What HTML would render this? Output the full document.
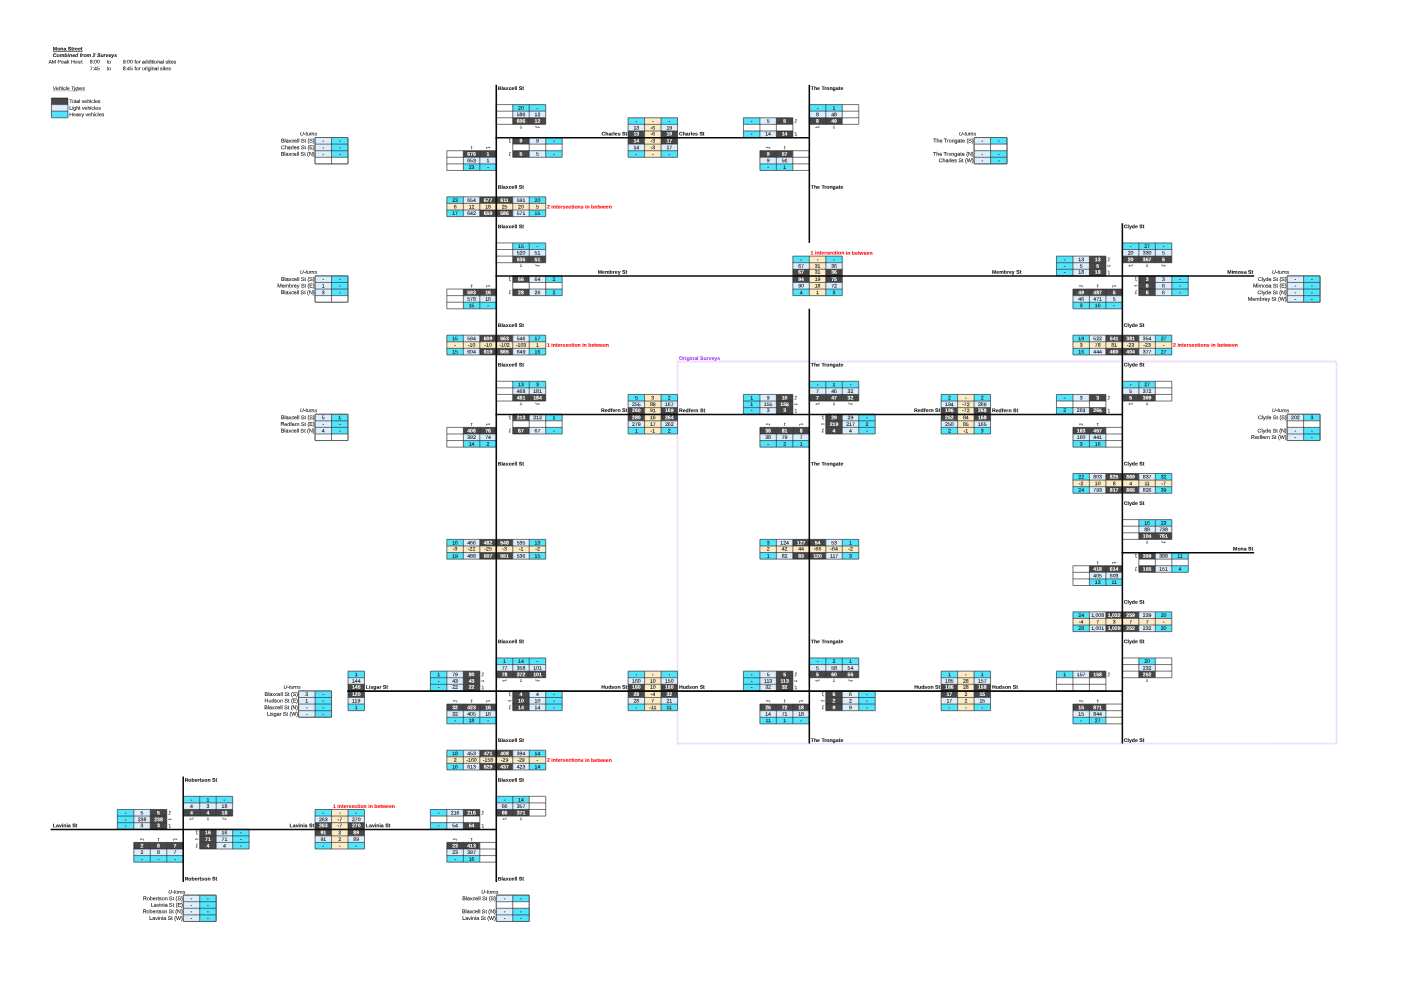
<!DOCTYPE html>
<html lang="en"><head><meta charset="utf-8"><title>Mona Street - Combined from 2 Surveys</title>
<style>
html,body{margin:0;padding:0;background:#fff}
body{width:1423px;height:989px;overflow:hidden}
svg{display:block;will-change:transform;text-rendering:geometricPrecision;font-family:"Liberation Sans",Arial,sans-serif;font-size:5.2px}
text{fill:#1a1a1a;stroke:#1a1a1a;stroke-width:0.11px}
text.wd{fill:#fff;font-weight:bold;stroke:#fff;stroke-width:0.08px}
text.b{font-weight:bold;fill:#111;stroke:#111;stroke-width:0.08px}
text.bi{font-weight:bold;font-style:italic;fill:#111;stroke:#111;stroke-width:0.08px}
text.i{font-style:italic}
text.ul{font-size:5.33px}
text.u{text-decoration:underline}
text.r{font-weight:bold;fill:#ff0000;stroke:#ff0000;stroke-width:0.08px}
text.p{font-weight:bold;fill:#9a38f5;stroke:#9a38f5;stroke-width:0.05px}
</style></head>
<body>
<svg width="1423" height="989" viewBox="0 0 1423 989">
<rect width="1423" height="989" fill="#fff"/>
<rect x="677.52" y="361.51" width="659.04" height="382.09" fill="none" stroke="#ebd0ff" stroke-width="1.8" stroke-dasharray="1.1 0.5"/>
<g font-size="5.2">
</g>
<g shape-rendering="auto">
<rect x="51.43" y="98" width="16.48" height="6.59" fill="#474747"/>
<rect x="51.43" y="104.59" width="16.48" height="6.59" fill="#dcedfc"/>
<rect x="51.43" y="111.18" width="16.48" height="6.59" fill="#50e5fc"/>
<rect x="496.28" y="104.59" width="16.48" height="6.59" fill="#ffffff"/>
<rect x="512.76" y="104.59" width="16.48" height="6.59" fill="#50e5fc"/>
<rect x="529.23" y="104.59" width="16.48" height="6.59" fill="#50e5fc"/>
<rect x="496.28" y="111.18" width="16.48" height="6.59" fill="#ffffff"/>
<rect x="512.76" y="111.18" width="16.48" height="6.59" fill="#dcedfc"/>
<rect x="529.23" y="111.18" width="16.48" height="6.59" fill="#dcedfc"/>
<rect x="496.28" y="117.77" width="16.48" height="6.59" fill="#ffffff"/>
<rect x="512.76" y="117.77" width="16.48" height="6.59" fill="#474747"/>
<rect x="529.23" y="117.77" width="16.48" height="6.59" fill="#474747"/>
<rect x="512.76" y="137.53" width="16.48" height="6.59" fill="#474747"/>
<rect x="529.23" y="137.53" width="16.48" height="6.59" fill="#dcedfc"/>
<rect x="545.71" y="137.53" width="16.48" height="6.59" fill="#50e5fc"/>
<rect x="512.76" y="144.12" width="16.48" height="6.59" fill="#ffffff"/>
<rect x="529.23" y="144.12" width="16.48" height="6.59" fill="#ffffff"/>
<rect x="545.71" y="144.12" width="16.48" height="6.59" fill="#ffffff"/>
<rect x="512.76" y="150.71" width="16.48" height="6.59" fill="#474747"/>
<rect x="529.23" y="150.71" width="16.48" height="6.59" fill="#dcedfc"/>
<rect x="545.71" y="150.71" width="16.48" height="6.59" fill="#50e5fc"/>
<rect x="446.85" y="150.71" width="16.48" height="6.59" fill="#ffffff"/>
<rect x="463.33" y="150.71" width="16.48" height="6.59" fill="#474747"/>
<rect x="479.8" y="150.71" width="16.48" height="6.59" fill="#474747"/>
<rect x="446.85" y="157.29" width="16.48" height="6.59" fill="#ffffff"/>
<rect x="463.33" y="157.29" width="16.48" height="6.59" fill="#dcedfc"/>
<rect x="479.8" y="157.29" width="16.48" height="6.59" fill="#dcedfc"/>
<rect x="446.85" y="163.88" width="16.48" height="6.59" fill="#ffffff"/>
<rect x="463.33" y="163.88" width="16.48" height="6.59" fill="#50e5fc"/>
<rect x="479.8" y="163.88" width="16.48" height="6.59" fill="#50e5fc"/>
<rect x="628.09" y="117.77" width="16.48" height="6.59" fill="#50e5fc"/>
<rect x="644.56" y="117.77" width="16.48" height="6.59" fill="#fbebc6"/>
<rect x="661.04" y="117.77" width="16.48" height="6.59" fill="#50e5fc"/>
<rect x="628.09" y="124.35" width="16.48" height="6.59" fill="#dcedfc"/>
<rect x="644.56" y="124.35" width="16.48" height="6.59" fill="#fbebc6"/>
<rect x="661.04" y="124.35" width="16.48" height="6.59" fill="#dcedfc"/>
<rect x="628.09" y="130.94" width="16.48" height="6.59" fill="#474747"/>
<rect x="644.56" y="130.94" width="16.48" height="6.59" fill="#fbebc6"/>
<rect x="661.04" y="130.94" width="16.48" height="6.59" fill="#474747"/>
<rect x="628.09" y="137.53" width="16.48" height="6.59" fill="#474747"/>
<rect x="644.56" y="137.53" width="16.48" height="6.59" fill="#fbebc6"/>
<rect x="661.04" y="137.53" width="16.48" height="6.59" fill="#474747"/>
<rect x="628.09" y="144.12" width="16.48" height="6.59" fill="#dcedfc"/>
<rect x="644.56" y="144.12" width="16.48" height="6.59" fill="#fbebc6"/>
<rect x="661.04" y="144.12" width="16.48" height="6.59" fill="#dcedfc"/>
<rect x="628.09" y="150.71" width="16.48" height="6.59" fill="#50e5fc"/>
<rect x="644.56" y="150.71" width="16.48" height="6.59" fill="#fbebc6"/>
<rect x="661.04" y="150.71" width="16.48" height="6.59" fill="#50e5fc"/>
<rect x="743.42" y="117.77" width="16.48" height="6.59" fill="#50e5fc"/>
<rect x="759.9" y="117.77" width="16.48" height="6.59" fill="#dcedfc"/>
<rect x="776.37" y="117.77" width="16.48" height="6.59" fill="#474747"/>
<rect x="743.42" y="124.35" width="16.48" height="6.59" fill="#ffffff"/>
<rect x="759.9" y="124.35" width="16.48" height="6.59" fill="#ffffff"/>
<rect x="776.37" y="124.35" width="16.48" height="6.59" fill="#ffffff"/>
<rect x="743.42" y="130.94" width="16.48" height="6.59" fill="#50e5fc"/>
<rect x="759.9" y="130.94" width="16.48" height="6.59" fill="#dcedfc"/>
<rect x="776.37" y="130.94" width="16.48" height="6.59" fill="#474747"/>
<rect x="809.32" y="104.59" width="16.48" height="6.59" fill="#50e5fc"/>
<rect x="825.8" y="104.59" width="16.48" height="6.59" fill="#50e5fc"/>
<rect x="842.28" y="104.59" width="16.48" height="6.59" fill="#ffffff"/>
<rect x="809.32" y="111.18" width="16.48" height="6.59" fill="#dcedfc"/>
<rect x="825.8" y="111.18" width="16.48" height="6.59" fill="#dcedfc"/>
<rect x="842.28" y="111.18" width="16.48" height="6.59" fill="#ffffff"/>
<rect x="809.32" y="117.77" width="16.48" height="6.59" fill="#474747"/>
<rect x="825.8" y="117.77" width="16.48" height="6.59" fill="#474747"/>
<rect x="842.28" y="117.77" width="16.48" height="6.59" fill="#ffffff"/>
<rect x="759.9" y="150.71" width="16.48" height="6.59" fill="#474747"/>
<rect x="776.37" y="150.71" width="16.48" height="6.59" fill="#474747"/>
<rect x="792.85" y="150.71" width="16.48" height="6.59" fill="#ffffff"/>
<rect x="759.9" y="157.29" width="16.48" height="6.59" fill="#dcedfc"/>
<rect x="776.37" y="157.29" width="16.48" height="6.59" fill="#dcedfc"/>
<rect x="792.85" y="157.29" width="16.48" height="6.59" fill="#ffffff"/>
<rect x="759.9" y="163.88" width="16.48" height="6.59" fill="#50e5fc"/>
<rect x="776.37" y="163.88" width="16.48" height="6.59" fill="#50e5fc"/>
<rect x="792.85" y="163.88" width="16.48" height="6.59" fill="#ffffff"/>
<rect x="315.04" y="137.53" width="16.48" height="6.59" fill="#dcedfc"/>
<rect x="331.52" y="137.53" width="16.48" height="6.59" fill="#50e5fc"/>
<rect x="315.04" y="144.12" width="16.48" height="6.59" fill="#dcedfc"/>
<rect x="331.52" y="144.12" width="16.48" height="6.59" fill="#50e5fc"/>
<rect x="315.04" y="150.71" width="16.48" height="6.59" fill="#dcedfc"/>
<rect x="331.52" y="150.71" width="16.48" height="6.59" fill="#50e5fc"/>
<rect x="315.04" y="157.29" width="16.48" height="6.59" fill="#ffffff"/>
<rect x="331.52" y="157.29" width="16.48" height="6.59" fill="#ffffff"/>
<rect x="974.08" y="137.53" width="16.48" height="6.59" fill="#dcedfc"/>
<rect x="990.56" y="137.53" width="16.48" height="6.59" fill="#50e5fc"/>
<rect x="974.08" y="144.12" width="16.48" height="6.59" fill="#ffffff"/>
<rect x="990.56" y="144.12" width="16.48" height="6.59" fill="#ffffff"/>
<rect x="974.08" y="150.71" width="16.48" height="6.59" fill="#dcedfc"/>
<rect x="990.56" y="150.71" width="16.48" height="6.59" fill="#50e5fc"/>
<rect x="974.08" y="157.29" width="16.48" height="6.59" fill="#dcedfc"/>
<rect x="990.56" y="157.29" width="16.48" height="6.59" fill="#50e5fc"/>
<rect x="446.85" y="196.82" width="16.48" height="6.59" fill="#50e5fc"/>
<rect x="463.33" y="196.82" width="16.48" height="6.59" fill="#dcedfc"/>
<rect x="479.8" y="196.82" width="16.48" height="6.59" fill="#474747"/>
<rect x="496.28" y="196.82" width="16.48" height="6.59" fill="#474747"/>
<rect x="512.76" y="196.82" width="16.48" height="6.59" fill="#dcedfc"/>
<rect x="529.23" y="196.82" width="16.48" height="6.59" fill="#50e5fc"/>
<rect x="446.85" y="203.41" width="16.48" height="6.59" fill="#fbebc6"/>
<rect x="463.33" y="203.41" width="16.48" height="6.59" fill="#fbebc6"/>
<rect x="479.8" y="203.41" width="16.48" height="6.59" fill="#fbebc6"/>
<rect x="496.28" y="203.41" width="16.48" height="6.59" fill="#fbebc6"/>
<rect x="512.76" y="203.41" width="16.48" height="6.59" fill="#fbebc6"/>
<rect x="529.23" y="203.41" width="16.48" height="6.59" fill="#fbebc6"/>
<rect x="446.85" y="209.99" width="16.48" height="6.59" fill="#50e5fc"/>
<rect x="463.33" y="209.99" width="16.48" height="6.59" fill="#dcedfc"/>
<rect x="479.8" y="209.99" width="16.48" height="6.59" fill="#474747"/>
<rect x="496.28" y="209.99" width="16.48" height="6.59" fill="#474747"/>
<rect x="512.76" y="209.99" width="16.48" height="6.59" fill="#dcedfc"/>
<rect x="529.23" y="209.99" width="16.48" height="6.59" fill="#50e5fc"/>
<rect x="496.28" y="242.93" width="16.48" height="6.59" fill="#ffffff"/>
<rect x="512.76" y="242.93" width="16.48" height="6.59" fill="#50e5fc"/>
<rect x="529.23" y="242.93" width="16.48" height="6.59" fill="#50e5fc"/>
<rect x="496.28" y="249.52" width="16.48" height="6.59" fill="#ffffff"/>
<rect x="512.76" y="249.52" width="16.48" height="6.59" fill="#dcedfc"/>
<rect x="529.23" y="249.52" width="16.48" height="6.59" fill="#dcedfc"/>
<rect x="496.28" y="256.11" width="16.48" height="6.59" fill="#ffffff"/>
<rect x="512.76" y="256.11" width="16.48" height="6.59" fill="#474747"/>
<rect x="529.23" y="256.11" width="16.48" height="6.59" fill="#474747"/>
<rect x="512.76" y="275.87" width="16.48" height="6.59" fill="#474747"/>
<rect x="529.23" y="275.87" width="16.48" height="6.59" fill="#dcedfc"/>
<rect x="545.71" y="275.87" width="16.48" height="6.59" fill="#50e5fc"/>
<rect x="512.76" y="282.46" width="16.48" height="6.59" fill="#ffffff"/>
<rect x="529.23" y="282.46" width="16.48" height="6.59" fill="#ffffff"/>
<rect x="545.71" y="282.46" width="16.48" height="6.59" fill="#ffffff"/>
<rect x="512.76" y="289.05" width="16.48" height="6.59" fill="#474747"/>
<rect x="529.23" y="289.05" width="16.48" height="6.59" fill="#dcedfc"/>
<rect x="545.71" y="289.05" width="16.48" height="6.59" fill="#50e5fc"/>
<rect x="446.85" y="289.05" width="16.48" height="6.59" fill="#ffffff"/>
<rect x="463.33" y="289.05" width="16.48" height="6.59" fill="#474747"/>
<rect x="479.8" y="289.05" width="16.48" height="6.59" fill="#474747"/>
<rect x="446.85" y="295.63" width="16.48" height="6.59" fill="#ffffff"/>
<rect x="463.33" y="295.63" width="16.48" height="6.59" fill="#dcedfc"/>
<rect x="479.8" y="295.63" width="16.48" height="6.59" fill="#dcedfc"/>
<rect x="446.85" y="302.22" width="16.48" height="6.59" fill="#ffffff"/>
<rect x="463.33" y="302.22" width="16.48" height="6.59" fill="#50e5fc"/>
<rect x="479.8" y="302.22" width="16.48" height="6.59" fill="#50e5fc"/>
<rect x="792.85" y="256.11" width="16.48" height="6.59" fill="#50e5fc"/>
<rect x="809.32" y="256.11" width="16.48" height="6.59" fill="#fbebc6"/>
<rect x="825.8" y="256.11" width="16.48" height="6.59" fill="#50e5fc"/>
<rect x="792.85" y="262.7" width="16.48" height="6.59" fill="#dcedfc"/>
<rect x="809.32" y="262.7" width="16.48" height="6.59" fill="#fbebc6"/>
<rect x="825.8" y="262.7" width="16.48" height="6.59" fill="#dcedfc"/>
<rect x="792.85" y="269.28" width="16.48" height="6.59" fill="#474747"/>
<rect x="809.32" y="269.28" width="16.48" height="6.59" fill="#fbebc6"/>
<rect x="825.8" y="269.28" width="16.48" height="6.59" fill="#474747"/>
<rect x="792.85" y="275.87" width="16.48" height="6.59" fill="#474747"/>
<rect x="809.32" y="275.87" width="16.48" height="6.59" fill="#fbebc6"/>
<rect x="825.8" y="275.87" width="16.48" height="6.59" fill="#474747"/>
<rect x="792.85" y="282.46" width="16.48" height="6.59" fill="#dcedfc"/>
<rect x="809.32" y="282.46" width="16.48" height="6.59" fill="#fbebc6"/>
<rect x="825.8" y="282.46" width="16.48" height="6.59" fill="#dcedfc"/>
<rect x="792.85" y="289.05" width="16.48" height="6.59" fill="#50e5fc"/>
<rect x="809.32" y="289.05" width="16.48" height="6.59" fill="#fbebc6"/>
<rect x="825.8" y="289.05" width="16.48" height="6.59" fill="#50e5fc"/>
<rect x="1122.37" y="242.93" width="16.48" height="6.59" fill="#50e5fc"/>
<rect x="1138.84" y="242.93" width="16.48" height="6.59" fill="#50e5fc"/>
<rect x="1155.32" y="242.93" width="16.48" height="6.59" fill="#50e5fc"/>
<rect x="1122.37" y="249.52" width="16.48" height="6.59" fill="#dcedfc"/>
<rect x="1138.84" y="249.52" width="16.48" height="6.59" fill="#dcedfc"/>
<rect x="1155.32" y="249.52" width="16.48" height="6.59" fill="#dcedfc"/>
<rect x="1122.37" y="256.11" width="16.48" height="6.59" fill="#474747"/>
<rect x="1138.84" y="256.11" width="16.48" height="6.59" fill="#474747"/>
<rect x="1155.32" y="256.11" width="16.48" height="6.59" fill="#474747"/>
<rect x="1056.46" y="256.11" width="16.48" height="6.59" fill="#50e5fc"/>
<rect x="1072.94" y="256.11" width="16.48" height="6.59" fill="#dcedfc"/>
<rect x="1089.42" y="256.11" width="16.48" height="6.59" fill="#474747"/>
<rect x="1056.46" y="262.7" width="16.48" height="6.59" fill="#50e5fc"/>
<rect x="1072.94" y="262.7" width="16.48" height="6.59" fill="#dcedfc"/>
<rect x="1089.42" y="262.7" width="16.48" height="6.59" fill="#474747"/>
<rect x="1056.46" y="269.28" width="16.48" height="6.59" fill="#50e5fc"/>
<rect x="1072.94" y="269.28" width="16.48" height="6.59" fill="#dcedfc"/>
<rect x="1089.42" y="269.28" width="16.48" height="6.59" fill="#474747"/>
<rect x="1138.84" y="275.87" width="16.48" height="6.59" fill="#474747"/>
<rect x="1155.32" y="275.87" width="16.48" height="6.59" fill="#dcedfc"/>
<rect x="1171.8" y="275.87" width="16.48" height="6.59" fill="#50e5fc"/>
<rect x="1138.84" y="282.46" width="16.48" height="6.59" fill="#474747"/>
<rect x="1155.32" y="282.46" width="16.48" height="6.59" fill="#dcedfc"/>
<rect x="1171.8" y="282.46" width="16.48" height="6.59" fill="#50e5fc"/>
<rect x="1138.84" y="289.05" width="16.48" height="6.59" fill="#474747"/>
<rect x="1155.32" y="289.05" width="16.48" height="6.59" fill="#dcedfc"/>
<rect x="1171.8" y="289.05" width="16.48" height="6.59" fill="#50e5fc"/>
<rect x="1072.94" y="289.05" width="16.48" height="6.59" fill="#474747"/>
<rect x="1089.42" y="289.05" width="16.48" height="6.59" fill="#474747"/>
<rect x="1105.89" y="289.05" width="16.48" height="6.59" fill="#474747"/>
<rect x="1072.94" y="295.63" width="16.48" height="6.59" fill="#dcedfc"/>
<rect x="1089.42" y="295.63" width="16.48" height="6.59" fill="#dcedfc"/>
<rect x="1105.89" y="295.63" width="16.48" height="6.59" fill="#dcedfc"/>
<rect x="1072.94" y="302.22" width="16.48" height="6.59" fill="#50e5fc"/>
<rect x="1089.42" y="302.22" width="16.48" height="6.59" fill="#50e5fc"/>
<rect x="1105.89" y="302.22" width="16.48" height="6.59" fill="#50e5fc"/>
<rect x="315.04" y="275.87" width="16.48" height="6.59" fill="#dcedfc"/>
<rect x="331.52" y="275.87" width="16.48" height="6.59" fill="#50e5fc"/>
<rect x="315.04" y="282.46" width="16.48" height="6.59" fill="#dcedfc"/>
<rect x="331.52" y="282.46" width="16.48" height="6.59" fill="#50e5fc"/>
<rect x="315.04" y="289.05" width="16.48" height="6.59" fill="#dcedfc"/>
<rect x="331.52" y="289.05" width="16.48" height="6.59" fill="#50e5fc"/>
<rect x="315.04" y="295.63" width="16.48" height="6.59" fill="#ffffff"/>
<rect x="331.52" y="295.63" width="16.48" height="6.59" fill="#ffffff"/>
<rect x="1287.13" y="275.87" width="16.48" height="6.59" fill="#dcedfc"/>
<rect x="1303.6" y="275.87" width="16.48" height="6.59" fill="#50e5fc"/>
<rect x="1287.13" y="282.46" width="16.48" height="6.59" fill="#dcedfc"/>
<rect x="1303.6" y="282.46" width="16.48" height="6.59" fill="#50e5fc"/>
<rect x="1287.13" y="289.05" width="16.48" height="6.59" fill="#dcedfc"/>
<rect x="1303.6" y="289.05" width="16.48" height="6.59" fill="#50e5fc"/>
<rect x="1287.13" y="295.63" width="16.48" height="6.59" fill="#dcedfc"/>
<rect x="1303.6" y="295.63" width="16.48" height="6.59" fill="#50e5fc"/>
<rect x="446.85" y="335.16" width="16.48" height="6.59" fill="#50e5fc"/>
<rect x="463.33" y="335.16" width="16.48" height="6.59" fill="#dcedfc"/>
<rect x="479.8" y="335.16" width="16.48" height="6.59" fill="#474747"/>
<rect x="496.28" y="335.16" width="16.48" height="6.59" fill="#474747"/>
<rect x="512.76" y="335.16" width="16.48" height="6.59" fill="#dcedfc"/>
<rect x="529.23" y="335.16" width="16.48" height="6.59" fill="#50e5fc"/>
<rect x="446.85" y="341.75" width="16.48" height="6.59" fill="#fbebc6"/>
<rect x="463.33" y="341.75" width="16.48" height="6.59" fill="#fbebc6"/>
<rect x="479.8" y="341.75" width="16.48" height="6.59" fill="#fbebc6"/>
<rect x="496.28" y="341.75" width="16.48" height="6.59" fill="#fbebc6"/>
<rect x="512.76" y="341.75" width="16.48" height="6.59" fill="#fbebc6"/>
<rect x="529.23" y="341.75" width="16.48" height="6.59" fill="#fbebc6"/>
<rect x="446.85" y="348.34" width="16.48" height="6.59" fill="#50e5fc"/>
<rect x="463.33" y="348.34" width="16.48" height="6.59" fill="#dcedfc"/>
<rect x="479.8" y="348.34" width="16.48" height="6.59" fill="#474747"/>
<rect x="496.28" y="348.34" width="16.48" height="6.59" fill="#474747"/>
<rect x="512.76" y="348.34" width="16.48" height="6.59" fill="#dcedfc"/>
<rect x="529.23" y="348.34" width="16.48" height="6.59" fill="#50e5fc"/>
<rect x="1072.94" y="335.16" width="16.48" height="6.59" fill="#50e5fc"/>
<rect x="1089.42" y="335.16" width="16.48" height="6.59" fill="#dcedfc"/>
<rect x="1105.89" y="335.16" width="16.48" height="6.59" fill="#474747"/>
<rect x="1122.37" y="335.16" width="16.48" height="6.59" fill="#474747"/>
<rect x="1138.84" y="335.16" width="16.48" height="6.59" fill="#dcedfc"/>
<rect x="1155.32" y="335.16" width="16.48" height="6.59" fill="#50e5fc"/>
<rect x="1072.94" y="341.75" width="16.48" height="6.59" fill="#fbebc6"/>
<rect x="1089.42" y="341.75" width="16.48" height="6.59" fill="#fbebc6"/>
<rect x="1105.89" y="341.75" width="16.48" height="6.59" fill="#fbebc6"/>
<rect x="1122.37" y="341.75" width="16.48" height="6.59" fill="#fbebc6"/>
<rect x="1138.84" y="341.75" width="16.48" height="6.59" fill="#fbebc6"/>
<rect x="1155.32" y="341.75" width="16.48" height="6.59" fill="#fbebc6"/>
<rect x="1072.94" y="348.34" width="16.48" height="6.59" fill="#50e5fc"/>
<rect x="1089.42" y="348.34" width="16.48" height="6.59" fill="#dcedfc"/>
<rect x="1105.89" y="348.34" width="16.48" height="6.59" fill="#474747"/>
<rect x="1122.37" y="348.34" width="16.48" height="6.59" fill="#474747"/>
<rect x="1138.84" y="348.34" width="16.48" height="6.59" fill="#dcedfc"/>
<rect x="1155.32" y="348.34" width="16.48" height="6.59" fill="#50e5fc"/>
<rect x="496.28" y="381.27" width="16.48" height="6.59" fill="#ffffff"/>
<rect x="512.76" y="381.27" width="16.48" height="6.59" fill="#50e5fc"/>
<rect x="529.23" y="381.27" width="16.48" height="6.59" fill="#50e5fc"/>
<rect x="496.28" y="387.86" width="16.48" height="6.59" fill="#ffffff"/>
<rect x="512.76" y="387.86" width="16.48" height="6.59" fill="#dcedfc"/>
<rect x="529.23" y="387.86" width="16.48" height="6.59" fill="#dcedfc"/>
<rect x="496.28" y="394.45" width="16.48" height="6.59" fill="#ffffff"/>
<rect x="512.76" y="394.45" width="16.48" height="6.59" fill="#474747"/>
<rect x="529.23" y="394.45" width="16.48" height="6.59" fill="#474747"/>
<rect x="512.76" y="414.21" width="16.48" height="6.59" fill="#474747"/>
<rect x="529.23" y="414.21" width="16.48" height="6.59" fill="#dcedfc"/>
<rect x="545.71" y="414.21" width="16.48" height="6.59" fill="#50e5fc"/>
<rect x="512.76" y="420.8" width="16.48" height="6.59" fill="#ffffff"/>
<rect x="529.23" y="420.8" width="16.48" height="6.59" fill="#ffffff"/>
<rect x="545.71" y="420.8" width="16.48" height="6.59" fill="#ffffff"/>
<rect x="512.76" y="427.39" width="16.48" height="6.59" fill="#474747"/>
<rect x="529.23" y="427.39" width="16.48" height="6.59" fill="#dcedfc"/>
<rect x="545.71" y="427.39" width="16.48" height="6.59" fill="#50e5fc"/>
<rect x="446.85" y="427.39" width="16.48" height="6.59" fill="#ffffff"/>
<rect x="463.33" y="427.39" width="16.48" height="6.59" fill="#474747"/>
<rect x="479.8" y="427.39" width="16.48" height="6.59" fill="#474747"/>
<rect x="446.85" y="433.98" width="16.48" height="6.59" fill="#ffffff"/>
<rect x="463.33" y="433.98" width="16.48" height="6.59" fill="#dcedfc"/>
<rect x="479.8" y="433.98" width="16.48" height="6.59" fill="#dcedfc"/>
<rect x="446.85" y="440.56" width="16.48" height="6.59" fill="#ffffff"/>
<rect x="463.33" y="440.56" width="16.48" height="6.59" fill="#50e5fc"/>
<rect x="479.8" y="440.56" width="16.48" height="6.59" fill="#50e5fc"/>
<rect x="628.09" y="394.45" width="16.48" height="6.59" fill="#50e5fc"/>
<rect x="644.56" y="394.45" width="16.48" height="6.59" fill="#fbebc6"/>
<rect x="661.04" y="394.45" width="16.48" height="6.59" fill="#50e5fc"/>
<rect x="628.09" y="401.04" width="16.48" height="6.59" fill="#dcedfc"/>
<rect x="644.56" y="401.04" width="16.48" height="6.59" fill="#fbebc6"/>
<rect x="661.04" y="401.04" width="16.48" height="6.59" fill="#dcedfc"/>
<rect x="628.09" y="407.63" width="16.48" height="6.59" fill="#474747"/>
<rect x="644.56" y="407.63" width="16.48" height="6.59" fill="#fbebc6"/>
<rect x="661.04" y="407.63" width="16.48" height="6.59" fill="#474747"/>
<rect x="628.09" y="414.21" width="16.48" height="6.59" fill="#474747"/>
<rect x="644.56" y="414.21" width="16.48" height="6.59" fill="#fbebc6"/>
<rect x="661.04" y="414.21" width="16.48" height="6.59" fill="#474747"/>
<rect x="628.09" y="420.8" width="16.48" height="6.59" fill="#dcedfc"/>
<rect x="644.56" y="420.8" width="16.48" height="6.59" fill="#fbebc6"/>
<rect x="661.04" y="420.8" width="16.48" height="6.59" fill="#dcedfc"/>
<rect x="628.09" y="427.39" width="16.48" height="6.59" fill="#50e5fc"/>
<rect x="644.56" y="427.39" width="16.48" height="6.59" fill="#fbebc6"/>
<rect x="661.04" y="427.39" width="16.48" height="6.59" fill="#50e5fc"/>
<rect x="743.42" y="394.45" width="16.48" height="6.59" fill="#50e5fc"/>
<rect x="759.9" y="394.45" width="16.48" height="6.59" fill="#dcedfc"/>
<rect x="776.37" y="394.45" width="16.48" height="6.59" fill="#474747"/>
<rect x="743.42" y="401.04" width="16.48" height="6.59" fill="#50e5fc"/>
<rect x="759.9" y="401.04" width="16.48" height="6.59" fill="#dcedfc"/>
<rect x="776.37" y="401.04" width="16.48" height="6.59" fill="#474747"/>
<rect x="743.42" y="407.63" width="16.48" height="6.59" fill="#50e5fc"/>
<rect x="759.9" y="407.63" width="16.48" height="6.59" fill="#dcedfc"/>
<rect x="776.37" y="407.63" width="16.48" height="6.59" fill="#474747"/>
<rect x="809.32" y="381.27" width="16.48" height="6.59" fill="#50e5fc"/>
<rect x="825.8" y="381.27" width="16.48" height="6.59" fill="#50e5fc"/>
<rect x="842.28" y="381.27" width="16.48" height="6.59" fill="#50e5fc"/>
<rect x="809.32" y="387.86" width="16.48" height="6.59" fill="#dcedfc"/>
<rect x="825.8" y="387.86" width="16.48" height="6.59" fill="#dcedfc"/>
<rect x="842.28" y="387.86" width="16.48" height="6.59" fill="#dcedfc"/>
<rect x="809.32" y="394.45" width="16.48" height="6.59" fill="#474747"/>
<rect x="825.8" y="394.45" width="16.48" height="6.59" fill="#474747"/>
<rect x="842.28" y="394.45" width="16.48" height="6.59" fill="#474747"/>
<rect x="825.8" y="414.21" width="16.48" height="6.59" fill="#474747"/>
<rect x="842.28" y="414.21" width="16.48" height="6.59" fill="#dcedfc"/>
<rect x="858.75" y="414.21" width="16.48" height="6.59" fill="#50e5fc"/>
<rect x="825.8" y="420.8" width="16.48" height="6.59" fill="#474747"/>
<rect x="842.28" y="420.8" width="16.48" height="6.59" fill="#dcedfc"/>
<rect x="858.75" y="420.8" width="16.48" height="6.59" fill="#50e5fc"/>
<rect x="825.8" y="427.39" width="16.48" height="6.59" fill="#474747"/>
<rect x="842.28" y="427.39" width="16.48" height="6.59" fill="#dcedfc"/>
<rect x="858.75" y="427.39" width="16.48" height="6.59" fill="#50e5fc"/>
<rect x="759.9" y="427.39" width="16.48" height="6.59" fill="#474747"/>
<rect x="776.37" y="427.39" width="16.48" height="6.59" fill="#474747"/>
<rect x="792.85" y="427.39" width="16.48" height="6.59" fill="#474747"/>
<rect x="759.9" y="433.98" width="16.48" height="6.59" fill="#dcedfc"/>
<rect x="776.37" y="433.98" width="16.48" height="6.59" fill="#dcedfc"/>
<rect x="792.85" y="433.98" width="16.48" height="6.59" fill="#dcedfc"/>
<rect x="759.9" y="440.56" width="16.48" height="6.59" fill="#50e5fc"/>
<rect x="776.37" y="440.56" width="16.48" height="6.59" fill="#50e5fc"/>
<rect x="792.85" y="440.56" width="16.48" height="6.59" fill="#50e5fc"/>
<rect x="941.13" y="394.45" width="16.48" height="6.59" fill="#50e5fc"/>
<rect x="957.61" y="394.45" width="16.48" height="6.59" fill="#fbebc6"/>
<rect x="974.08" y="394.45" width="16.48" height="6.59" fill="#50e5fc"/>
<rect x="941.13" y="401.04" width="16.48" height="6.59" fill="#dcedfc"/>
<rect x="957.61" y="401.04" width="16.48" height="6.59" fill="#fbebc6"/>
<rect x="974.08" y="401.04" width="16.48" height="6.59" fill="#dcedfc"/>
<rect x="941.13" y="407.63" width="16.48" height="6.59" fill="#474747"/>
<rect x="957.61" y="407.63" width="16.48" height="6.59" fill="#fbebc6"/>
<rect x="974.08" y="407.63" width="16.48" height="6.59" fill="#474747"/>
<rect x="941.13" y="414.21" width="16.48" height="6.59" fill="#474747"/>
<rect x="957.61" y="414.21" width="16.48" height="6.59" fill="#fbebc6"/>
<rect x="974.08" y="414.21" width="16.48" height="6.59" fill="#474747"/>
<rect x="941.13" y="420.8" width="16.48" height="6.59" fill="#dcedfc"/>
<rect x="957.61" y="420.8" width="16.48" height="6.59" fill="#fbebc6"/>
<rect x="974.08" y="420.8" width="16.48" height="6.59" fill="#dcedfc"/>
<rect x="941.13" y="427.39" width="16.48" height="6.59" fill="#50e5fc"/>
<rect x="957.61" y="427.39" width="16.48" height="6.59" fill="#fbebc6"/>
<rect x="974.08" y="427.39" width="16.48" height="6.59" fill="#50e5fc"/>
<rect x="1056.46" y="394.45" width="16.48" height="6.59" fill="#50e5fc"/>
<rect x="1072.94" y="394.45" width="16.48" height="6.59" fill="#dcedfc"/>
<rect x="1089.42" y="394.45" width="16.48" height="6.59" fill="#474747"/>
<rect x="1056.46" y="401.04" width="16.48" height="6.59" fill="#ffffff"/>
<rect x="1072.94" y="401.04" width="16.48" height="6.59" fill="#ffffff"/>
<rect x="1089.42" y="401.04" width="16.48" height="6.59" fill="#ffffff"/>
<rect x="1056.46" y="407.63" width="16.48" height="6.59" fill="#50e5fc"/>
<rect x="1072.94" y="407.63" width="16.48" height="6.59" fill="#dcedfc"/>
<rect x="1089.42" y="407.63" width="16.48" height="6.59" fill="#474747"/>
<rect x="1122.37" y="381.27" width="16.48" height="6.59" fill="#50e5fc"/>
<rect x="1138.84" y="381.27" width="16.48" height="6.59" fill="#50e5fc"/>
<rect x="1155.32" y="381.27" width="16.48" height="6.59" fill="#ffffff"/>
<rect x="1122.37" y="387.86" width="16.48" height="6.59" fill="#dcedfc"/>
<rect x="1138.84" y="387.86" width="16.48" height="6.59" fill="#dcedfc"/>
<rect x="1155.32" y="387.86" width="16.48" height="6.59" fill="#ffffff"/>
<rect x="1122.37" y="394.45" width="16.48" height="6.59" fill="#474747"/>
<rect x="1138.84" y="394.45" width="16.48" height="6.59" fill="#474747"/>
<rect x="1155.32" y="394.45" width="16.48" height="6.59" fill="#ffffff"/>
<rect x="1072.94" y="427.39" width="16.48" height="6.59" fill="#474747"/>
<rect x="1089.42" y="427.39" width="16.48" height="6.59" fill="#474747"/>
<rect x="1105.89" y="427.39" width="16.48" height="6.59" fill="#ffffff"/>
<rect x="1072.94" y="433.98" width="16.48" height="6.59" fill="#dcedfc"/>
<rect x="1089.42" y="433.98" width="16.48" height="6.59" fill="#dcedfc"/>
<rect x="1105.89" y="433.98" width="16.48" height="6.59" fill="#ffffff"/>
<rect x="1072.94" y="440.56" width="16.48" height="6.59" fill="#50e5fc"/>
<rect x="1089.42" y="440.56" width="16.48" height="6.59" fill="#50e5fc"/>
<rect x="1105.89" y="440.56" width="16.48" height="6.59" fill="#ffffff"/>
<rect x="315.04" y="414.21" width="16.48" height="6.59" fill="#dcedfc"/>
<rect x="331.52" y="414.21" width="16.48" height="6.59" fill="#50e5fc"/>
<rect x="315.04" y="420.8" width="16.48" height="6.59" fill="#dcedfc"/>
<rect x="331.52" y="420.8" width="16.48" height="6.59" fill="#50e5fc"/>
<rect x="315.04" y="427.39" width="16.48" height="6.59" fill="#dcedfc"/>
<rect x="331.52" y="427.39" width="16.48" height="6.59" fill="#50e5fc"/>
<rect x="315.04" y="433.98" width="16.48" height="6.59" fill="#ffffff"/>
<rect x="331.52" y="433.98" width="16.48" height="6.59" fill="#ffffff"/>
<rect x="1287.13" y="414.21" width="16.48" height="6.59" fill="#dcedfc"/>
<rect x="1303.6" y="414.21" width="16.48" height="6.59" fill="#50e5fc"/>
<rect x="1287.13" y="420.8" width="16.48" height="6.59" fill="#ffffff"/>
<rect x="1303.6" y="420.8" width="16.48" height="6.59" fill="#ffffff"/>
<rect x="1287.13" y="427.39" width="16.48" height="6.59" fill="#dcedfc"/>
<rect x="1303.6" y="427.39" width="16.48" height="6.59" fill="#50e5fc"/>
<rect x="1287.13" y="433.98" width="16.48" height="6.59" fill="#dcedfc"/>
<rect x="1303.6" y="433.98" width="16.48" height="6.59" fill="#50e5fc"/>
<rect x="1072.94" y="473.5" width="16.48" height="6.59" fill="#50e5fc"/>
<rect x="1089.42" y="473.5" width="16.48" height="6.59" fill="#dcedfc"/>
<rect x="1105.89" y="473.5" width="16.48" height="6.59" fill="#474747"/>
<rect x="1122.37" y="473.5" width="16.48" height="6.59" fill="#474747"/>
<rect x="1138.84" y="473.5" width="16.48" height="6.59" fill="#dcedfc"/>
<rect x="1155.32" y="473.5" width="16.48" height="6.59" fill="#50e5fc"/>
<rect x="1072.94" y="480.09" width="16.48" height="6.59" fill="#fbebc6"/>
<rect x="1089.42" y="480.09" width="16.48" height="6.59" fill="#fbebc6"/>
<rect x="1105.89" y="480.09" width="16.48" height="6.59" fill="#fbebc6"/>
<rect x="1122.37" y="480.09" width="16.48" height="6.59" fill="#fbebc6"/>
<rect x="1138.84" y="480.09" width="16.48" height="6.59" fill="#fbebc6"/>
<rect x="1155.32" y="480.09" width="16.48" height="6.59" fill="#fbebc6"/>
<rect x="1072.94" y="486.68" width="16.48" height="6.59" fill="#50e5fc"/>
<rect x="1089.42" y="486.68" width="16.48" height="6.59" fill="#dcedfc"/>
<rect x="1105.89" y="486.68" width="16.48" height="6.59" fill="#474747"/>
<rect x="1122.37" y="486.68" width="16.48" height="6.59" fill="#474747"/>
<rect x="1138.84" y="486.68" width="16.48" height="6.59" fill="#dcedfc"/>
<rect x="1155.32" y="486.68" width="16.48" height="6.59" fill="#50e5fc"/>
<rect x="446.85" y="539.38" width="16.48" height="6.59" fill="#50e5fc"/>
<rect x="463.33" y="539.38" width="16.48" height="6.59" fill="#dcedfc"/>
<rect x="479.8" y="539.38" width="16.48" height="6.59" fill="#474747"/>
<rect x="496.28" y="539.38" width="16.48" height="6.59" fill="#474747"/>
<rect x="512.76" y="539.38" width="16.48" height="6.59" fill="#dcedfc"/>
<rect x="529.23" y="539.38" width="16.48" height="6.59" fill="#50e5fc"/>
<rect x="446.85" y="545.97" width="16.48" height="6.59" fill="#fbebc6"/>
<rect x="463.33" y="545.97" width="16.48" height="6.59" fill="#fbebc6"/>
<rect x="479.8" y="545.97" width="16.48" height="6.59" fill="#fbebc6"/>
<rect x="496.28" y="545.97" width="16.48" height="6.59" fill="#fbebc6"/>
<rect x="512.76" y="545.97" width="16.48" height="6.59" fill="#fbebc6"/>
<rect x="529.23" y="545.97" width="16.48" height="6.59" fill="#fbebc6"/>
<rect x="446.85" y="552.56" width="16.48" height="6.59" fill="#50e5fc"/>
<rect x="463.33" y="552.56" width="16.48" height="6.59" fill="#dcedfc"/>
<rect x="479.8" y="552.56" width="16.48" height="6.59" fill="#474747"/>
<rect x="496.28" y="552.56" width="16.48" height="6.59" fill="#474747"/>
<rect x="512.76" y="552.56" width="16.48" height="6.59" fill="#dcedfc"/>
<rect x="529.23" y="552.56" width="16.48" height="6.59" fill="#50e5fc"/>
<rect x="759.9" y="539.38" width="16.48" height="6.59" fill="#50e5fc"/>
<rect x="776.37" y="539.38" width="16.48" height="6.59" fill="#dcedfc"/>
<rect x="792.85" y="539.38" width="16.48" height="6.59" fill="#474747"/>
<rect x="809.32" y="539.38" width="16.48" height="6.59" fill="#474747"/>
<rect x="825.8" y="539.38" width="16.48" height="6.59" fill="#dcedfc"/>
<rect x="842.28" y="539.38" width="16.48" height="6.59" fill="#50e5fc"/>
<rect x="759.9" y="545.97" width="16.48" height="6.59" fill="#fbebc6"/>
<rect x="776.37" y="545.97" width="16.48" height="6.59" fill="#fbebc6"/>
<rect x="792.85" y="545.97" width="16.48" height="6.59" fill="#fbebc6"/>
<rect x="809.32" y="545.97" width="16.48" height="6.59" fill="#fbebc6"/>
<rect x="825.8" y="545.97" width="16.48" height="6.59" fill="#fbebc6"/>
<rect x="842.28" y="545.97" width="16.48" height="6.59" fill="#fbebc6"/>
<rect x="759.9" y="552.56" width="16.48" height="6.59" fill="#50e5fc"/>
<rect x="776.37" y="552.56" width="16.48" height="6.59" fill="#dcedfc"/>
<rect x="792.85" y="552.56" width="16.48" height="6.59" fill="#474747"/>
<rect x="809.32" y="552.56" width="16.48" height="6.59" fill="#474747"/>
<rect x="825.8" y="552.56" width="16.48" height="6.59" fill="#dcedfc"/>
<rect x="842.28" y="552.56" width="16.48" height="6.59" fill="#50e5fc"/>
<rect x="1122.37" y="519.62" width="16.48" height="6.59" fill="#ffffff"/>
<rect x="1138.84" y="519.62" width="16.48" height="6.59" fill="#50e5fc"/>
<rect x="1155.32" y="519.62" width="16.48" height="6.59" fill="#50e5fc"/>
<rect x="1122.37" y="526.2" width="16.48" height="6.59" fill="#ffffff"/>
<rect x="1138.84" y="526.2" width="16.48" height="6.59" fill="#dcedfc"/>
<rect x="1155.32" y="526.2" width="16.48" height="6.59" fill="#dcedfc"/>
<rect x="1122.37" y="532.79" width="16.48" height="6.59" fill="#ffffff"/>
<rect x="1138.84" y="532.79" width="16.48" height="6.59" fill="#474747"/>
<rect x="1155.32" y="532.79" width="16.48" height="6.59" fill="#474747"/>
<rect x="1138.84" y="552.56" width="16.48" height="6.59" fill="#474747"/>
<rect x="1155.32" y="552.56" width="16.48" height="6.59" fill="#dcedfc"/>
<rect x="1171.8" y="552.56" width="16.48" height="6.59" fill="#50e5fc"/>
<rect x="1138.84" y="559.14" width="16.48" height="6.59" fill="#ffffff"/>
<rect x="1155.32" y="559.14" width="16.48" height="6.59" fill="#ffffff"/>
<rect x="1171.8" y="559.14" width="16.48" height="6.59" fill="#ffffff"/>
<rect x="1138.84" y="565.73" width="16.48" height="6.59" fill="#474747"/>
<rect x="1155.32" y="565.73" width="16.48" height="6.59" fill="#dcedfc"/>
<rect x="1171.8" y="565.73" width="16.48" height="6.59" fill="#50e5fc"/>
<rect x="1072.94" y="565.73" width="16.48" height="6.59" fill="#ffffff"/>
<rect x="1089.42" y="565.73" width="16.48" height="6.59" fill="#474747"/>
<rect x="1105.89" y="565.73" width="16.48" height="6.59" fill="#474747"/>
<rect x="1072.94" y="572.32" width="16.48" height="6.59" fill="#ffffff"/>
<rect x="1089.42" y="572.32" width="16.48" height="6.59" fill="#dcedfc"/>
<rect x="1105.89" y="572.32" width="16.48" height="6.59" fill="#dcedfc"/>
<rect x="1072.94" y="578.91" width="16.48" height="6.59" fill="#ffffff"/>
<rect x="1089.42" y="578.91" width="16.48" height="6.59" fill="#50e5fc"/>
<rect x="1105.89" y="578.91" width="16.48" height="6.59" fill="#50e5fc"/>
<rect x="1072.94" y="611.84" width="16.48" height="6.59" fill="#50e5fc"/>
<rect x="1089.42" y="611.84" width="16.48" height="6.59" fill="#dcedfc"/>
<rect x="1105.89" y="611.84" width="16.48" height="6.59" fill="#474747"/>
<rect x="1122.37" y="611.84" width="16.48" height="6.59" fill="#474747"/>
<rect x="1138.84" y="611.84" width="16.48" height="6.59" fill="#dcedfc"/>
<rect x="1155.32" y="611.84" width="16.48" height="6.59" fill="#50e5fc"/>
<rect x="1072.94" y="618.43" width="16.48" height="6.59" fill="#fbebc6"/>
<rect x="1089.42" y="618.43" width="16.48" height="6.59" fill="#fbebc6"/>
<rect x="1105.89" y="618.43" width="16.48" height="6.59" fill="#fbebc6"/>
<rect x="1122.37" y="618.43" width="16.48" height="6.59" fill="#fbebc6"/>
<rect x="1138.84" y="618.43" width="16.48" height="6.59" fill="#fbebc6"/>
<rect x="1155.32" y="618.43" width="16.48" height="6.59" fill="#fbebc6"/>
<rect x="1072.94" y="625.02" width="16.48" height="6.59" fill="#50e5fc"/>
<rect x="1089.42" y="625.02" width="16.48" height="6.59" fill="#dcedfc"/>
<rect x="1105.89" y="625.02" width="16.48" height="6.59" fill="#474747"/>
<rect x="1122.37" y="625.02" width="16.48" height="6.59" fill="#474747"/>
<rect x="1138.84" y="625.02" width="16.48" height="6.59" fill="#dcedfc"/>
<rect x="1155.32" y="625.02" width="16.48" height="6.59" fill="#50e5fc"/>
<rect x="298.57" y="690.9" width="16.48" height="6.59" fill="#dcedfc"/>
<rect x="315.04" y="690.9" width="16.48" height="6.59" fill="#50e5fc"/>
<rect x="298.57" y="697.48" width="16.48" height="6.59" fill="#dcedfc"/>
<rect x="315.04" y="697.48" width="16.48" height="6.59" fill="#50e5fc"/>
<rect x="298.57" y="704.07" width="16.48" height="6.59" fill="#dcedfc"/>
<rect x="315.04" y="704.07" width="16.48" height="6.59" fill="#50e5fc"/>
<rect x="298.57" y="710.66" width="16.48" height="6.59" fill="#dcedfc"/>
<rect x="315.04" y="710.66" width="16.48" height="6.59" fill="#50e5fc"/>
<rect x="348" y="671.13" width="16.48" height="6.59" fill="#50e5fc"/>
<rect x="348" y="677.72" width="16.48" height="6.59" fill="#dcedfc"/>
<rect x="348" y="684.31" width="16.48" height="6.59" fill="#474747"/>
<rect x="348" y="690.9" width="16.48" height="6.59" fill="#474747"/>
<rect x="348" y="697.48" width="16.48" height="6.59" fill="#dcedfc"/>
<rect x="348" y="704.07" width="16.48" height="6.59" fill="#50e5fc"/>
<rect x="430.38" y="671.13" width="16.48" height="6.59" fill="#50e5fc"/>
<rect x="446.85" y="671.13" width="16.48" height="6.59" fill="#dcedfc"/>
<rect x="463.33" y="671.13" width="16.48" height="6.59" fill="#474747"/>
<rect x="430.38" y="677.72" width="16.48" height="6.59" fill="#50e5fc"/>
<rect x="446.85" y="677.72" width="16.48" height="6.59" fill="#dcedfc"/>
<rect x="463.33" y="677.72" width="16.48" height="6.59" fill="#474747"/>
<rect x="430.38" y="684.31" width="16.48" height="6.59" fill="#50e5fc"/>
<rect x="446.85" y="684.31" width="16.48" height="6.59" fill="#dcedfc"/>
<rect x="463.33" y="684.31" width="16.48" height="6.59" fill="#474747"/>
<rect x="496.28" y="657.96" width="16.48" height="6.59" fill="#50e5fc"/>
<rect x="512.76" y="657.96" width="16.48" height="6.59" fill="#50e5fc"/>
<rect x="529.23" y="657.96" width="16.48" height="6.59" fill="#50e5fc"/>
<rect x="496.28" y="664.55" width="16.48" height="6.59" fill="#dcedfc"/>
<rect x="512.76" y="664.55" width="16.48" height="6.59" fill="#dcedfc"/>
<rect x="529.23" y="664.55" width="16.48" height="6.59" fill="#dcedfc"/>
<rect x="496.28" y="671.13" width="16.48" height="6.59" fill="#474747"/>
<rect x="512.76" y="671.13" width="16.48" height="6.59" fill="#474747"/>
<rect x="529.23" y="671.13" width="16.48" height="6.59" fill="#474747"/>
<rect x="512.76" y="690.9" width="16.48" height="6.59" fill="#474747"/>
<rect x="529.23" y="690.9" width="16.48" height="6.59" fill="#dcedfc"/>
<rect x="545.71" y="690.9" width="16.48" height="6.59" fill="#50e5fc"/>
<rect x="512.76" y="697.48" width="16.48" height="6.59" fill="#474747"/>
<rect x="529.23" y="697.48" width="16.48" height="6.59" fill="#dcedfc"/>
<rect x="545.71" y="697.48" width="16.48" height="6.59" fill="#50e5fc"/>
<rect x="512.76" y="704.07" width="16.48" height="6.59" fill="#474747"/>
<rect x="529.23" y="704.07" width="16.48" height="6.59" fill="#dcedfc"/>
<rect x="545.71" y="704.07" width="16.48" height="6.59" fill="#50e5fc"/>
<rect x="446.85" y="704.07" width="16.48" height="6.59" fill="#474747"/>
<rect x="463.33" y="704.07" width="16.48" height="6.59" fill="#474747"/>
<rect x="479.8" y="704.07" width="16.48" height="6.59" fill="#474747"/>
<rect x="446.85" y="710.66" width="16.48" height="6.59" fill="#dcedfc"/>
<rect x="463.33" y="710.66" width="16.48" height="6.59" fill="#dcedfc"/>
<rect x="479.8" y="710.66" width="16.48" height="6.59" fill="#dcedfc"/>
<rect x="446.85" y="717.25" width="16.48" height="6.59" fill="#50e5fc"/>
<rect x="463.33" y="717.25" width="16.48" height="6.59" fill="#50e5fc"/>
<rect x="479.8" y="717.25" width="16.48" height="6.59" fill="#50e5fc"/>
<rect x="628.09" y="671.13" width="16.48" height="6.59" fill="#50e5fc"/>
<rect x="644.56" y="671.13" width="16.48" height="6.59" fill="#fbebc6"/>
<rect x="661.04" y="671.13" width="16.48" height="6.59" fill="#50e5fc"/>
<rect x="628.09" y="677.72" width="16.48" height="6.59" fill="#dcedfc"/>
<rect x="644.56" y="677.72" width="16.48" height="6.59" fill="#fbebc6"/>
<rect x="661.04" y="677.72" width="16.48" height="6.59" fill="#dcedfc"/>
<rect x="628.09" y="684.31" width="16.48" height="6.59" fill="#474747"/>
<rect x="644.56" y="684.31" width="16.48" height="6.59" fill="#fbebc6"/>
<rect x="661.04" y="684.31" width="16.48" height="6.59" fill="#474747"/>
<rect x="628.09" y="690.9" width="16.48" height="6.59" fill="#474747"/>
<rect x="644.56" y="690.9" width="16.48" height="6.59" fill="#fbebc6"/>
<rect x="661.04" y="690.9" width="16.48" height="6.59" fill="#474747"/>
<rect x="628.09" y="697.48" width="16.48" height="6.59" fill="#dcedfc"/>
<rect x="644.56" y="697.48" width="16.48" height="6.59" fill="#fbebc6"/>
<rect x="661.04" y="697.48" width="16.48" height="6.59" fill="#dcedfc"/>
<rect x="628.09" y="704.07" width="16.48" height="6.59" fill="#50e5fc"/>
<rect x="644.56" y="704.07" width="16.48" height="6.59" fill="#fbebc6"/>
<rect x="661.04" y="704.07" width="16.48" height="6.59" fill="#50e5fc"/>
<rect x="743.42" y="671.13" width="16.48" height="6.59" fill="#50e5fc"/>
<rect x="759.9" y="671.13" width="16.48" height="6.59" fill="#dcedfc"/>
<rect x="776.37" y="671.13" width="16.48" height="6.59" fill="#474747"/>
<rect x="743.42" y="677.72" width="16.48" height="6.59" fill="#50e5fc"/>
<rect x="759.9" y="677.72" width="16.48" height="6.59" fill="#dcedfc"/>
<rect x="776.37" y="677.72" width="16.48" height="6.59" fill="#474747"/>
<rect x="743.42" y="684.31" width="16.48" height="6.59" fill="#50e5fc"/>
<rect x="759.9" y="684.31" width="16.48" height="6.59" fill="#dcedfc"/>
<rect x="776.37" y="684.31" width="16.48" height="6.59" fill="#474747"/>
<rect x="809.32" y="657.96" width="16.48" height="6.59" fill="#50e5fc"/>
<rect x="825.8" y="657.96" width="16.48" height="6.59" fill="#50e5fc"/>
<rect x="842.28" y="657.96" width="16.48" height="6.59" fill="#50e5fc"/>
<rect x="809.32" y="664.55" width="16.48" height="6.59" fill="#dcedfc"/>
<rect x="825.8" y="664.55" width="16.48" height="6.59" fill="#dcedfc"/>
<rect x="842.28" y="664.55" width="16.48" height="6.59" fill="#dcedfc"/>
<rect x="809.32" y="671.13" width="16.48" height="6.59" fill="#474747"/>
<rect x="825.8" y="671.13" width="16.48" height="6.59" fill="#474747"/>
<rect x="842.28" y="671.13" width="16.48" height="6.59" fill="#474747"/>
<rect x="825.8" y="690.9" width="16.48" height="6.59" fill="#474747"/>
<rect x="842.28" y="690.9" width="16.48" height="6.59" fill="#dcedfc"/>
<rect x="858.75" y="690.9" width="16.48" height="6.59" fill="#50e5fc"/>
<rect x="825.8" y="697.48" width="16.48" height="6.59" fill="#474747"/>
<rect x="842.28" y="697.48" width="16.48" height="6.59" fill="#dcedfc"/>
<rect x="858.75" y="697.48" width="16.48" height="6.59" fill="#50e5fc"/>
<rect x="825.8" y="704.07" width="16.48" height="6.59" fill="#474747"/>
<rect x="842.28" y="704.07" width="16.48" height="6.59" fill="#dcedfc"/>
<rect x="858.75" y="704.07" width="16.48" height="6.59" fill="#50e5fc"/>
<rect x="759.9" y="704.07" width="16.48" height="6.59" fill="#474747"/>
<rect x="776.37" y="704.07" width="16.48" height="6.59" fill="#474747"/>
<rect x="792.85" y="704.07" width="16.48" height="6.59" fill="#474747"/>
<rect x="759.9" y="710.66" width="16.48" height="6.59" fill="#dcedfc"/>
<rect x="776.37" y="710.66" width="16.48" height="6.59" fill="#dcedfc"/>
<rect x="792.85" y="710.66" width="16.48" height="6.59" fill="#dcedfc"/>
<rect x="759.9" y="717.25" width="16.48" height="6.59" fill="#50e5fc"/>
<rect x="776.37" y="717.25" width="16.48" height="6.59" fill="#50e5fc"/>
<rect x="792.85" y="717.25" width="16.48" height="6.59" fill="#50e5fc"/>
<rect x="941.13" y="671.13" width="16.48" height="6.59" fill="#50e5fc"/>
<rect x="957.61" y="671.13" width="16.48" height="6.59" fill="#fbebc6"/>
<rect x="974.08" y="671.13" width="16.48" height="6.59" fill="#50e5fc"/>
<rect x="941.13" y="677.72" width="16.48" height="6.59" fill="#dcedfc"/>
<rect x="957.61" y="677.72" width="16.48" height="6.59" fill="#fbebc6"/>
<rect x="974.08" y="677.72" width="16.48" height="6.59" fill="#dcedfc"/>
<rect x="941.13" y="684.31" width="16.48" height="6.59" fill="#474747"/>
<rect x="957.61" y="684.31" width="16.48" height="6.59" fill="#fbebc6"/>
<rect x="974.08" y="684.31" width="16.48" height="6.59" fill="#474747"/>
<rect x="941.13" y="690.9" width="16.48" height="6.59" fill="#474747"/>
<rect x="957.61" y="690.9" width="16.48" height="6.59" fill="#fbebc6"/>
<rect x="974.08" y="690.9" width="16.48" height="6.59" fill="#474747"/>
<rect x="941.13" y="697.48" width="16.48" height="6.59" fill="#dcedfc"/>
<rect x="957.61" y="697.48" width="16.48" height="6.59" fill="#fbebc6"/>
<rect x="974.08" y="697.48" width="16.48" height="6.59" fill="#dcedfc"/>
<rect x="941.13" y="704.07" width="16.48" height="6.59" fill="#50e5fc"/>
<rect x="957.61" y="704.07" width="16.48" height="6.59" fill="#fbebc6"/>
<rect x="974.08" y="704.07" width="16.48" height="6.59" fill="#50e5fc"/>
<rect x="1056.46" y="671.13" width="16.48" height="6.59" fill="#50e5fc"/>
<rect x="1072.94" y="671.13" width="16.48" height="6.59" fill="#dcedfc"/>
<rect x="1089.42" y="671.13" width="16.48" height="6.59" fill="#474747"/>
<rect x="1056.46" y="677.72" width="16.48" height="6.59" fill="#ffffff"/>
<rect x="1072.94" y="677.72" width="16.48" height="6.59" fill="#ffffff"/>
<rect x="1089.42" y="677.72" width="16.48" height="6.59" fill="#ffffff"/>
<rect x="1056.46" y="684.31" width="16.48" height="6.59" fill="#ffffff"/>
<rect x="1072.94" y="684.31" width="16.48" height="6.59" fill="#ffffff"/>
<rect x="1089.42" y="684.31" width="16.48" height="6.59" fill="#ffffff"/>
<rect x="1122.37" y="657.96" width="16.48" height="6.59" fill="#ffffff"/>
<rect x="1138.84" y="657.96" width="16.48" height="6.59" fill="#50e5fc"/>
<rect x="1155.32" y="657.96" width="16.48" height="6.59" fill="#ffffff"/>
<rect x="1122.37" y="664.55" width="16.48" height="6.59" fill="#ffffff"/>
<rect x="1138.84" y="664.55" width="16.48" height="6.59" fill="#dcedfc"/>
<rect x="1155.32" y="664.55" width="16.48" height="6.59" fill="#ffffff"/>
<rect x="1122.37" y="671.13" width="16.48" height="6.59" fill="#ffffff"/>
<rect x="1138.84" y="671.13" width="16.48" height="6.59" fill="#474747"/>
<rect x="1155.32" y="671.13" width="16.48" height="6.59" fill="#ffffff"/>
<rect x="1072.94" y="704.07" width="16.48" height="6.59" fill="#474747"/>
<rect x="1089.42" y="704.07" width="16.48" height="6.59" fill="#474747"/>
<rect x="1105.89" y="704.07" width="16.48" height="6.59" fill="#ffffff"/>
<rect x="1072.94" y="710.66" width="16.48" height="6.59" fill="#dcedfc"/>
<rect x="1089.42" y="710.66" width="16.48" height="6.59" fill="#dcedfc"/>
<rect x="1105.89" y="710.66" width="16.48" height="6.59" fill="#ffffff"/>
<rect x="1072.94" y="717.25" width="16.48" height="6.59" fill="#50e5fc"/>
<rect x="1089.42" y="717.25" width="16.48" height="6.59" fill="#50e5fc"/>
<rect x="1105.89" y="717.25" width="16.48" height="6.59" fill="#ffffff"/>
<rect x="446.85" y="750.19" width="16.48" height="6.59" fill="#50e5fc"/>
<rect x="463.33" y="750.19" width="16.48" height="6.59" fill="#dcedfc"/>
<rect x="479.8" y="750.19" width="16.48" height="6.59" fill="#474747"/>
<rect x="496.28" y="750.19" width="16.48" height="6.59" fill="#474747"/>
<rect x="512.76" y="750.19" width="16.48" height="6.59" fill="#dcedfc"/>
<rect x="529.23" y="750.19" width="16.48" height="6.59" fill="#50e5fc"/>
<rect x="446.85" y="756.77" width="16.48" height="6.59" fill="#fbebc6"/>
<rect x="463.33" y="756.77" width="16.48" height="6.59" fill="#fbebc6"/>
<rect x="479.8" y="756.77" width="16.48" height="6.59" fill="#fbebc6"/>
<rect x="496.28" y="756.77" width="16.48" height="6.59" fill="#fbebc6"/>
<rect x="512.76" y="756.77" width="16.48" height="6.59" fill="#fbebc6"/>
<rect x="529.23" y="756.77" width="16.48" height="6.59" fill="#fbebc6"/>
<rect x="446.85" y="763.36" width="16.48" height="6.59" fill="#50e5fc"/>
<rect x="463.33" y="763.36" width="16.48" height="6.59" fill="#dcedfc"/>
<rect x="479.8" y="763.36" width="16.48" height="6.59" fill="#474747"/>
<rect x="496.28" y="763.36" width="16.48" height="6.59" fill="#474747"/>
<rect x="512.76" y="763.36" width="16.48" height="6.59" fill="#dcedfc"/>
<rect x="529.23" y="763.36" width="16.48" height="6.59" fill="#50e5fc"/>
<rect x="117.33" y="809.48" width="16.48" height="6.59" fill="#50e5fc"/>
<rect x="133.81" y="809.48" width="16.48" height="6.59" fill="#dcedfc"/>
<rect x="150.28" y="809.48" width="16.48" height="6.59" fill="#474747"/>
<rect x="117.33" y="816.06" width="16.48" height="6.59" fill="#50e5fc"/>
<rect x="133.81" y="816.06" width="16.48" height="6.59" fill="#dcedfc"/>
<rect x="150.28" y="816.06" width="16.48" height="6.59" fill="#474747"/>
<rect x="117.33" y="822.65" width="16.48" height="6.59" fill="#50e5fc"/>
<rect x="133.81" y="822.65" width="16.48" height="6.59" fill="#dcedfc"/>
<rect x="150.28" y="822.65" width="16.48" height="6.59" fill="#474747"/>
<rect x="183.24" y="796.3" width="16.48" height="6.59" fill="#50e5fc"/>
<rect x="199.71" y="796.3" width="16.48" height="6.59" fill="#50e5fc"/>
<rect x="216.19" y="796.3" width="16.48" height="6.59" fill="#50e5fc"/>
<rect x="183.24" y="802.89" width="16.48" height="6.59" fill="#dcedfc"/>
<rect x="199.71" y="802.89" width="16.48" height="6.59" fill="#dcedfc"/>
<rect x="216.19" y="802.89" width="16.48" height="6.59" fill="#dcedfc"/>
<rect x="183.24" y="809.48" width="16.48" height="6.59" fill="#474747"/>
<rect x="199.71" y="809.48" width="16.48" height="6.59" fill="#474747"/>
<rect x="216.19" y="809.48" width="16.48" height="6.59" fill="#474747"/>
<rect x="199.71" y="829.24" width="16.48" height="6.59" fill="#474747"/>
<rect x="216.19" y="829.24" width="16.48" height="6.59" fill="#dcedfc"/>
<rect x="232.66" y="829.24" width="16.48" height="6.59" fill="#50e5fc"/>
<rect x="199.71" y="835.83" width="16.48" height="6.59" fill="#474747"/>
<rect x="216.19" y="835.83" width="16.48" height="6.59" fill="#dcedfc"/>
<rect x="232.66" y="835.83" width="16.48" height="6.59" fill="#50e5fc"/>
<rect x="199.71" y="842.41" width="16.48" height="6.59" fill="#474747"/>
<rect x="216.19" y="842.41" width="16.48" height="6.59" fill="#dcedfc"/>
<rect x="232.66" y="842.41" width="16.48" height="6.59" fill="#50e5fc"/>
<rect x="133.81" y="842.41" width="16.48" height="6.59" fill="#474747"/>
<rect x="150.28" y="842.41" width="16.48" height="6.59" fill="#474747"/>
<rect x="166.76" y="842.41" width="16.48" height="6.59" fill="#474747"/>
<rect x="133.81" y="849" width="16.48" height="6.59" fill="#dcedfc"/>
<rect x="150.28" y="849" width="16.48" height="6.59" fill="#dcedfc"/>
<rect x="166.76" y="849" width="16.48" height="6.59" fill="#dcedfc"/>
<rect x="133.81" y="855.59" width="16.48" height="6.59" fill="#50e5fc"/>
<rect x="150.28" y="855.59" width="16.48" height="6.59" fill="#50e5fc"/>
<rect x="166.76" y="855.59" width="16.48" height="6.59" fill="#50e5fc"/>
<rect x="183.24" y="895.12" width="16.48" height="6.59" fill="#dcedfc"/>
<rect x="199.71" y="895.12" width="16.48" height="6.59" fill="#50e5fc"/>
<rect x="183.24" y="901.7" width="16.48" height="6.59" fill="#dcedfc"/>
<rect x="199.71" y="901.7" width="16.48" height="6.59" fill="#50e5fc"/>
<rect x="183.24" y="908.29" width="16.48" height="6.59" fill="#dcedfc"/>
<rect x="199.71" y="908.29" width="16.48" height="6.59" fill="#50e5fc"/>
<rect x="183.24" y="914.88" width="16.48" height="6.59" fill="#dcedfc"/>
<rect x="199.71" y="914.88" width="16.48" height="6.59" fill="#50e5fc"/>
<rect x="315.04" y="809.48" width="16.48" height="6.59" fill="#50e5fc"/>
<rect x="331.52" y="809.48" width="16.48" height="6.59" fill="#fbebc6"/>
<rect x="348" y="809.48" width="16.48" height="6.59" fill="#50e5fc"/>
<rect x="315.04" y="816.06" width="16.48" height="6.59" fill="#dcedfc"/>
<rect x="331.52" y="816.06" width="16.48" height="6.59" fill="#fbebc6"/>
<rect x="348" y="816.06" width="16.48" height="6.59" fill="#dcedfc"/>
<rect x="315.04" y="822.65" width="16.48" height="6.59" fill="#474747"/>
<rect x="331.52" y="822.65" width="16.48" height="6.59" fill="#fbebc6"/>
<rect x="348" y="822.65" width="16.48" height="6.59" fill="#474747"/>
<rect x="315.04" y="829.24" width="16.48" height="6.59" fill="#474747"/>
<rect x="331.52" y="829.24" width="16.48" height="6.59" fill="#fbebc6"/>
<rect x="348" y="829.24" width="16.48" height="6.59" fill="#474747"/>
<rect x="315.04" y="835.83" width="16.48" height="6.59" fill="#dcedfc"/>
<rect x="331.52" y="835.83" width="16.48" height="6.59" fill="#fbebc6"/>
<rect x="348" y="835.83" width="16.48" height="6.59" fill="#dcedfc"/>
<rect x="315.04" y="842.41" width="16.48" height="6.59" fill="#50e5fc"/>
<rect x="331.52" y="842.41" width="16.48" height="6.59" fill="#fbebc6"/>
<rect x="348" y="842.41" width="16.48" height="6.59" fill="#50e5fc"/>
<rect x="430.38" y="809.48" width="16.48" height="6.59" fill="#50e5fc"/>
<rect x="446.85" y="809.48" width="16.48" height="6.59" fill="#dcedfc"/>
<rect x="463.33" y="809.48" width="16.48" height="6.59" fill="#474747"/>
<rect x="430.38" y="816.06" width="16.48" height="6.59" fill="#ffffff"/>
<rect x="446.85" y="816.06" width="16.48" height="6.59" fill="#ffffff"/>
<rect x="463.33" y="816.06" width="16.48" height="6.59" fill="#ffffff"/>
<rect x="430.38" y="822.65" width="16.48" height="6.59" fill="#50e5fc"/>
<rect x="446.85" y="822.65" width="16.48" height="6.59" fill="#dcedfc"/>
<rect x="463.33" y="822.65" width="16.48" height="6.59" fill="#474747"/>
<rect x="496.28" y="796.3" width="16.48" height="6.59" fill="#50e5fc"/>
<rect x="512.76" y="796.3" width="16.48" height="6.59" fill="#50e5fc"/>
<rect x="529.23" y="796.3" width="16.48" height="6.59" fill="#ffffff"/>
<rect x="496.28" y="802.89" width="16.48" height="6.59" fill="#dcedfc"/>
<rect x="512.76" y="802.89" width="16.48" height="6.59" fill="#dcedfc"/>
<rect x="529.23" y="802.89" width="16.48" height="6.59" fill="#ffffff"/>
<rect x="496.28" y="809.48" width="16.48" height="6.59" fill="#474747"/>
<rect x="512.76" y="809.48" width="16.48" height="6.59" fill="#474747"/>
<rect x="529.23" y="809.48" width="16.48" height="6.59" fill="#ffffff"/>
<rect x="446.85" y="842.41" width="16.48" height="6.59" fill="#474747"/>
<rect x="463.33" y="842.41" width="16.48" height="6.59" fill="#474747"/>
<rect x="479.8" y="842.41" width="16.48" height="6.59" fill="#ffffff"/>
<rect x="446.85" y="849" width="16.48" height="6.59" fill="#dcedfc"/>
<rect x="463.33" y="849" width="16.48" height="6.59" fill="#dcedfc"/>
<rect x="479.8" y="849" width="16.48" height="6.59" fill="#ffffff"/>
<rect x="446.85" y="855.59" width="16.48" height="6.59" fill="#50e5fc"/>
<rect x="463.33" y="855.59" width="16.48" height="6.59" fill="#50e5fc"/>
<rect x="479.8" y="855.59" width="16.48" height="6.59" fill="#ffffff"/>
<rect x="496.28" y="895.12" width="16.48" height="6.59" fill="#dcedfc"/>
<rect x="512.76" y="895.12" width="16.48" height="6.59" fill="#50e5fc"/>
<rect x="496.28" y="901.7" width="16.48" height="6.59" fill="#ffffff"/>
<rect x="512.76" y="901.7" width="16.48" height="6.59" fill="#ffffff"/>
<rect x="496.28" y="908.29" width="16.48" height="6.59" fill="#dcedfc"/>
<rect x="512.76" y="908.29" width="16.48" height="6.59" fill="#50e5fc"/>
<rect x="496.28" y="914.88" width="16.48" height="6.59" fill="#dcedfc"/>
<rect x="512.76" y="914.88" width="16.48" height="6.59" fill="#50e5fc"/>
</g>
<g fill="none" stroke="#1e1e1e" stroke-width="0.62">
<path d="M51.43 98V117.77M67.9 98V117.77M51.43 98H67.9M51.43 104.59H67.9M51.43 111.18H67.9M51.43 117.77H67.9"/>
<path d="M496.28 104.59V124.35M512.76 104.59V124.35M529.23 104.59V124.35M545.71 104.59V124.35M496.28 104.59H545.71M496.28 111.18H545.71M496.28 117.77H545.71M496.28 124.35H545.71"/>
<path d="M512.76 137.53V157.29M529.23 137.53V157.29M545.71 137.53V157.29M562.18 137.53V157.29M512.76 137.53H562.18M512.76 144.12H562.18M512.76 150.71H562.18M512.76 157.29H562.18"/>
<path d="M446.85 150.71V170.47M463.33 150.71V170.47M479.8 150.71V170.47M496.28 150.71V170.47M446.85 150.71H496.28M446.85 157.29H496.28M446.85 163.88H496.28M446.85 170.47H496.28"/>
<path d="M628.09 117.77V157.29M644.56 117.77V157.29M661.04 117.77V157.29M677.52 117.77V157.29M628.09 117.77H677.52M628.09 124.35H677.52M628.09 130.94H677.52M628.09 137.53H677.52M628.09 144.12H677.52M628.09 150.71H677.52M628.09 157.29H677.52"/>
<path d="M743.42 117.77V137.53M759.9 117.77V137.53M776.37 117.77V137.53M792.85 117.77V137.53M743.42 117.77H792.85M743.42 124.35H792.85M743.42 130.94H792.85M743.42 137.53H792.85"/>
<path d="M809.32 104.59V124.35M825.8 104.59V124.35M842.28 104.59V124.35M858.75 104.59V124.35M809.32 104.59H858.75M809.32 111.18H858.75M809.32 117.77H858.75M809.32 124.35H858.75"/>
<path d="M759.9 150.71V170.47M776.37 150.71V170.47M792.85 150.71V170.47M809.32 150.71V170.47M759.9 150.71H809.32M759.9 157.29H809.32M759.9 163.88H809.32M759.9 170.47H809.32"/>
<path d="M315.04 137.53V163.88M331.52 137.53V163.88M348 137.53V163.88M315.04 137.53H348M315.04 144.12H348M315.04 150.71H348M315.04 157.29H348M315.04 163.88H348"/>
<path d="M974.08 137.53V163.88M990.56 137.53V163.88M1007.04 137.53V163.88M974.08 137.53H1007.04M974.08 144.12H1007.04M974.08 150.71H1007.04M974.08 157.29H1007.04M974.08 163.88H1007.04"/>
<path d="M446.85 196.82V216.58M463.33 196.82V216.58M479.8 196.82V216.58M496.28 196.82V216.58M512.76 196.82V216.58M529.23 196.82V216.58M545.71 196.82V216.58M446.85 196.82H545.71M446.85 203.41H545.71M446.85 209.99H545.71M446.85 216.58H545.71"/>
<path d="M496.28 242.93V262.7M512.76 242.93V262.7M529.23 242.93V262.7M545.71 242.93V262.7M496.28 242.93H545.71M496.28 249.52H545.71M496.28 256.11H545.71M496.28 262.7H545.71"/>
<path d="M512.76 275.87V295.63M529.23 275.87V295.63M545.71 275.87V295.63M562.18 275.87V295.63M512.76 275.87H562.18M512.76 282.46H562.18M512.76 289.05H562.18M512.76 295.63H562.18"/>
<path d="M446.85 289.05V308.81M463.33 289.05V308.81M479.8 289.05V308.81M496.28 289.05V308.81M446.85 289.05H496.28M446.85 295.63H496.28M446.85 302.22H496.28M446.85 308.81H496.28"/>
<path d="M792.85 256.11V295.63M809.32 256.11V295.63M825.8 256.11V295.63M842.28 256.11V295.63M792.85 256.11H842.28M792.85 262.7H842.28M792.85 269.28H842.28M792.85 275.87H842.28M792.85 282.46H842.28M792.85 289.05H842.28M792.85 295.63H842.28"/>
<path d="M1122.37 242.93V262.7M1138.84 242.93V262.7M1155.32 242.93V262.7M1171.8 242.93V262.7M1122.37 242.93H1171.8M1122.37 249.52H1171.8M1122.37 256.11H1171.8M1122.37 262.7H1171.8"/>
<path d="M1056.46 256.11V275.87M1072.94 256.11V275.87M1089.42 256.11V275.87M1105.89 256.11V275.87M1056.46 256.11H1105.89M1056.46 262.7H1105.89M1056.46 269.28H1105.89M1056.46 275.87H1105.89"/>
<path d="M1138.84 275.87V295.63M1155.32 275.87V295.63M1171.8 275.87V295.63M1188.27 275.87V295.63M1138.84 275.87H1188.27M1138.84 282.46H1188.27M1138.84 289.05H1188.27M1138.84 295.63H1188.27"/>
<path d="M1072.94 289.05V308.81M1089.42 289.05V308.81M1105.89 289.05V308.81M1122.37 289.05V308.81M1072.94 289.05H1122.37M1072.94 295.63H1122.37M1072.94 302.22H1122.37M1072.94 308.81H1122.37"/>
<path d="M315.04 275.87V302.22M331.52 275.87V302.22M348 275.87V302.22M315.04 275.87H348M315.04 282.46H348M315.04 289.05H348M315.04 295.63H348M315.04 302.22H348"/>
<path d="M1287.13 275.87V302.22M1303.6 275.87V302.22M1320.08 275.87V302.22M1287.13 275.87H1320.08M1287.13 282.46H1320.08M1287.13 289.05H1320.08M1287.13 295.63H1320.08M1287.13 302.22H1320.08"/>
<path d="M446.85 335.16V354.92M463.33 335.16V354.92M479.8 335.16V354.92M496.28 335.16V354.92M512.76 335.16V354.92M529.23 335.16V354.92M545.71 335.16V354.92M446.85 335.16H545.71M446.85 341.75H545.71M446.85 348.34H545.71M446.85 354.92H545.71"/>
<path d="M1072.94 335.16V354.92M1089.42 335.16V354.92M1105.89 335.16V354.92M1122.37 335.16V354.92M1138.84 335.16V354.92M1155.32 335.16V354.92M1171.8 335.16V354.92M1072.94 335.16H1171.8M1072.94 341.75H1171.8M1072.94 348.34H1171.8M1072.94 354.92H1171.8"/>
<path d="M496.28 381.27V401.04M512.76 381.27V401.04M529.23 381.27V401.04M545.71 381.27V401.04M496.28 381.27H545.71M496.28 387.86H545.71M496.28 394.45H545.71M496.28 401.04H545.71"/>
<path d="M512.76 414.21V433.98M529.23 414.21V433.98M545.71 414.21V433.98M562.18 414.21V433.98M512.76 414.21H562.18M512.76 420.8H562.18M512.76 427.39H562.18M512.76 433.98H562.18"/>
<path d="M446.85 427.39V447.15M463.33 427.39V447.15M479.8 427.39V447.15M496.28 427.39V447.15M446.85 427.39H496.28M446.85 433.98H496.28M446.85 440.56H496.28M446.85 447.15H496.28"/>
<path d="M628.09 394.45V433.98M644.56 394.45V433.98M661.04 394.45V433.98M677.52 394.45V433.98M628.09 394.45H677.52M628.09 401.04H677.52M628.09 407.63H677.52M628.09 414.21H677.52M628.09 420.8H677.52M628.09 427.39H677.52M628.09 433.98H677.52"/>
<path d="M743.42 394.45V414.21M759.9 394.45V414.21M776.37 394.45V414.21M792.85 394.45V414.21M743.42 394.45H792.85M743.42 401.04H792.85M743.42 407.63H792.85M743.42 414.21H792.85"/>
<path d="M809.32 381.27V401.04M825.8 381.27V401.04M842.28 381.27V401.04M858.75 381.27V401.04M809.32 381.27H858.75M809.32 387.86H858.75M809.32 394.45H858.75M809.32 401.04H858.75"/>
<path d="M825.8 414.21V433.98M842.28 414.21V433.98M858.75 414.21V433.98M875.23 414.21V433.98M825.8 414.21H875.23M825.8 420.8H875.23M825.8 427.39H875.23M825.8 433.98H875.23"/>
<path d="M759.9 427.39V447.15M776.37 427.39V447.15M792.85 427.39V447.15M809.32 427.39V447.15M759.9 427.39H809.32M759.9 433.98H809.32M759.9 440.56H809.32M759.9 447.15H809.32"/>
<path d="M941.13 394.45V433.98M957.61 394.45V433.98M974.08 394.45V433.98M990.56 394.45V433.98M941.13 394.45H990.56M941.13 401.04H990.56M941.13 407.63H990.56M941.13 414.21H990.56M941.13 420.8H990.56M941.13 427.39H990.56M941.13 433.98H990.56"/>
<path d="M1056.46 394.45V414.21M1072.94 394.45V414.21M1089.42 394.45V414.21M1105.89 394.45V414.21M1056.46 394.45H1105.89M1056.46 401.04H1105.89M1056.46 407.63H1105.89M1056.46 414.21H1105.89"/>
<path d="M1122.37 381.27V401.04M1138.84 381.27V401.04M1155.32 381.27V401.04M1171.8 381.27V401.04M1122.37 381.27H1171.8M1122.37 387.86H1171.8M1122.37 394.45H1171.8M1122.37 401.04H1171.8"/>
<path d="M1072.94 427.39V447.15M1089.42 427.39V447.15M1105.89 427.39V447.15M1122.37 427.39V447.15M1072.94 427.39H1122.37M1072.94 433.98H1122.37M1072.94 440.56H1122.37M1072.94 447.15H1122.37"/>
<path d="M315.04 414.21V440.56M331.52 414.21V440.56M348 414.21V440.56M315.04 414.21H348M315.04 420.8H348M315.04 427.39H348M315.04 433.98H348M315.04 440.56H348"/>
<path d="M1287.13 414.21V440.56M1303.6 414.21V440.56M1320.08 414.21V440.56M1287.13 414.21H1320.08M1287.13 420.8H1320.08M1287.13 427.39H1320.08M1287.13 433.98H1320.08M1287.13 440.56H1320.08"/>
<path d="M1072.94 473.5V493.27M1089.42 473.5V493.27M1105.89 473.5V493.27M1122.37 473.5V493.27M1138.84 473.5V493.27M1155.32 473.5V493.27M1171.8 473.5V493.27M1072.94 473.5H1171.8M1072.94 480.09H1171.8M1072.94 486.68H1171.8M1072.94 493.27H1171.8"/>
<path d="M446.85 539.38V559.14M463.33 539.38V559.14M479.8 539.38V559.14M496.28 539.38V559.14M512.76 539.38V559.14M529.23 539.38V559.14M545.71 539.38V559.14M446.85 539.38H545.71M446.85 545.97H545.71M446.85 552.56H545.71M446.85 559.14H545.71"/>
<path d="M759.9 539.38V559.14M776.37 539.38V559.14M792.85 539.38V559.14M809.32 539.38V559.14M825.8 539.38V559.14M842.28 539.38V559.14M858.75 539.38V559.14M759.9 539.38H858.75M759.9 545.97H858.75M759.9 552.56H858.75M759.9 559.14H858.75"/>
<path d="M1122.37 519.62V539.38M1138.84 519.62V539.38M1155.32 519.62V539.38M1171.8 519.62V539.38M1122.37 519.62H1171.8M1122.37 526.2H1171.8M1122.37 532.79H1171.8M1122.37 539.38H1171.8"/>
<path d="M1138.84 552.56V572.32M1155.32 552.56V572.32M1171.8 552.56V572.32M1188.27 552.56V572.32M1138.84 552.56H1188.27M1138.84 559.14H1188.27M1138.84 565.73H1188.27M1138.84 572.32H1188.27"/>
<path d="M1072.94 565.73V585.49M1089.42 565.73V585.49M1105.89 565.73V585.49M1122.37 565.73V585.49M1072.94 565.73H1122.37M1072.94 572.32H1122.37M1072.94 578.91H1122.37M1072.94 585.49H1122.37"/>
<path d="M1072.94 611.84V631.61M1089.42 611.84V631.61M1105.89 611.84V631.61M1122.37 611.84V631.61M1138.84 611.84V631.61M1155.32 611.84V631.61M1171.8 611.84V631.61M1072.94 611.84H1171.8M1072.94 618.43H1171.8M1072.94 625.02H1171.8M1072.94 631.61H1171.8"/>
<path d="M298.57 690.9V717.25M315.04 690.9V717.25M331.52 690.9V717.25M298.57 690.9H331.52M298.57 697.48H331.52M298.57 704.07H331.52M298.57 710.66H331.52M298.57 717.25H331.52"/>
<path d="M348 671.13V710.66M364.47 671.13V710.66M348 671.13H364.47M348 677.72H364.47M348 684.31H364.47M348 690.9H364.47M348 697.48H364.47M348 704.07H364.47M348 710.66H364.47"/>
<path d="M430.38 671.13V690.9M446.85 671.13V690.9M463.33 671.13V690.9M479.8 671.13V690.9M430.38 671.13H479.8M430.38 677.72H479.8M430.38 684.31H479.8M430.38 690.9H479.8"/>
<path d="M496.28 657.96V677.72M512.76 657.96V677.72M529.23 657.96V677.72M545.71 657.96V677.72M496.28 657.96H545.71M496.28 664.55H545.71M496.28 671.13H545.71M496.28 677.72H545.71"/>
<path d="M512.76 690.9V710.66M529.23 690.9V710.66M545.71 690.9V710.66M562.18 690.9V710.66M512.76 690.9H562.18M512.76 697.48H562.18M512.76 704.07H562.18M512.76 710.66H562.18"/>
<path d="M446.85 704.07V723.84M463.33 704.07V723.84M479.8 704.07V723.84M496.28 704.07V723.84M446.85 704.07H496.28M446.85 710.66H496.28M446.85 717.25H496.28M446.85 723.84H496.28"/>
<path d="M628.09 671.13V710.66M644.56 671.13V710.66M661.04 671.13V710.66M677.52 671.13V710.66M628.09 671.13H677.52M628.09 677.72H677.52M628.09 684.31H677.52M628.09 690.9H677.52M628.09 697.48H677.52M628.09 704.07H677.52M628.09 710.66H677.52"/>
<path d="M743.42 671.13V690.9M759.9 671.13V690.9M776.37 671.13V690.9M792.85 671.13V690.9M743.42 671.13H792.85M743.42 677.72H792.85M743.42 684.31H792.85M743.42 690.9H792.85"/>
<path d="M809.32 657.96V677.72M825.8 657.96V677.72M842.28 657.96V677.72M858.75 657.96V677.72M809.32 657.96H858.75M809.32 664.55H858.75M809.32 671.13H858.75M809.32 677.72H858.75"/>
<path d="M825.8 690.9V710.66M842.28 690.9V710.66M858.75 690.9V710.66M875.23 690.9V710.66M825.8 690.9H875.23M825.8 697.48H875.23M825.8 704.07H875.23M825.8 710.66H875.23"/>
<path d="M759.9 704.07V723.84M776.37 704.07V723.84M792.85 704.07V723.84M809.32 704.07V723.84M759.9 704.07H809.32M759.9 710.66H809.32M759.9 717.25H809.32M759.9 723.84H809.32"/>
<path d="M941.13 671.13V710.66M957.61 671.13V710.66M974.08 671.13V710.66M990.56 671.13V710.66M941.13 671.13H990.56M941.13 677.72H990.56M941.13 684.31H990.56M941.13 690.9H990.56M941.13 697.48H990.56M941.13 704.07H990.56M941.13 710.66H990.56"/>
<path d="M1056.46 671.13V690.9M1072.94 671.13V690.9M1089.42 671.13V690.9M1105.89 671.13V690.9M1056.46 671.13H1105.89M1056.46 677.72H1105.89M1056.46 684.31H1105.89M1056.46 690.9H1105.89"/>
<path d="M1122.37 657.96V677.72M1138.84 657.96V677.72M1155.32 657.96V677.72M1171.8 657.96V677.72M1122.37 657.96H1171.8M1122.37 664.55H1171.8M1122.37 671.13H1171.8M1122.37 677.72H1171.8"/>
<path d="M1072.94 704.07V723.84M1089.42 704.07V723.84M1105.89 704.07V723.84M1122.37 704.07V723.84M1072.94 704.07H1122.37M1072.94 710.66H1122.37M1072.94 717.25H1122.37M1072.94 723.84H1122.37"/>
<path d="M446.85 750.19V769.95M463.33 750.19V769.95M479.8 750.19V769.95M496.28 750.19V769.95M512.76 750.19V769.95M529.23 750.19V769.95M545.71 750.19V769.95M446.85 750.19H545.71M446.85 756.77H545.71M446.85 763.36H545.71M446.85 769.95H545.71"/>
<path d="M117.33 809.48V829.24M133.81 809.48V829.24M150.28 809.48V829.24M166.76 809.48V829.24M117.33 809.48H166.76M117.33 816.06H166.76M117.33 822.65H166.76M117.33 829.24H166.76"/>
<path d="M183.24 796.3V816.06M199.71 796.3V816.06M216.19 796.3V816.06M232.66 796.3V816.06M183.24 796.3H232.66M183.24 802.89H232.66M183.24 809.48H232.66M183.24 816.06H232.66"/>
<path d="M199.71 829.24V849M216.19 829.24V849M232.66 829.24V849M249.14 829.24V849M199.71 829.24H249.14M199.71 835.83H249.14M199.71 842.41H249.14M199.71 849H249.14"/>
<path d="M133.81 842.41V862.18M150.28 842.41V862.18M166.76 842.41V862.18M183.24 842.41V862.18M133.81 842.41H183.24M133.81 849H183.24M133.81 855.59H183.24M133.81 862.18H183.24"/>
<path d="M183.24 895.12V921.47M199.71 895.12V921.47M216.19 895.12V921.47M183.24 895.12H216.19M183.24 901.7H216.19M183.24 908.29H216.19M183.24 914.88H216.19M183.24 921.47H216.19"/>
<path d="M315.04 809.48V849M331.52 809.48V849M348 809.48V849M364.47 809.48V849M315.04 809.48H364.47M315.04 816.06H364.47M315.04 822.65H364.47M315.04 829.24H364.47M315.04 835.83H364.47M315.04 842.41H364.47M315.04 849H364.47"/>
<path d="M430.38 809.48V829.24M446.85 809.48V829.24M463.33 809.48V829.24M479.8 809.48V829.24M430.38 809.48H479.8M430.38 816.06H479.8M430.38 822.65H479.8M430.38 829.24H479.8"/>
<path d="M496.28 796.3V816.06M512.76 796.3V816.06M529.23 796.3V816.06M545.71 796.3V816.06M496.28 796.3H545.71M496.28 802.89H545.71M496.28 809.48H545.71M496.28 816.06H545.71"/>
<path d="M446.85 842.41V862.18M463.33 842.41V862.18M479.8 842.41V862.18M496.28 842.41V862.18M446.85 842.41H496.28M446.85 849H496.28M446.85 855.59H496.28M446.85 862.18H496.28"/>
<path d="M496.28 895.12V921.47M512.76 895.12V921.47M529.23 895.12V921.47M496.28 895.12H529.23M496.28 901.7H529.23M496.28 908.29H529.23M496.28 914.88H529.23M496.28 921.47H529.23"/>
</g>
<g fill="none" stroke="#555" stroke-width="0.6">
<rect x="315.04" y="137.53" width="32.95" height="26.35" rx="0.8"/>
<rect x="974.08" y="137.53" width="32.95" height="26.35" rx="0.8"/>
<rect x="315.04" y="275.87" width="32.95" height="26.35" rx="0.8"/>
<rect x="1287.13" y="275.87" width="32.95" height="26.35" rx="0.8"/>
<rect x="315.04" y="414.21" width="32.95" height="26.35" rx="0.8"/>
<rect x="1287.13" y="414.21" width="32.95" height="26.35" rx="0.8"/>
<rect x="298.57" y="690.9" width="32.95" height="26.35" rx="0.8"/>
<rect x="183.24" y="895.12" width="32.95" height="26.35" rx="0.8"/>
<rect x="496.28" y="895.12" width="32.95" height="26.35" rx="0.8"/>
</g>
<g stroke="#0a0a0a" stroke-width="1.55">
<line x1="496.28" y1="84.83" x2="496.28" y2="881.94"/>
<line x1="809.32" y1="84.83" x2="809.32" y2="242.93"/>
<line x1="809.32" y1="308.81" x2="809.32" y2="743.6"/>
<line x1="1122.37" y1="223.17" x2="1122.37" y2="743.6"/>
<line x1="183.24" y1="776.54" x2="183.24" y2="881.94"/>
<line x1="495.5" y1="137.73" x2="809.32" y2="137.73"/>
<line x1="495.5" y1="276.07" x2="1254.18" y2="276.07"/>
<line x1="495.5" y1="414.41" x2="1122.37" y2="414.41"/>
<line x1="1121.59" y1="552.76" x2="1254.18" y2="552.76"/>
<line x1="347.22" y1="691.1" x2="1122.37" y2="691.1"/>
<line x1="50.65" y1="829.44" x2="496.28" y2="829.44"/>
</g>
<g stroke="#777" stroke-width="0.45">
<line x1="52.63" y1="90.83" x2="85.43" y2="90.83"/>
</g>
<g fill="none" stroke="#333" stroke-width="0.6">
<path d="M520.99 125.45V128.45M520.19 127.65L520.99 128.45L521.79 127.65"/>
<path d="M535.87 125.85V127.35H539.27M538.47 126.55L539.27 127.35L538.47 128.15"/>
<path d="M511.06 142.42H509.66V139.02M508.86 139.82L509.66 139.02L510.46 139.82"/>
<path d="M511.06 152.4H509.66V155.8M508.86 155L509.66 155.8L510.46 155"/>
<path d="M471.57 149.41V146.41M470.77 147.21L471.57 146.41L472.37 147.21"/>
<path d="M486.44 149.01V147.51H489.84M489.04 146.71L489.84 147.51L489.04 148.31"/>
<path d="M794.55 122.66H795.95V119.26M795.15 120.06L795.95 119.26L796.75 120.06"/>
<path d="M794.55 132.64H795.95V136.04M795.15 135.24L795.95 136.04L796.75 135.24"/>
<path d="M819.16 125.85V127.35H815.76M816.56 126.55L815.76 127.35L816.56 128.15"/>
<path d="M834.04 125.45V128.45M833.24 127.65L834.04 128.45L834.84 127.65"/>
<path d="M769.73 149.01V147.51H766.33M767.13 146.71L766.33 147.51L767.13 148.31"/>
<path d="M784.61 149.41V146.41M783.81 147.21L784.61 146.41L785.41 147.21"/>
<path d="M520.99 263.8V266.8M520.19 266L520.99 266.8L521.79 266"/>
<path d="M535.87 264.2V265.7H539.27M538.47 264.9L539.27 265.7L538.47 266.5"/>
<path d="M511.06 280.77H509.66V277.37M508.86 278.17L509.66 277.37L510.46 278.17"/>
<path d="M511.06 290.74H509.66V294.14M508.86 293.34L509.66 294.14L510.46 293.34"/>
<path d="M471.57 287.75V284.75M470.77 285.55L471.57 284.75L472.37 285.55"/>
<path d="M486.44 287.35V285.85H489.84M489.04 285.05L489.84 285.85L489.04 286.65"/>
<path d="M1132.21 264.2V265.7H1128.81M1129.61 264.9L1128.81 265.7L1129.61 266.5"/>
<path d="M1147.08 263.8V266.8M1146.28 266L1147.08 266.8L1147.88 266"/>
<path d="M1161.96 264.2V265.7H1165.36M1164.56 264.9L1165.36 265.7L1164.56 266.5"/>
<path d="M1107.59 261H1108.99V257.6M1108.19 258.4L1108.99 257.6L1109.79 258.4"/>
<path d="M1106.99 265.99H1110.19M1109.39 265.19L1110.19 265.99L1109.39 266.79"/>
<path d="M1107.59 270.98H1108.99V274.38M1108.19 273.58L1108.99 274.38L1109.79 273.58"/>
<path d="M1137.14 280.77H1135.74V277.37M1134.94 278.17L1135.74 277.37L1136.54 278.17"/>
<path d="M1137.74 285.75H1134.54M1135.34 284.95L1134.54 285.75L1135.34 286.55"/>
<path d="M1137.14 290.74H1135.74V294.14M1134.94 293.34L1135.74 294.14L1136.54 293.34"/>
<path d="M1082.78 287.35V285.85H1079.38M1080.18 285.05L1079.38 285.85L1080.18 286.65"/>
<path d="M1097.65 287.75V284.75M1096.85 285.55L1097.65 284.75L1098.45 285.55"/>
<path d="M1112.53 287.35V285.85H1115.93M1115.13 285.05L1115.93 285.85L1115.13 286.65"/>
<path d="M520.99 402.14V405.14M520.19 404.34L520.99 405.14L521.79 404.34"/>
<path d="M535.87 402.54V404.04H539.27M538.47 403.24L539.27 404.04L538.47 404.84"/>
<path d="M511.06 419.11H509.66V415.71M508.86 416.51L509.66 415.71L510.46 416.51"/>
<path d="M511.06 429.08H509.66V432.48M508.86 431.68L509.66 432.48L510.46 431.68"/>
<path d="M471.57 426.09V423.09M470.77 423.89L471.57 423.09L472.37 423.89"/>
<path d="M486.44 425.69V424.19H489.84M489.04 423.39L489.84 424.19L489.04 424.99"/>
<path d="M794.55 399.34H795.95V395.94M795.15 396.74L795.95 395.94L796.75 396.74"/>
<path d="M793.95 404.33H797.15M796.35 403.53L797.15 404.33L796.35 405.13"/>
<path d="M794.55 409.32H795.95V412.72M795.15 411.92L795.95 412.72L796.75 411.92"/>
<path d="M819.16 402.54V404.04H815.76M816.56 403.24L815.76 404.04L816.56 404.84"/>
<path d="M834.04 402.14V405.14M833.24 404.34L834.04 405.14L834.84 404.34"/>
<path d="M848.91 402.54V404.04H852.31M851.51 403.24L852.31 404.04L851.51 404.84"/>
<path d="M824.1 419.11H822.7V415.71M821.9 416.51L822.7 415.71L823.5 416.51"/>
<path d="M824.7 424.09H821.5M822.3 423.29L821.5 424.09L822.3 424.89"/>
<path d="M824.1 429.08H822.7V432.48M821.9 431.68L822.7 432.48L823.5 431.68"/>
<path d="M769.73 425.69V424.19H766.33M767.13 423.39L766.33 424.19L767.13 424.99"/>
<path d="M784.61 426.09V423.09M783.81 423.89L784.61 423.09L785.41 423.89"/>
<path d="M799.49 425.69V424.19H802.89M802.09 423.39L802.89 424.19L802.09 424.99"/>
<path d="M1107.59 399.34H1108.99V395.94M1108.19 396.74L1108.99 395.94L1109.79 396.74"/>
<path d="M1107.59 409.32H1108.99V412.72M1108.19 411.92L1108.99 412.72L1109.79 411.92"/>
<path d="M1132.21 402.54V404.04H1128.81M1129.61 403.24L1128.81 404.04L1129.61 404.84"/>
<path d="M1147.08 402.14V405.14M1146.28 404.34L1147.08 405.14L1147.88 404.34"/>
<path d="M1082.78 425.69V424.19H1079.38M1080.18 423.39L1079.38 424.19L1080.18 424.99"/>
<path d="M1097.65 426.09V423.09M1096.85 423.89L1097.65 423.09L1098.45 423.89"/>
<path d="M1147.08 540.48V543.48M1146.28 542.68L1147.08 543.48L1147.88 542.68"/>
<path d="M1161.96 540.88V542.38H1165.36M1164.56 541.58L1165.36 542.38L1164.56 543.18"/>
<path d="M1137.14 557.45H1135.74V554.05M1134.94 554.85L1135.74 554.05L1136.54 554.85"/>
<path d="M1137.14 567.42H1135.74V570.82M1134.94 570.02L1135.74 570.82L1136.54 570.02"/>
<path d="M1097.65 564.43V561.43M1096.85 562.23L1097.65 561.43L1098.45 562.23"/>
<path d="M1112.53 564.03V562.53H1115.93M1115.13 561.73L1115.93 562.53L1115.13 563.33"/>
<path d="M481.5 676.03H482.9V672.63M482.1 673.43L482.9 672.63L483.7 673.43"/>
<path d="M480.9 681.02H484.1M483.3 680.22L484.1 681.02L483.3 681.82"/>
<path d="M481.5 686H482.9V689.4M482.1 688.6L482.9 689.4L483.7 688.6"/>
<path d="M506.12 679.22V680.72H502.72M503.52 679.92L502.72 680.72L503.52 681.52"/>
<path d="M520.99 678.82V681.82M520.19 681.02L520.99 681.82L521.79 681.02"/>
<path d="M535.87 679.22V680.72H539.27M538.47 679.92L539.27 680.72L538.47 681.52"/>
<path d="M511.06 695.79H509.66V692.39M508.86 693.19L509.66 692.39L510.46 693.19"/>
<path d="M511.66 700.78H508.46M509.26 699.98L508.46 700.78L509.26 701.58"/>
<path d="M511.06 705.77H509.66V709.17M508.86 708.37L509.66 709.17L510.46 708.37"/>
<path d="M456.69 702.37V700.87H453.29M454.09 700.07L453.29 700.87L454.09 701.67"/>
<path d="M471.57 702.77V699.77M470.77 700.57L471.57 699.77L472.37 700.57"/>
<path d="M486.44 702.37V700.87H489.84M489.04 700.07L489.84 700.87L489.04 701.67"/>
<path d="M794.55 676.03H795.95V672.63M795.15 673.43L795.95 672.63L796.75 673.43"/>
<path d="M793.95 681.02H797.15M796.35 680.22L797.15 681.02L796.35 681.82"/>
<path d="M794.55 686H795.95V689.4M795.15 688.6L795.95 689.4L796.75 688.6"/>
<path d="M819.16 679.22V680.72H815.76M816.56 679.92L815.76 680.72L816.56 681.52"/>
<path d="M834.04 678.82V681.82M833.24 681.02L834.04 681.82L834.84 681.02"/>
<path d="M848.91 679.22V680.72H852.31M851.51 679.92L852.31 680.72L851.51 681.52"/>
<path d="M824.1 695.79H822.7V692.39M821.9 693.19L822.7 692.39L823.5 693.19"/>
<path d="M824.7 700.78H821.5M822.3 699.98L821.5 700.78L822.3 701.58"/>
<path d="M824.1 705.77H822.7V709.17M821.9 708.37L822.7 709.17L823.5 708.37"/>
<path d="M769.73 702.37V700.87H766.33M767.13 700.07L766.33 700.87L767.13 701.67"/>
<path d="M784.61 702.77V699.77M783.81 700.57L784.61 699.77L785.41 700.57"/>
<path d="M799.49 702.37V700.87H802.89M802.09 700.07L802.89 700.87L802.09 701.67"/>
<path d="M1107.59 676.03H1108.99V672.63M1108.19 673.43L1108.99 672.63L1109.79 673.43"/>
<path d="M1147.08 678.82V681.82M1146.28 681.02L1147.08 681.82L1147.88 681.02"/>
<path d="M1082.78 702.37V700.87H1079.38M1080.18 700.07L1079.38 700.87L1080.18 701.67"/>
<path d="M1097.65 702.77V699.77M1096.85 700.57L1097.65 699.77L1098.45 700.57"/>
<path d="M168.46 814.37H169.86V810.97M169.06 811.77L169.86 810.97L170.66 811.77"/>
<path d="M167.86 819.36H171.06M170.26 818.56L171.06 819.36L170.26 820.16"/>
<path d="M168.46 824.34H169.86V827.74M169.06 826.94L169.86 827.74L170.66 826.94"/>
<path d="M193.07 817.56V819.06H189.67M190.47 818.26L189.67 819.06L190.47 819.86"/>
<path d="M207.95 817.16V820.16M207.15 819.36L207.95 820.16L208.75 819.36"/>
<path d="M222.83 817.56V819.06H226.23M225.43 818.26L226.23 819.06L225.43 819.86"/>
<path d="M198.01 834.13H196.61V830.73M195.81 831.53L196.61 830.73L197.41 831.53"/>
<path d="M198.61 839.12H195.41M196.21 838.32L195.41 839.12L196.21 839.92"/>
<path d="M198.01 844.11H196.61V847.51M195.81 846.71L196.61 847.51L197.41 846.71"/>
<path d="M143.65 840.71V839.21H140.25M141.05 838.41L140.25 839.21L141.05 840.01"/>
<path d="M158.52 841.11V838.11M157.72 838.91L158.52 838.11L159.32 838.91"/>
<path d="M173.4 840.71V839.21H176.8M176 838.41L176.8 839.21L176 840.01"/>
<path d="M481.5 814.37H482.9V810.97M482.1 811.77L482.9 810.97L483.7 811.77"/>
<path d="M481.5 824.34H482.9V827.74M482.1 826.94L482.9 827.74L483.7 826.94"/>
<path d="M506.12 817.56V819.06H502.72M503.52 818.26L502.72 819.06L503.52 819.86"/>
<path d="M520.99 817.16V820.16M520.19 819.36L520.99 820.16L521.79 819.36"/>
<path d="M456.69 840.71V839.21H453.29M454.09 838.41L453.29 839.21L454.09 840.01"/>
<path d="M471.57 841.11V838.11M470.77 838.91L471.57 838.11L472.37 838.91"/>
</g>
<g font-size="5.2">
<text x="52.83" y="50.4" transform="matrix(1 0.0005 0 1 0 -0.0264)" class="b u">Mona Street</text>
<text x="52.83" y="56.99" transform="matrix(1 0.0005 0 1 0 -0.0264)" class="bi">Combined from 2 Surveys</text>
<text x="83.58" y="63.58" transform="matrix(1 0.0005 0 1 0 -0.0418)" text-anchor="end" class="n">AM Peak Hour:</text>
<text x="99.86" y="63.58" transform="matrix(1 0.0005 0 1 0 -0.0499)" text-anchor="end" class="n">8:00</text>
<text x="109.09" y="63.58" transform="matrix(1 0.0005 0 1 0 -0.0545)" text-anchor="middle" class="n">to</text>
<text x="132.81" y="63.58" transform="matrix(1 0.0005 0 1 0 -0.0664)" text-anchor="end" class="n">9:00</text>
<text x="134.41" y="63.58" transform="matrix(1 0.0005 0 1 0 -0.0672)" class="n">for additional sites</text>
<text x="99.86" y="70.17" transform="matrix(1 0.0005 0 1 0 -0.0499)" text-anchor="end" class="n">7:45</text>
<text x="109.09" y="70.17" transform="matrix(1 0.0005 0 1 0 -0.0545)" text-anchor="middle" class="n">to</text>
<text x="132.81" y="70.17" transform="matrix(1 0.0005 0 1 0 -0.0664)" text-anchor="end" class="n">8:45</text>
<text x="134.41" y="70.17" transform="matrix(1 0.0005 0 1 0 -0.0672)" class="n">for original sites</text>
<text x="52.83" y="89.93" transform="matrix(1 0.0005 0 1 0 -0.0264)" class="i">Vehicle Types</text>
<text x="69.3" y="103.1" transform="matrix(1 0.0005 0 1 0 -0.0347)" class="n">Total vehicles</text>
<text x="69.3" y="109.69" transform="matrix(1 0.0005 0 1 0 -0.0347)" class="n">Light vehicles</text>
<text x="69.3" y="116.28" transform="matrix(1 0.0005 0 1 0 -0.0347)" class="n">Heavy vehicles</text>
<text x="497.68" y="89.93" transform="matrix(1 0.0005 0 1 0 -0.2488)" class="b">Blaxcell St</text>
<text x="497.68" y="188.74" transform="matrix(1 0.0005 0 1 0 -0.2488)" class="b">Blaxcell St</text>
<text x="497.68" y="228.27" transform="matrix(1 0.0005 0 1 0 -0.2488)" class="b">Blaxcell St</text>
<text x="497.68" y="327.09" transform="matrix(1 0.0005 0 1 0 -0.2488)" class="b">Blaxcell St</text>
<text x="497.68" y="366.61" transform="matrix(1 0.0005 0 1 0 -0.2488)" class="b">Blaxcell St</text>
<text x="497.68" y="465.43" transform="matrix(1 0.0005 0 1 0 -0.2488)" class="b">Blaxcell St</text>
<text x="497.68" y="643.3" transform="matrix(1 0.0005 0 1 0 -0.2488)" class="b">Blaxcell St</text>
<text x="497.68" y="742.11" transform="matrix(1 0.0005 0 1 0 -0.2488)" class="b">Blaxcell St</text>
<text x="497.68" y="781.64" transform="matrix(1 0.0005 0 1 0 -0.2488)" class="b">Blaxcell St</text>
<text x="497.68" y="880.45" transform="matrix(1 0.0005 0 1 0 -0.2488)" class="b">Blaxcell St</text>
<text x="810.72" y="89.93" transform="matrix(1 0.0005 0 1 0 -0.4054)" class="b">The Trongate</text>
<text x="810.72" y="188.74" transform="matrix(1 0.0005 0 1 0 -0.4054)" class="b">The Trongate</text>
<text x="810.72" y="366.61" transform="matrix(1 0.0005 0 1 0 -0.4054)" class="b">The Trongate</text>
<text x="810.72" y="465.43" transform="matrix(1 0.0005 0 1 0 -0.4054)" class="b">The Trongate</text>
<text x="810.72" y="643.3" transform="matrix(1 0.0005 0 1 0 -0.4054)" class="b">The Trongate</text>
<text x="810.72" y="742.11" transform="matrix(1 0.0005 0 1 0 -0.4054)" class="b">The Trongate</text>
<text x="1123.77" y="228.27" transform="matrix(1 0.0005 0 1 0 -0.5619)" class="b">Clyde St</text>
<text x="1123.77" y="327.09" transform="matrix(1 0.0005 0 1 0 -0.5619)" class="b">Clyde St</text>
<text x="1123.77" y="366.61" transform="matrix(1 0.0005 0 1 0 -0.5619)" class="b">Clyde St</text>
<text x="1123.77" y="465.43" transform="matrix(1 0.0005 0 1 0 -0.5619)" class="b">Clyde St</text>
<text x="1123.77" y="504.95" transform="matrix(1 0.0005 0 1 0 -0.5619)" class="b">Clyde St</text>
<text x="1123.77" y="603.77" transform="matrix(1 0.0005 0 1 0 -0.5619)" class="b">Clyde St</text>
<text x="1123.77" y="643.3" transform="matrix(1 0.0005 0 1 0 -0.5619)" class="b">Clyde St</text>
<text x="1123.77" y="742.11" transform="matrix(1 0.0005 0 1 0 -0.5619)" class="b">Clyde St</text>
<text x="184.64" y="781.64" transform="matrix(1 0.0005 0 1 0 -0.0923)" class="b">Robertson St</text>
<text x="184.64" y="880.45" transform="matrix(1 0.0005 0 1 0 -0.0923)" class="b">Robertson St</text>
<text x="520.99" y="109.69" transform="matrix(1 0.0005 0 1 0 -0.2605)" text-anchor="middle" class="n">20</text>
<text x="537.47" y="109.69" transform="matrix(1 0.0005 0 1 0 -0.2687)" text-anchor="middle" class="n">-</text>
<text x="520.99" y="116.28" transform="matrix(1 0.0005 0 1 0 -0.2605)" text-anchor="middle" class="n">586</text>
<text x="537.47" y="116.28" transform="matrix(1 0.0005 0 1 0 -0.2687)" text-anchor="middle" class="n">12</text>
<text x="520.99" y="122.87" transform="matrix(1 0.0005 0 1 0 -0.2605)" text-anchor="middle" class="wd">606</text>
<text x="537.47" y="122.87" transform="matrix(1 0.0005 0 1 0 -0.2687)" text-anchor="middle" class="wd">12</text>
<text x="520.99" y="142.63" transform="matrix(1 0.0005 0 1 0 -0.2605)" text-anchor="middle" class="wd">9</text>
<text x="537.47" y="142.63" transform="matrix(1 0.0005 0 1 0 -0.2687)" text-anchor="middle" class="n">9</text>
<text x="553.95" y="142.63" transform="matrix(1 0.0005 0 1 0 -0.2770)" text-anchor="middle" class="n">-</text>
<text x="520.99" y="155.81" transform="matrix(1 0.0005 0 1 0 -0.2605)" text-anchor="middle" class="wd">5</text>
<text x="537.47" y="155.81" transform="matrix(1 0.0005 0 1 0 -0.2687)" text-anchor="middle" class="n">5</text>
<text x="553.95" y="155.81" transform="matrix(1 0.0005 0 1 0 -0.2770)" text-anchor="middle" class="n">-</text>
<text x="471.57" y="155.81" transform="matrix(1 0.0005 0 1 0 -0.2358)" text-anchor="middle" class="wd">676</text>
<text x="488.04" y="155.81" transform="matrix(1 0.0005 0 1 0 -0.2440)" text-anchor="middle" class="wd">1</text>
<text x="471.57" y="162.39" transform="matrix(1 0.0005 0 1 0 -0.2358)" text-anchor="middle" class="n">653</text>
<text x="488.04" y="162.39" transform="matrix(1 0.0005 0 1 0 -0.2440)" text-anchor="middle" class="n">1</text>
<text x="471.57" y="168.98" transform="matrix(1 0.0005 0 1 0 -0.2358)" text-anchor="middle" class="n">23</text>
<text x="488.04" y="168.98" transform="matrix(1 0.0005 0 1 0 -0.2440)" text-anchor="middle" class="n">-</text>
<text x="636.33" y="122.87" transform="matrix(1 0.0005 0 1 0 -0.3182)" text-anchor="middle" class="n">-</text>
<text x="652.8" y="122.87" transform="matrix(1 0.0005 0 1 0 -0.3264)" text-anchor="middle" class="n">-</text>
<text x="669.28" y="122.87" transform="matrix(1 0.0005 0 1 0 -0.3346)" text-anchor="middle" class="n">-</text>
<text x="636.33" y="129.45" transform="matrix(1 0.0005 0 1 0 -0.3182)" text-anchor="middle" class="n">13</text>
<text x="652.8" y="129.45" transform="matrix(1 0.0005 0 1 0 -0.3264)" text-anchor="middle" class="n">-6</text>
<text x="669.28" y="129.45" transform="matrix(1 0.0005 0 1 0 -0.3346)" text-anchor="middle" class="n">19</text>
<text x="636.33" y="135.44" transform="matrix(1 0.0005 0 1 0 -0.3182)" text-anchor="middle" class="wd">13</text>
<text x="652.8" y="135.44" transform="matrix(1 0.0005 0 1 0 -0.3264)" text-anchor="middle" class="n">-6</text>
<text x="669.28" y="135.44" transform="matrix(1 0.0005 0 1 0 -0.3346)" text-anchor="middle" class="wd">19</text>
<text x="636.33" y="142.63" transform="matrix(1 0.0005 0 1 0 -0.3182)" text-anchor="middle" class="wd">14</text>
<text x="652.8" y="142.63" transform="matrix(1 0.0005 0 1 0 -0.3264)" text-anchor="middle" class="n">-3</text>
<text x="669.28" y="142.63" transform="matrix(1 0.0005 0 1 0 -0.3346)" text-anchor="middle" class="wd">17</text>
<text x="636.33" y="149.22" transform="matrix(1 0.0005 0 1 0 -0.3182)" text-anchor="middle" class="n">14</text>
<text x="652.8" y="149.22" transform="matrix(1 0.0005 0 1 0 -0.3264)" text-anchor="middle" class="n">-3</text>
<text x="669.28" y="149.22" transform="matrix(1 0.0005 0 1 0 -0.3346)" text-anchor="middle" class="n">17</text>
<text x="636.33" y="155.81" transform="matrix(1 0.0005 0 1 0 -0.3182)" text-anchor="middle" class="n">-</text>
<text x="652.8" y="155.81" transform="matrix(1 0.0005 0 1 0 -0.3264)" text-anchor="middle" class="n">-</text>
<text x="669.28" y="155.81" transform="matrix(1 0.0005 0 1 0 -0.3346)" text-anchor="middle" class="n">-</text>
<text x="627.19" y="135.44" transform="matrix(1 0.0005 0 1 0 -0.3136)" text-anchor="end" class="b">Charles St</text>
<text x="678.92" y="135.44" transform="matrix(1 0.0005 0 1 0 -0.3395)" class="b">Charles St</text>
<text x="751.66" y="122.87" transform="matrix(1 0.0005 0 1 0 -0.3758)" text-anchor="middle" class="n">-</text>
<text x="768.13" y="122.87" transform="matrix(1 0.0005 0 1 0 -0.3841)" text-anchor="middle" class="n">5</text>
<text x="784.61" y="122.87" transform="matrix(1 0.0005 0 1 0 -0.3923)" text-anchor="middle" class="wd">5</text>
<text x="751.66" y="135.44" transform="matrix(1 0.0005 0 1 0 -0.3758)" text-anchor="middle" class="n">-</text>
<text x="768.13" y="135.44" transform="matrix(1 0.0005 0 1 0 -0.3841)" text-anchor="middle" class="n">14</text>
<text x="784.61" y="135.44" transform="matrix(1 0.0005 0 1 0 -0.3923)" text-anchor="middle" class="wd">14</text>
<text x="817.56" y="109.69" transform="matrix(1 0.0005 0 1 0 -0.4088)" text-anchor="middle" class="n">-</text>
<text x="834.04" y="109.69" transform="matrix(1 0.0005 0 1 0 -0.4170)" text-anchor="middle" class="n">1</text>
<text x="817.56" y="116.28" transform="matrix(1 0.0005 0 1 0 -0.4088)" text-anchor="middle" class="n">8</text>
<text x="834.04" y="116.28" transform="matrix(1 0.0005 0 1 0 -0.4170)" text-anchor="middle" class="n">48</text>
<text x="817.56" y="122.87" transform="matrix(1 0.0005 0 1 0 -0.4088)" text-anchor="middle" class="wd">8</text>
<text x="834.04" y="122.87" transform="matrix(1 0.0005 0 1 0 -0.4170)" text-anchor="middle" class="wd">49</text>
<text x="768.13" y="155.81" transform="matrix(1 0.0005 0 1 0 -0.3841)" text-anchor="middle" class="wd">9</text>
<text x="784.61" y="155.81" transform="matrix(1 0.0005 0 1 0 -0.3923)" text-anchor="middle" class="wd">57</text>
<text x="768.13" y="162.39" transform="matrix(1 0.0005 0 1 0 -0.3841)" text-anchor="middle" class="n">9</text>
<text x="784.61" y="162.39" transform="matrix(1 0.0005 0 1 0 -0.3923)" text-anchor="middle" class="n">56</text>
<text x="768.13" y="168.98" transform="matrix(1 0.0005 0 1 0 -0.3841)" text-anchor="middle" class="n">-</text>
<text x="784.61" y="168.98" transform="matrix(1 0.0005 0 1 0 -0.3923)" text-anchor="middle" class="n">1</text>
<text x="323.28" y="142.63" transform="matrix(1 0.0005 0 1 0 -0.1616)" text-anchor="middle" class="n">-</text>
<text x="339.76" y="142.63" transform="matrix(1 0.0005 0 1 0 -0.1699)" text-anchor="middle" class="n">-</text>
<text x="323.28" y="149.22" transform="matrix(1 0.0005 0 1 0 -0.1616)" text-anchor="middle" class="n">-</text>
<text x="339.76" y="149.22" transform="matrix(1 0.0005 0 1 0 -0.1699)" text-anchor="middle" class="n">-</text>
<text x="323.28" y="155.81" transform="matrix(1 0.0005 0 1 0 -0.1616)" text-anchor="middle" class="n">-</text>
<text x="339.76" y="155.81" transform="matrix(1 0.0005 0 1 0 -0.1699)" text-anchor="middle" class="n">-</text>
<text x="308.54" y="135.44" transform="matrix(1 0.0005 0 1 0 -0.1543)" text-anchor="middle" class="i">U-turns</text>
<text x="314.54" y="142.63" transform="matrix(1 0.0005 0 1 0 -0.1573)" text-anchor="end" class="n ul">Blaxcell St (S)</text>
<text x="314.54" y="149.22" transform="matrix(1 0.0005 0 1 0 -0.1573)" text-anchor="end" class="n ul">Charles St (E)</text>
<text x="314.54" y="155.81" transform="matrix(1 0.0005 0 1 0 -0.1573)" text-anchor="end" class="n ul">Blaxcell St (N)</text>
<text x="982.32" y="142.63" transform="matrix(1 0.0005 0 1 0 -0.4912)" text-anchor="middle" class="n">-</text>
<text x="998.8" y="142.63" transform="matrix(1 0.0005 0 1 0 -0.4994)" text-anchor="middle" class="n">-</text>
<text x="982.32" y="155.81" transform="matrix(1 0.0005 0 1 0 -0.4912)" text-anchor="middle" class="n">-</text>
<text x="998.8" y="155.81" transform="matrix(1 0.0005 0 1 0 -0.4994)" text-anchor="middle" class="n">-</text>
<text x="982.32" y="162.39" transform="matrix(1 0.0005 0 1 0 -0.4912)" text-anchor="middle" class="n">-</text>
<text x="998.8" y="162.39" transform="matrix(1 0.0005 0 1 0 -0.4994)" text-anchor="middle" class="n">-</text>
<text x="967.58" y="135.44" transform="matrix(1 0.0005 0 1 0 -0.4838)" text-anchor="middle" class="i">U-turns</text>
<text x="973.58" y="142.63" transform="matrix(1 0.0005 0 1 0 -0.4868)" text-anchor="end" class="n ul">The Trongate (S)</text>
<text x="973.58" y="155.81" transform="matrix(1 0.0005 0 1 0 -0.4868)" text-anchor="end" class="n ul">The Trongate (N)</text>
<text x="973.58" y="162.39" transform="matrix(1 0.0005 0 1 0 -0.4868)" text-anchor="end" class="n ul">Charles St (W)</text>
<text x="455.09" y="201.92" transform="matrix(1 0.0005 0 1 0 -0.2275)" text-anchor="middle" class="n">23</text>
<text x="471.57" y="201.92" transform="matrix(1 0.0005 0 1 0 -0.2358)" text-anchor="middle" class="n">654</text>
<text x="488.04" y="201.92" transform="matrix(1 0.0005 0 1 0 -0.2440)" text-anchor="middle" class="wd">677</text>
<text x="504.52" y="201.92" transform="matrix(1 0.0005 0 1 0 -0.2523)" text-anchor="middle" class="wd">611</text>
<text x="520.99" y="201.92" transform="matrix(1 0.0005 0 1 0 -0.2605)" text-anchor="middle" class="n">591</text>
<text x="537.47" y="201.92" transform="matrix(1 0.0005 0 1 0 -0.2687)" text-anchor="middle" class="n">20</text>
<text x="455.09" y="208.51" transform="matrix(1 0.0005 0 1 0 -0.2275)" text-anchor="middle" class="n">6</text>
<text x="471.57" y="208.51" transform="matrix(1 0.0005 0 1 0 -0.2358)" text-anchor="middle" class="n">12</text>
<text x="488.04" y="208.51" transform="matrix(1 0.0005 0 1 0 -0.2440)" text-anchor="middle" class="n">18</text>
<text x="504.52" y="208.51" transform="matrix(1 0.0005 0 1 0 -0.2523)" text-anchor="middle" class="n">25</text>
<text x="520.99" y="208.51" transform="matrix(1 0.0005 0 1 0 -0.2605)" text-anchor="middle" class="n">20</text>
<text x="537.47" y="208.51" transform="matrix(1 0.0005 0 1 0 -0.2687)" text-anchor="middle" class="n">5</text>
<text x="455.09" y="215.09" transform="matrix(1 0.0005 0 1 0 -0.2275)" text-anchor="middle" class="n">17</text>
<text x="471.57" y="215.09" transform="matrix(1 0.0005 0 1 0 -0.2358)" text-anchor="middle" class="n">642</text>
<text x="488.04" y="215.09" transform="matrix(1 0.0005 0 1 0 -0.2440)" text-anchor="middle" class="wd">659</text>
<text x="504.52" y="215.09" transform="matrix(1 0.0005 0 1 0 -0.2523)" text-anchor="middle" class="wd">586</text>
<text x="520.99" y="215.09" transform="matrix(1 0.0005 0 1 0 -0.2605)" text-anchor="middle" class="n">571</text>
<text x="537.47" y="215.09" transform="matrix(1 0.0005 0 1 0 -0.2687)" text-anchor="middle" class="n">15</text>
<text x="547.01" y="208.51" transform="matrix(1 0.0005 0 1 0 -0.2735)" class="r">2 intersections in between</text>
<text x="520.99" y="248.03" transform="matrix(1 0.0005 0 1 0 -0.2605)" text-anchor="middle" class="n">15</text>
<text x="537.47" y="248.03" transform="matrix(1 0.0005 0 1 0 -0.2687)" text-anchor="middle" class="n">-</text>
<text x="520.99" y="254.62" transform="matrix(1 0.0005 0 1 0 -0.2605)" text-anchor="middle" class="n">520</text>
<text x="537.47" y="254.62" transform="matrix(1 0.0005 0 1 0 -0.2687)" text-anchor="middle" class="n">51</text>
<text x="520.99" y="261.21" transform="matrix(1 0.0005 0 1 0 -0.2605)" text-anchor="middle" class="wd">535</text>
<text x="537.47" y="261.21" transform="matrix(1 0.0005 0 1 0 -0.2687)" text-anchor="middle" class="wd">51</text>
<text x="520.99" y="280.97" transform="matrix(1 0.0005 0 1 0 -0.2605)" text-anchor="middle" class="wd">66</text>
<text x="537.47" y="280.97" transform="matrix(1 0.0005 0 1 0 -0.2687)" text-anchor="middle" class="n">64</text>
<text x="553.95" y="280.97" transform="matrix(1 0.0005 0 1 0 -0.2770)" text-anchor="middle" class="n">2</text>
<text x="520.99" y="294.15" transform="matrix(1 0.0005 0 1 0 -0.2605)" text-anchor="middle" class="wd">28</text>
<text x="537.47" y="294.15" transform="matrix(1 0.0005 0 1 0 -0.2687)" text-anchor="middle" class="n">26</text>
<text x="553.95" y="294.15" transform="matrix(1 0.0005 0 1 0 -0.2770)" text-anchor="middle" class="n">2</text>
<text x="471.57" y="294.15" transform="matrix(1 0.0005 0 1 0 -0.2358)" text-anchor="middle" class="wd">593</text>
<text x="488.04" y="294.15" transform="matrix(1 0.0005 0 1 0 -0.2440)" text-anchor="middle" class="wd">16</text>
<text x="471.57" y="300.73" transform="matrix(1 0.0005 0 1 0 -0.2358)" text-anchor="middle" class="n">578</text>
<text x="488.04" y="300.73" transform="matrix(1 0.0005 0 1 0 -0.2440)" text-anchor="middle" class="n">16</text>
<text x="471.57" y="307.32" transform="matrix(1 0.0005 0 1 0 -0.2358)" text-anchor="middle" class="n">15</text>
<text x="488.04" y="307.32" transform="matrix(1 0.0005 0 1 0 -0.2440)" text-anchor="middle" class="n">-</text>
<text x="627.19" y="273.78" transform="matrix(1 0.0005 0 1 0 -0.3136)" text-anchor="end" class="b">Membrey St</text>
<text x="801.09" y="261.21" transform="matrix(1 0.0005 0 1 0 -0.4005)" text-anchor="middle" class="n">-</text>
<text x="817.56" y="261.21" transform="matrix(1 0.0005 0 1 0 -0.4088)" text-anchor="middle" class="n">-</text>
<text x="834.04" y="261.21" transform="matrix(1 0.0005 0 1 0 -0.4170)" text-anchor="middle" class="n">-</text>
<text x="801.09" y="267.8" transform="matrix(1 0.0005 0 1 0 -0.4005)" text-anchor="middle" class="n">67</text>
<text x="817.56" y="267.8" transform="matrix(1 0.0005 0 1 0 -0.4088)" text-anchor="middle" class="n">31</text>
<text x="834.04" y="267.8" transform="matrix(1 0.0005 0 1 0 -0.4170)" text-anchor="middle" class="n">36</text>
<text x="801.09" y="273.78" transform="matrix(1 0.0005 0 1 0 -0.4005)" text-anchor="middle" class="wd">67</text>
<text x="817.56" y="273.78" transform="matrix(1 0.0005 0 1 0 -0.4088)" text-anchor="middle" class="n">31</text>
<text x="834.04" y="273.78" transform="matrix(1 0.0005 0 1 0 -0.4170)" text-anchor="middle" class="wd">36</text>
<text x="801.09" y="280.97" transform="matrix(1 0.0005 0 1 0 -0.4005)" text-anchor="middle" class="wd">94</text>
<text x="817.56" y="280.97" transform="matrix(1 0.0005 0 1 0 -0.4088)" text-anchor="middle" class="n">19</text>
<text x="834.04" y="280.97" transform="matrix(1 0.0005 0 1 0 -0.4170)" text-anchor="middle" class="wd">75</text>
<text x="801.09" y="287.56" transform="matrix(1 0.0005 0 1 0 -0.4005)" text-anchor="middle" class="n">90</text>
<text x="817.56" y="287.56" transform="matrix(1 0.0005 0 1 0 -0.4088)" text-anchor="middle" class="n">18</text>
<text x="834.04" y="287.56" transform="matrix(1 0.0005 0 1 0 -0.4170)" text-anchor="middle" class="n">72</text>
<text x="801.09" y="294.15" transform="matrix(1 0.0005 0 1 0 -0.4005)" text-anchor="middle" class="n">4</text>
<text x="817.56" y="294.15" transform="matrix(1 0.0005 0 1 0 -0.4088)" text-anchor="middle" class="n">1</text>
<text x="834.04" y="294.15" transform="matrix(1 0.0005 0 1 0 -0.4170)" text-anchor="middle" class="n">3</text>
<text x="810.62" y="254.62" transform="matrix(1 0.0005 0 1 0 -0.4053)" class="r">1 intersection in between</text>
<text x="991.96" y="273.78" transform="matrix(1 0.0005 0 1 0 -0.4960)" class="b">Membrey St</text>
<text x="1130.61" y="248.03" transform="matrix(1 0.0005 0 1 0 -0.5653)" text-anchor="middle" class="n">-</text>
<text x="1147.08" y="248.03" transform="matrix(1 0.0005 0 1 0 -0.5735)" text-anchor="middle" class="n">27</text>
<text x="1163.56" y="248.03" transform="matrix(1 0.0005 0 1 0 -0.5818)" text-anchor="middle" class="n">-</text>
<text x="1130.61" y="254.62" transform="matrix(1 0.0005 0 1 0 -0.5653)" text-anchor="middle" class="n">20</text>
<text x="1147.08" y="254.62" transform="matrix(1 0.0005 0 1 0 -0.5735)" text-anchor="middle" class="n">330</text>
<text x="1163.56" y="254.62" transform="matrix(1 0.0005 0 1 0 -0.5818)" text-anchor="middle" class="n">5</text>
<text x="1130.61" y="261.21" transform="matrix(1 0.0005 0 1 0 -0.5653)" text-anchor="middle" class="wd">20</text>
<text x="1147.08" y="261.21" transform="matrix(1 0.0005 0 1 0 -0.5735)" text-anchor="middle" class="wd">357</text>
<text x="1163.56" y="261.21" transform="matrix(1 0.0005 0 1 0 -0.5818)" text-anchor="middle" class="wd">5</text>
<text x="1064.7" y="261.21" transform="matrix(1 0.0005 0 1 0 -0.5324)" text-anchor="middle" class="n">-</text>
<text x="1081.18" y="261.21" transform="matrix(1 0.0005 0 1 0 -0.5406)" text-anchor="middle" class="n">13</text>
<text x="1097.65" y="261.21" transform="matrix(1 0.0005 0 1 0 -0.5488)" text-anchor="middle" class="wd">13</text>
<text x="1064.7" y="267.8" transform="matrix(1 0.0005 0 1 0 -0.5324)" text-anchor="middle" class="n">-</text>
<text x="1081.18" y="267.8" transform="matrix(1 0.0005 0 1 0 -0.5406)" text-anchor="middle" class="n">5</text>
<text x="1097.65" y="267.8" transform="matrix(1 0.0005 0 1 0 -0.5488)" text-anchor="middle" class="wd">5</text>
<text x="1064.7" y="273.78" transform="matrix(1 0.0005 0 1 0 -0.5324)" text-anchor="middle" class="n">-</text>
<text x="1081.18" y="273.78" transform="matrix(1 0.0005 0 1 0 -0.5406)" text-anchor="middle" class="n">18</text>
<text x="1097.65" y="273.78" transform="matrix(1 0.0005 0 1 0 -0.5488)" text-anchor="middle" class="wd">18</text>
<text x="1147.08" y="280.97" transform="matrix(1 0.0005 0 1 0 -0.5735)" text-anchor="middle" class="wd">3</text>
<text x="1163.56" y="280.97" transform="matrix(1 0.0005 0 1 0 -0.5818)" text-anchor="middle" class="n">3</text>
<text x="1180.03" y="280.97" transform="matrix(1 0.0005 0 1 0 -0.5900)" text-anchor="middle" class="n">-</text>
<text x="1147.08" y="287.56" transform="matrix(1 0.0005 0 1 0 -0.5735)" text-anchor="middle" class="wd">6</text>
<text x="1163.56" y="287.56" transform="matrix(1 0.0005 0 1 0 -0.5818)" text-anchor="middle" class="n">6</text>
<text x="1180.03" y="287.56" transform="matrix(1 0.0005 0 1 0 -0.5900)" text-anchor="middle" class="n">-</text>
<text x="1147.08" y="294.15" transform="matrix(1 0.0005 0 1 0 -0.5735)" text-anchor="middle" class="wd">6</text>
<text x="1163.56" y="294.15" transform="matrix(1 0.0005 0 1 0 -0.5818)" text-anchor="middle" class="n">6</text>
<text x="1180.03" y="294.15" transform="matrix(1 0.0005 0 1 0 -0.5900)" text-anchor="middle" class="n">-</text>
<text x="1081.18" y="294.15" transform="matrix(1 0.0005 0 1 0 -0.5406)" text-anchor="middle" class="wd">49</text>
<text x="1097.65" y="294.15" transform="matrix(1 0.0005 0 1 0 -0.5488)" text-anchor="middle" class="wd">487</text>
<text x="1114.13" y="294.15" transform="matrix(1 0.0005 0 1 0 -0.5571)" text-anchor="middle" class="wd">5</text>
<text x="1081.18" y="300.73" transform="matrix(1 0.0005 0 1 0 -0.5406)" text-anchor="middle" class="n">46</text>
<text x="1097.65" y="300.73" transform="matrix(1 0.0005 0 1 0 -0.5488)" text-anchor="middle" class="n">471</text>
<text x="1114.13" y="300.73" transform="matrix(1 0.0005 0 1 0 -0.5571)" text-anchor="middle" class="n">5</text>
<text x="1081.18" y="307.32" transform="matrix(1 0.0005 0 1 0 -0.5406)" text-anchor="middle" class="n">3</text>
<text x="1097.65" y="307.32" transform="matrix(1 0.0005 0 1 0 -0.5488)" text-anchor="middle" class="n">16</text>
<text x="1114.13" y="307.32" transform="matrix(1 0.0005 0 1 0 -0.5571)" text-anchor="middle" class="n">-</text>
<text x="1253.28" y="273.78" transform="matrix(1 0.0005 0 1 0 -0.6266)" text-anchor="end" class="b">Mimosa St</text>
<text x="323.28" y="280.97" transform="matrix(1 0.0005 0 1 0 -0.1616)" text-anchor="middle" class="n">-</text>
<text x="339.76" y="280.97" transform="matrix(1 0.0005 0 1 0 -0.1699)" text-anchor="middle" class="n">-</text>
<text x="323.28" y="287.56" transform="matrix(1 0.0005 0 1 0 -0.1616)" text-anchor="middle" class="n">1</text>
<text x="339.76" y="287.56" transform="matrix(1 0.0005 0 1 0 -0.1699)" text-anchor="middle" class="n">-</text>
<text x="323.28" y="294.15" transform="matrix(1 0.0005 0 1 0 -0.1616)" text-anchor="middle" class="n">3</text>
<text x="339.76" y="294.15" transform="matrix(1 0.0005 0 1 0 -0.1699)" text-anchor="middle" class="n">-</text>
<text x="308.54" y="273.78" transform="matrix(1 0.0005 0 1 0 -0.1543)" text-anchor="middle" class="i">U-turns</text>
<text x="314.54" y="280.97" transform="matrix(1 0.0005 0 1 0 -0.1573)" text-anchor="end" class="n ul">Blaxcell St (S)</text>
<text x="314.54" y="287.56" transform="matrix(1 0.0005 0 1 0 -0.1573)" text-anchor="end" class="n ul">Membrey St (E)</text>
<text x="314.54" y="294.15" transform="matrix(1 0.0005 0 1 0 -0.1573)" text-anchor="end" class="n ul">Blaxcell St (N)</text>
<text x="1295.37" y="280.97" transform="matrix(1 0.0005 0 1 0 -0.6477)" text-anchor="middle" class="n">-</text>
<text x="1311.84" y="280.97" transform="matrix(1 0.0005 0 1 0 -0.6559)" text-anchor="middle" class="n">-</text>
<text x="1295.37" y="287.56" transform="matrix(1 0.0005 0 1 0 -0.6477)" text-anchor="middle" class="n">-</text>
<text x="1311.84" y="287.56" transform="matrix(1 0.0005 0 1 0 -0.6559)" text-anchor="middle" class="n">-</text>
<text x="1295.37" y="294.15" transform="matrix(1 0.0005 0 1 0 -0.6477)" text-anchor="middle" class="n">-</text>
<text x="1311.84" y="294.15" transform="matrix(1 0.0005 0 1 0 -0.6559)" text-anchor="middle" class="n">-</text>
<text x="1295.37" y="300.73" transform="matrix(1 0.0005 0 1 0 -0.6477)" text-anchor="middle" class="n">-</text>
<text x="1311.84" y="300.73" transform="matrix(1 0.0005 0 1 0 -0.6559)" text-anchor="middle" class="n">-</text>
<text x="1280.63" y="273.78" transform="matrix(1 0.0005 0 1 0 -0.6403)" text-anchor="middle" class="i">U-turns</text>
<text x="1286.63" y="280.97" transform="matrix(1 0.0005 0 1 0 -0.6433)" text-anchor="end" class="n ul">Clyde St (S)</text>
<text x="1286.63" y="287.56" transform="matrix(1 0.0005 0 1 0 -0.6433)" text-anchor="end" class="n ul">Mimosa St (E)</text>
<text x="1286.63" y="294.15" transform="matrix(1 0.0005 0 1 0 -0.6433)" text-anchor="end" class="n ul">Clyde St (N)</text>
<text x="1286.63" y="300.73" transform="matrix(1 0.0005 0 1 0 -0.6433)" text-anchor="end" class="n ul">Membrey St (W)</text>
<text x="455.09" y="340.26" transform="matrix(1 0.0005 0 1 0 -0.2275)" text-anchor="middle" class="n">15</text>
<text x="471.57" y="340.26" transform="matrix(1 0.0005 0 1 0 -0.2358)" text-anchor="middle" class="n">594</text>
<text x="488.04" y="340.26" transform="matrix(1 0.0005 0 1 0 -0.2440)" text-anchor="middle" class="wd">609</text>
<text x="504.52" y="340.26" transform="matrix(1 0.0005 0 1 0 -0.2523)" text-anchor="middle" class="wd">563</text>
<text x="520.99" y="340.26" transform="matrix(1 0.0005 0 1 0 -0.2605)" text-anchor="middle" class="n">546</text>
<text x="537.47" y="340.26" transform="matrix(1 0.0005 0 1 0 -0.2687)" text-anchor="middle" class="n">17</text>
<text x="455.09" y="346.85" transform="matrix(1 0.0005 0 1 0 -0.2275)" text-anchor="middle" class="n">-</text>
<text x="471.57" y="346.85" transform="matrix(1 0.0005 0 1 0 -0.2358)" text-anchor="middle" class="n">-10</text>
<text x="488.04" y="346.85" transform="matrix(1 0.0005 0 1 0 -0.2440)" text-anchor="middle" class="n">-10</text>
<text x="504.52" y="346.85" transform="matrix(1 0.0005 0 1 0 -0.2523)" text-anchor="middle" class="n">-102</text>
<text x="520.99" y="346.85" transform="matrix(1 0.0005 0 1 0 -0.2605)" text-anchor="middle" class="n">-103</text>
<text x="537.47" y="346.85" transform="matrix(1 0.0005 0 1 0 -0.2687)" text-anchor="middle" class="n">1</text>
<text x="455.09" y="353.44" transform="matrix(1 0.0005 0 1 0 -0.2275)" text-anchor="middle" class="n">15</text>
<text x="471.57" y="353.44" transform="matrix(1 0.0005 0 1 0 -0.2358)" text-anchor="middle" class="n">604</text>
<text x="488.04" y="353.44" transform="matrix(1 0.0005 0 1 0 -0.2440)" text-anchor="middle" class="wd">619</text>
<text x="504.52" y="353.44" transform="matrix(1 0.0005 0 1 0 -0.2523)" text-anchor="middle" class="wd">665</text>
<text x="520.99" y="353.44" transform="matrix(1 0.0005 0 1 0 -0.2605)" text-anchor="middle" class="n">649</text>
<text x="537.47" y="353.44" transform="matrix(1 0.0005 0 1 0 -0.2687)" text-anchor="middle" class="n">16</text>
<text x="547.01" y="346.85" transform="matrix(1 0.0005 0 1 0 -0.2735)" class="r">1 intersection in between</text>
<text x="1081.18" y="340.26" transform="matrix(1 0.0005 0 1 0 -0.5406)" text-anchor="middle" class="n">19</text>
<text x="1097.65" y="340.26" transform="matrix(1 0.0005 0 1 0 -0.5488)" text-anchor="middle" class="n">522</text>
<text x="1114.13" y="340.26" transform="matrix(1 0.0005 0 1 0 -0.5571)" text-anchor="middle" class="wd">541</text>
<text x="1130.61" y="340.26" transform="matrix(1 0.0005 0 1 0 -0.5653)" text-anchor="middle" class="wd">381</text>
<text x="1147.08" y="340.26" transform="matrix(1 0.0005 0 1 0 -0.5735)" text-anchor="middle" class="n">354</text>
<text x="1163.56" y="340.26" transform="matrix(1 0.0005 0 1 0 -0.5818)" text-anchor="middle" class="n">27</text>
<text x="1081.18" y="346.85" transform="matrix(1 0.0005 0 1 0 -0.5406)" text-anchor="middle" class="n">3</text>
<text x="1097.65" y="346.85" transform="matrix(1 0.0005 0 1 0 -0.5488)" text-anchor="middle" class="n">78</text>
<text x="1114.13" y="346.85" transform="matrix(1 0.0005 0 1 0 -0.5571)" text-anchor="middle" class="n">81</text>
<text x="1130.61" y="346.85" transform="matrix(1 0.0005 0 1 0 -0.5653)" text-anchor="middle" class="n">-23</text>
<text x="1147.08" y="346.85" transform="matrix(1 0.0005 0 1 0 -0.5735)" text-anchor="middle" class="n">-23</text>
<text x="1163.56" y="346.85" transform="matrix(1 0.0005 0 1 0 -0.5818)" text-anchor="middle" class="n">-</text>
<text x="1081.18" y="353.44" transform="matrix(1 0.0005 0 1 0 -0.5406)" text-anchor="middle" class="n">16</text>
<text x="1097.65" y="353.44" transform="matrix(1 0.0005 0 1 0 -0.5488)" text-anchor="middle" class="n">444</text>
<text x="1114.13" y="353.44" transform="matrix(1 0.0005 0 1 0 -0.5571)" text-anchor="middle" class="wd">460</text>
<text x="1130.61" y="353.44" transform="matrix(1 0.0005 0 1 0 -0.5653)" text-anchor="middle" class="wd">404</text>
<text x="1147.08" y="353.44" transform="matrix(1 0.0005 0 1 0 -0.5735)" text-anchor="middle" class="n">377</text>
<text x="1163.56" y="353.44" transform="matrix(1 0.0005 0 1 0 -0.5818)" text-anchor="middle" class="n">27</text>
<text x="1173.1" y="346.85" transform="matrix(1 0.0005 0 1 0 -0.5865)" class="r">2 intersections in between</text>
<text x="678.92" y="360.02" transform="matrix(1 0.0005 0 1 0 -0.3395)" class="p">Original Surveys</text>
<text x="520.99" y="386.37" transform="matrix(1 0.0005 0 1 0 -0.2605)" text-anchor="middle" class="n">13</text>
<text x="537.47" y="386.37" transform="matrix(1 0.0005 0 1 0 -0.2687)" text-anchor="middle" class="n">3</text>
<text x="520.99" y="392.96" transform="matrix(1 0.0005 0 1 0 -0.2605)" text-anchor="middle" class="n">468</text>
<text x="537.47" y="392.96" transform="matrix(1 0.0005 0 1 0 -0.2687)" text-anchor="middle" class="n">181</text>
<text x="520.99" y="399.55" transform="matrix(1 0.0005 0 1 0 -0.2605)" text-anchor="middle" class="wd">481</text>
<text x="537.47" y="399.55" transform="matrix(1 0.0005 0 1 0 -0.2687)" text-anchor="middle" class="wd">184</text>
<text x="520.99" y="419.31" transform="matrix(1 0.0005 0 1 0 -0.2605)" text-anchor="middle" class="wd">213</text>
<text x="537.47" y="419.31" transform="matrix(1 0.0005 0 1 0 -0.2687)" text-anchor="middle" class="n">212</text>
<text x="553.95" y="419.31" transform="matrix(1 0.0005 0 1 0 -0.2770)" text-anchor="middle" class="n">1</text>
<text x="520.99" y="432.49" transform="matrix(1 0.0005 0 1 0 -0.2605)" text-anchor="middle" class="wd">67</text>
<text x="537.47" y="432.49" transform="matrix(1 0.0005 0 1 0 -0.2687)" text-anchor="middle" class="n">67</text>
<text x="553.95" y="432.49" transform="matrix(1 0.0005 0 1 0 -0.2770)" text-anchor="middle" class="n">-</text>
<text x="471.57" y="432.49" transform="matrix(1 0.0005 0 1 0 -0.2358)" text-anchor="middle" class="wd">406</text>
<text x="488.04" y="432.49" transform="matrix(1 0.0005 0 1 0 -0.2440)" text-anchor="middle" class="wd">76</text>
<text x="471.57" y="439.08" transform="matrix(1 0.0005 0 1 0 -0.2358)" text-anchor="middle" class="n">392</text>
<text x="488.04" y="439.08" transform="matrix(1 0.0005 0 1 0 -0.2440)" text-anchor="middle" class="n">74</text>
<text x="471.57" y="445.66" transform="matrix(1 0.0005 0 1 0 -0.2358)" text-anchor="middle" class="n">14</text>
<text x="488.04" y="445.66" transform="matrix(1 0.0005 0 1 0 -0.2440)" text-anchor="middle" class="n">2</text>
<text x="636.33" y="399.55" transform="matrix(1 0.0005 0 1 0 -0.3182)" text-anchor="middle" class="n">5</text>
<text x="652.8" y="399.55" transform="matrix(1 0.0005 0 1 0 -0.3264)" text-anchor="middle" class="n">3</text>
<text x="669.28" y="399.55" transform="matrix(1 0.0005 0 1 0 -0.3346)" text-anchor="middle" class="n">2</text>
<text x="636.33" y="406.14" transform="matrix(1 0.0005 0 1 0 -0.3182)" text-anchor="middle" class="n">255</text>
<text x="652.8" y="406.14" transform="matrix(1 0.0005 0 1 0 -0.3264)" text-anchor="middle" class="n">88</text>
<text x="669.28" y="406.14" transform="matrix(1 0.0005 0 1 0 -0.3346)" text-anchor="middle" class="n">167</text>
<text x="636.33" y="412.13" transform="matrix(1 0.0005 0 1 0 -0.3182)" text-anchor="middle" class="wd">260</text>
<text x="652.8" y="412.13" transform="matrix(1 0.0005 0 1 0 -0.3264)" text-anchor="middle" class="n">91</text>
<text x="669.28" y="412.13" transform="matrix(1 0.0005 0 1 0 -0.3346)" text-anchor="middle" class="wd">169</text>
<text x="636.33" y="419.31" transform="matrix(1 0.0005 0 1 0 -0.3182)" text-anchor="middle" class="wd">280</text>
<text x="652.8" y="419.31" transform="matrix(1 0.0005 0 1 0 -0.3264)" text-anchor="middle" class="n">16</text>
<text x="669.28" y="419.31" transform="matrix(1 0.0005 0 1 0 -0.3346)" text-anchor="middle" class="wd">264</text>
<text x="636.33" y="425.9" transform="matrix(1 0.0005 0 1 0 -0.3182)" text-anchor="middle" class="n">279</text>
<text x="652.8" y="425.9" transform="matrix(1 0.0005 0 1 0 -0.3264)" text-anchor="middle" class="n">17</text>
<text x="669.28" y="425.9" transform="matrix(1 0.0005 0 1 0 -0.3346)" text-anchor="middle" class="n">262</text>
<text x="636.33" y="432.49" transform="matrix(1 0.0005 0 1 0 -0.3182)" text-anchor="middle" class="n">1</text>
<text x="652.8" y="432.49" transform="matrix(1 0.0005 0 1 0 -0.3264)" text-anchor="middle" class="n">-1</text>
<text x="669.28" y="432.49" transform="matrix(1 0.0005 0 1 0 -0.3346)" text-anchor="middle" class="n">2</text>
<text x="627.19" y="412.13" transform="matrix(1 0.0005 0 1 0 -0.3136)" text-anchor="end" class="b">Redfern St</text>
<text x="678.92" y="412.13" transform="matrix(1 0.0005 0 1 0 -0.3395)" class="b">Redfern St</text>
<text x="751.66" y="399.55" transform="matrix(1 0.0005 0 1 0 -0.3758)" text-anchor="middle" class="n">1</text>
<text x="768.13" y="399.55" transform="matrix(1 0.0005 0 1 0 -0.3841)" text-anchor="middle" class="n">9</text>
<text x="784.61" y="399.55" transform="matrix(1 0.0005 0 1 0 -0.3923)" text-anchor="middle" class="wd">10</text>
<text x="751.66" y="406.14" transform="matrix(1 0.0005 0 1 0 -0.3758)" text-anchor="middle" class="n">1</text>
<text x="768.13" y="406.14" transform="matrix(1 0.0005 0 1 0 -0.3841)" text-anchor="middle" class="n">155</text>
<text x="784.61" y="406.14" transform="matrix(1 0.0005 0 1 0 -0.3923)" text-anchor="middle" class="wd">156</text>
<text x="751.66" y="412.13" transform="matrix(1 0.0005 0 1 0 -0.3758)" text-anchor="middle" class="n">-</text>
<text x="768.13" y="412.13" transform="matrix(1 0.0005 0 1 0 -0.3841)" text-anchor="middle" class="n">3</text>
<text x="784.61" y="412.13" transform="matrix(1 0.0005 0 1 0 -0.3923)" text-anchor="middle" class="wd">3</text>
<text x="817.56" y="386.37" transform="matrix(1 0.0005 0 1 0 -0.4088)" text-anchor="middle" class="n">-</text>
<text x="834.04" y="386.37" transform="matrix(1 0.0005 0 1 0 -0.4170)" text-anchor="middle" class="n">1</text>
<text x="850.51" y="386.37" transform="matrix(1 0.0005 0 1 0 -0.4253)" text-anchor="middle" class="n">-</text>
<text x="817.56" y="392.96" transform="matrix(1 0.0005 0 1 0 -0.4088)" text-anchor="middle" class="n">7</text>
<text x="834.04" y="392.96" transform="matrix(1 0.0005 0 1 0 -0.4170)" text-anchor="middle" class="n">46</text>
<text x="850.51" y="392.96" transform="matrix(1 0.0005 0 1 0 -0.4253)" text-anchor="middle" class="n">32</text>
<text x="817.56" y="399.55" transform="matrix(1 0.0005 0 1 0 -0.4088)" text-anchor="middle" class="wd">7</text>
<text x="834.04" y="399.55" transform="matrix(1 0.0005 0 1 0 -0.4170)" text-anchor="middle" class="wd">47</text>
<text x="850.51" y="399.55" transform="matrix(1 0.0005 0 1 0 -0.4253)" text-anchor="middle" class="wd">32</text>
<text x="834.04" y="419.31" transform="matrix(1 0.0005 0 1 0 -0.4170)" text-anchor="middle" class="wd">29</text>
<text x="850.51" y="419.31" transform="matrix(1 0.0005 0 1 0 -0.4253)" text-anchor="middle" class="n">29</text>
<text x="866.99" y="419.31" transform="matrix(1 0.0005 0 1 0 -0.4335)" text-anchor="middle" class="n">-</text>
<text x="834.04" y="425.9" transform="matrix(1 0.0005 0 1 0 -0.4170)" text-anchor="middle" class="wd">219</text>
<text x="850.51" y="425.9" transform="matrix(1 0.0005 0 1 0 -0.4253)" text-anchor="middle" class="n">217</text>
<text x="866.99" y="425.9" transform="matrix(1 0.0005 0 1 0 -0.4335)" text-anchor="middle" class="n">2</text>
<text x="834.04" y="432.49" transform="matrix(1 0.0005 0 1 0 -0.4170)" text-anchor="middle" class="wd">4</text>
<text x="850.51" y="432.49" transform="matrix(1 0.0005 0 1 0 -0.4253)" text-anchor="middle" class="n">4</text>
<text x="866.99" y="432.49" transform="matrix(1 0.0005 0 1 0 -0.4335)" text-anchor="middle" class="n">-</text>
<text x="768.13" y="432.49" transform="matrix(1 0.0005 0 1 0 -0.3841)" text-anchor="middle" class="wd">38</text>
<text x="784.61" y="432.49" transform="matrix(1 0.0005 0 1 0 -0.3923)" text-anchor="middle" class="wd">81</text>
<text x="801.09" y="432.49" transform="matrix(1 0.0005 0 1 0 -0.4005)" text-anchor="middle" class="wd">8</text>
<text x="768.13" y="439.08" transform="matrix(1 0.0005 0 1 0 -0.3841)" text-anchor="middle" class="n">38</text>
<text x="784.61" y="439.08" transform="matrix(1 0.0005 0 1 0 -0.3923)" text-anchor="middle" class="n">79</text>
<text x="801.09" y="439.08" transform="matrix(1 0.0005 0 1 0 -0.4005)" text-anchor="middle" class="n">7</text>
<text x="768.13" y="445.66" transform="matrix(1 0.0005 0 1 0 -0.3841)" text-anchor="middle" class="n">-</text>
<text x="784.61" y="445.66" transform="matrix(1 0.0005 0 1 0 -0.3923)" text-anchor="middle" class="n">2</text>
<text x="801.09" y="445.66" transform="matrix(1 0.0005 0 1 0 -0.4005)" text-anchor="middle" class="n">1</text>
<text x="949.37" y="399.55" transform="matrix(1 0.0005 0 1 0 -0.4747)" text-anchor="middle" class="n">2</text>
<text x="965.85" y="399.55" transform="matrix(1 0.0005 0 1 0 -0.4829)" text-anchor="middle" class="n">-</text>
<text x="982.32" y="399.55" transform="matrix(1 0.0005 0 1 0 -0.4912)" text-anchor="middle" class="n">2</text>
<text x="949.37" y="406.14" transform="matrix(1 0.0005 0 1 0 -0.4747)" text-anchor="middle" class="n">194</text>
<text x="965.85" y="406.14" transform="matrix(1 0.0005 0 1 0 -0.4829)" text-anchor="middle" class="n">-72</text>
<text x="982.32" y="406.14" transform="matrix(1 0.0005 0 1 0 -0.4912)" text-anchor="middle" class="n">266</text>
<text x="949.37" y="412.13" transform="matrix(1 0.0005 0 1 0 -0.4747)" text-anchor="middle" class="wd">196</text>
<text x="965.85" y="412.13" transform="matrix(1 0.0005 0 1 0 -0.4829)" text-anchor="middle" class="n">-72</text>
<text x="982.32" y="412.13" transform="matrix(1 0.0005 0 1 0 -0.4912)" text-anchor="middle" class="wd">268</text>
<text x="949.37" y="419.31" transform="matrix(1 0.0005 0 1 0 -0.4747)" text-anchor="middle" class="wd">252</text>
<text x="965.85" y="419.31" transform="matrix(1 0.0005 0 1 0 -0.4829)" text-anchor="middle" class="n">84</text>
<text x="982.32" y="419.31" transform="matrix(1 0.0005 0 1 0 -0.4912)" text-anchor="middle" class="wd">168</text>
<text x="949.37" y="425.9" transform="matrix(1 0.0005 0 1 0 -0.4747)" text-anchor="middle" class="n">250</text>
<text x="965.85" y="425.9" transform="matrix(1 0.0005 0 1 0 -0.4829)" text-anchor="middle" class="n">85</text>
<text x="982.32" y="425.9" transform="matrix(1 0.0005 0 1 0 -0.4912)" text-anchor="middle" class="n">165</text>
<text x="949.37" y="432.49" transform="matrix(1 0.0005 0 1 0 -0.4747)" text-anchor="middle" class="n">2</text>
<text x="965.85" y="432.49" transform="matrix(1 0.0005 0 1 0 -0.4829)" text-anchor="middle" class="n">-1</text>
<text x="982.32" y="432.49" transform="matrix(1 0.0005 0 1 0 -0.4912)" text-anchor="middle" class="n">3</text>
<text x="940.23" y="412.13" transform="matrix(1 0.0005 0 1 0 -0.4701)" text-anchor="end" class="b">Redfern St</text>
<text x="991.96" y="412.13" transform="matrix(1 0.0005 0 1 0 -0.4960)" class="b">Redfern St</text>
<text x="1064.7" y="399.55" transform="matrix(1 0.0005 0 1 0 -0.5324)" text-anchor="middle" class="n">-</text>
<text x="1081.18" y="399.55" transform="matrix(1 0.0005 0 1 0 -0.5406)" text-anchor="middle" class="n">3</text>
<text x="1097.65" y="399.55" transform="matrix(1 0.0005 0 1 0 -0.5488)" text-anchor="middle" class="wd">3</text>
<text x="1064.7" y="412.13" transform="matrix(1 0.0005 0 1 0 -0.5324)" text-anchor="middle" class="n">2</text>
<text x="1081.18" y="412.13" transform="matrix(1 0.0005 0 1 0 -0.5406)" text-anchor="middle" class="n">263</text>
<text x="1097.65" y="412.13" transform="matrix(1 0.0005 0 1 0 -0.5488)" text-anchor="middle" class="wd">265</text>
<text x="1130.61" y="386.37" transform="matrix(1 0.0005 0 1 0 -0.5653)" text-anchor="middle" class="n">-</text>
<text x="1147.08" y="386.37" transform="matrix(1 0.0005 0 1 0 -0.5735)" text-anchor="middle" class="n">27</text>
<text x="1130.61" y="392.96" transform="matrix(1 0.0005 0 1 0 -0.5653)" text-anchor="middle" class="n">5</text>
<text x="1147.08" y="392.96" transform="matrix(1 0.0005 0 1 0 -0.5735)" text-anchor="middle" class="n">372</text>
<text x="1130.61" y="399.55" transform="matrix(1 0.0005 0 1 0 -0.5653)" text-anchor="middle" class="wd">5</text>
<text x="1147.08" y="399.55" transform="matrix(1 0.0005 0 1 0 -0.5735)" text-anchor="middle" class="wd">399</text>
<text x="1081.18" y="432.49" transform="matrix(1 0.0005 0 1 0 -0.5406)" text-anchor="middle" class="wd">163</text>
<text x="1097.65" y="432.49" transform="matrix(1 0.0005 0 1 0 -0.5488)" text-anchor="middle" class="wd">457</text>
<text x="1081.18" y="439.08" transform="matrix(1 0.0005 0 1 0 -0.5406)" text-anchor="middle" class="n">160</text>
<text x="1097.65" y="439.08" transform="matrix(1 0.0005 0 1 0 -0.5488)" text-anchor="middle" class="n">441</text>
<text x="1081.18" y="445.66" transform="matrix(1 0.0005 0 1 0 -0.5406)" text-anchor="middle" class="n">3</text>
<text x="1097.65" y="445.66" transform="matrix(1 0.0005 0 1 0 -0.5488)" text-anchor="middle" class="n">16</text>
<text x="323.28" y="419.31" transform="matrix(1 0.0005 0 1 0 -0.1616)" text-anchor="middle" class="n">5</text>
<text x="339.76" y="419.31" transform="matrix(1 0.0005 0 1 0 -0.1699)" text-anchor="middle" class="n">1</text>
<text x="323.28" y="425.9" transform="matrix(1 0.0005 0 1 0 -0.1616)" text-anchor="middle" class="n">-</text>
<text x="339.76" y="425.9" transform="matrix(1 0.0005 0 1 0 -0.1699)" text-anchor="middle" class="n">-</text>
<text x="323.28" y="432.49" transform="matrix(1 0.0005 0 1 0 -0.1616)" text-anchor="middle" class="n">4</text>
<text x="339.76" y="432.49" transform="matrix(1 0.0005 0 1 0 -0.1699)" text-anchor="middle" class="n">-</text>
<text x="308.54" y="412.13" transform="matrix(1 0.0005 0 1 0 -0.1543)" text-anchor="middle" class="i">U-turns</text>
<text x="314.54" y="419.31" transform="matrix(1 0.0005 0 1 0 -0.1573)" text-anchor="end" class="n ul">Blaxcell St (S)</text>
<text x="314.54" y="425.9" transform="matrix(1 0.0005 0 1 0 -0.1573)" text-anchor="end" class="n ul">Redfern St (E)</text>
<text x="314.54" y="432.49" transform="matrix(1 0.0005 0 1 0 -0.1573)" text-anchor="end" class="n ul">Blaxcell St (N)</text>
<text x="1295.37" y="419.31" transform="matrix(1 0.0005 0 1 0 -0.6477)" text-anchor="middle" class="n">202</text>
<text x="1311.84" y="419.31" transform="matrix(1 0.0005 0 1 0 -0.6559)" text-anchor="middle" class="n">3</text>
<text x="1295.37" y="432.49" transform="matrix(1 0.0005 0 1 0 -0.6477)" text-anchor="middle" class="n">-</text>
<text x="1311.84" y="432.49" transform="matrix(1 0.0005 0 1 0 -0.6559)" text-anchor="middle" class="n">-</text>
<text x="1295.37" y="439.08" transform="matrix(1 0.0005 0 1 0 -0.6477)" text-anchor="middle" class="n">-</text>
<text x="1311.84" y="439.08" transform="matrix(1 0.0005 0 1 0 -0.6559)" text-anchor="middle" class="n">-</text>
<text x="1280.63" y="412.13" transform="matrix(1 0.0005 0 1 0 -0.6403)" text-anchor="middle" class="i">U-turns</text>
<text x="1286.63" y="419.31" transform="matrix(1 0.0005 0 1 0 -0.6433)" text-anchor="end" class="n ul">Clyde St (S)</text>
<text x="1286.63" y="432.49" transform="matrix(1 0.0005 0 1 0 -0.6433)" text-anchor="end" class="n ul">Clyde St (N)</text>
<text x="1286.63" y="439.08" transform="matrix(1 0.0005 0 1 0 -0.6433)" text-anchor="end" class="n ul">Redfern St (W)</text>
<text x="1081.18" y="478.6" transform="matrix(1 0.0005 0 1 0 -0.5406)" text-anchor="middle" class="n">22</text>
<text x="1097.65" y="478.6" transform="matrix(1 0.0005 0 1 0 -0.5488)" text-anchor="middle" class="n">803</text>
<text x="1114.13" y="478.6" transform="matrix(1 0.0005 0 1 0 -0.5571)" text-anchor="middle" class="wd">825</text>
<text x="1130.61" y="478.6" transform="matrix(1 0.0005 0 1 0 -0.5653)" text-anchor="middle" class="wd">869</text>
<text x="1147.08" y="478.6" transform="matrix(1 0.0005 0 1 0 -0.5735)" text-anchor="middle" class="n">837</text>
<text x="1163.56" y="478.6" transform="matrix(1 0.0005 0 1 0 -0.5818)" text-anchor="middle" class="n">32</text>
<text x="1081.18" y="485.19" transform="matrix(1 0.0005 0 1 0 -0.5406)" text-anchor="middle" class="n">-2</text>
<text x="1097.65" y="485.19" transform="matrix(1 0.0005 0 1 0 -0.5488)" text-anchor="middle" class="n">10</text>
<text x="1114.13" y="485.19" transform="matrix(1 0.0005 0 1 0 -0.5571)" text-anchor="middle" class="n">8</text>
<text x="1130.61" y="485.19" transform="matrix(1 0.0005 0 1 0 -0.5653)" text-anchor="middle" class="n">4</text>
<text x="1147.08" y="485.19" transform="matrix(1 0.0005 0 1 0 -0.5735)" text-anchor="middle" class="n">11</text>
<text x="1163.56" y="485.19" transform="matrix(1 0.0005 0 1 0 -0.5818)" text-anchor="middle" class="n">-7</text>
<text x="1081.18" y="491.78" transform="matrix(1 0.0005 0 1 0 -0.5406)" text-anchor="middle" class="n">24</text>
<text x="1097.65" y="491.78" transform="matrix(1 0.0005 0 1 0 -0.5488)" text-anchor="middle" class="n">793</text>
<text x="1114.13" y="491.78" transform="matrix(1 0.0005 0 1 0 -0.5571)" text-anchor="middle" class="wd">817</text>
<text x="1130.61" y="491.78" transform="matrix(1 0.0005 0 1 0 -0.5653)" text-anchor="middle" class="wd">865</text>
<text x="1147.08" y="491.78" transform="matrix(1 0.0005 0 1 0 -0.5735)" text-anchor="middle" class="n">826</text>
<text x="1163.56" y="491.78" transform="matrix(1 0.0005 0 1 0 -0.5818)" text-anchor="middle" class="n">39</text>
<text x="455.09" y="544.48" transform="matrix(1 0.0005 0 1 0 -0.2275)" text-anchor="middle" class="n">16</text>
<text x="471.57" y="544.48" transform="matrix(1 0.0005 0 1 0 -0.2358)" text-anchor="middle" class="n">466</text>
<text x="488.04" y="544.48" transform="matrix(1 0.0005 0 1 0 -0.2440)" text-anchor="middle" class="wd">482</text>
<text x="504.52" y="544.48" transform="matrix(1 0.0005 0 1 0 -0.2523)" text-anchor="middle" class="wd">548</text>
<text x="520.99" y="544.48" transform="matrix(1 0.0005 0 1 0 -0.2605)" text-anchor="middle" class="n">535</text>
<text x="537.47" y="544.48" transform="matrix(1 0.0005 0 1 0 -0.2687)" text-anchor="middle" class="n">13</text>
<text x="455.09" y="550.47" transform="matrix(1 0.0005 0 1 0 -0.2275)" text-anchor="middle" class="n">-3</text>
<text x="471.57" y="550.47" transform="matrix(1 0.0005 0 1 0 -0.2358)" text-anchor="middle" class="n">-22</text>
<text x="488.04" y="550.47" transform="matrix(1 0.0005 0 1 0 -0.2440)" text-anchor="middle" class="n">-25</text>
<text x="504.52" y="550.47" transform="matrix(1 0.0005 0 1 0 -0.2523)" text-anchor="middle" class="n">-3</text>
<text x="520.99" y="550.47" transform="matrix(1 0.0005 0 1 0 -0.2605)" text-anchor="middle" class="n">-1</text>
<text x="537.47" y="550.47" transform="matrix(1 0.0005 0 1 0 -0.2687)" text-anchor="middle" class="n">-2</text>
<text x="455.09" y="557.66" transform="matrix(1 0.0005 0 1 0 -0.2275)" text-anchor="middle" class="n">19</text>
<text x="471.57" y="557.66" transform="matrix(1 0.0005 0 1 0 -0.2358)" text-anchor="middle" class="n">488</text>
<text x="488.04" y="557.66" transform="matrix(1 0.0005 0 1 0 -0.2440)" text-anchor="middle" class="wd">507</text>
<text x="504.52" y="557.66" transform="matrix(1 0.0005 0 1 0 -0.2523)" text-anchor="middle" class="wd">551</text>
<text x="520.99" y="557.66" transform="matrix(1 0.0005 0 1 0 -0.2605)" text-anchor="middle" class="n">536</text>
<text x="537.47" y="557.66" transform="matrix(1 0.0005 0 1 0 -0.2687)" text-anchor="middle" class="n">15</text>
<text x="768.13" y="544.48" transform="matrix(1 0.0005 0 1 0 -0.3841)" text-anchor="middle" class="n">3</text>
<text x="784.61" y="544.48" transform="matrix(1 0.0005 0 1 0 -0.3923)" text-anchor="middle" class="n">124</text>
<text x="801.09" y="544.48" transform="matrix(1 0.0005 0 1 0 -0.4005)" text-anchor="middle" class="wd">127</text>
<text x="817.56" y="544.48" transform="matrix(1 0.0005 0 1 0 -0.4088)" text-anchor="middle" class="wd">54</text>
<text x="834.04" y="544.48" transform="matrix(1 0.0005 0 1 0 -0.4170)" text-anchor="middle" class="n">53</text>
<text x="850.51" y="544.48" transform="matrix(1 0.0005 0 1 0 -0.4253)" text-anchor="middle" class="n">1</text>
<text x="768.13" y="550.47" transform="matrix(1 0.0005 0 1 0 -0.3841)" text-anchor="middle" class="n">2</text>
<text x="784.61" y="550.47" transform="matrix(1 0.0005 0 1 0 -0.3923)" text-anchor="middle" class="n">42</text>
<text x="801.09" y="550.47" transform="matrix(1 0.0005 0 1 0 -0.4005)" text-anchor="middle" class="n">44</text>
<text x="817.56" y="550.47" transform="matrix(1 0.0005 0 1 0 -0.4088)" text-anchor="middle" class="n">-66</text>
<text x="834.04" y="550.47" transform="matrix(1 0.0005 0 1 0 -0.4170)" text-anchor="middle" class="n">-64</text>
<text x="850.51" y="550.47" transform="matrix(1 0.0005 0 1 0 -0.4253)" text-anchor="middle" class="n">-2</text>
<text x="768.13" y="557.66" transform="matrix(1 0.0005 0 1 0 -0.3841)" text-anchor="middle" class="n">1</text>
<text x="784.61" y="557.66" transform="matrix(1 0.0005 0 1 0 -0.3923)" text-anchor="middle" class="n">82</text>
<text x="801.09" y="557.66" transform="matrix(1 0.0005 0 1 0 -0.4005)" text-anchor="middle" class="wd">83</text>
<text x="817.56" y="557.66" transform="matrix(1 0.0005 0 1 0 -0.4088)" text-anchor="middle" class="wd">120</text>
<text x="834.04" y="557.66" transform="matrix(1 0.0005 0 1 0 -0.4170)" text-anchor="middle" class="n">117</text>
<text x="850.51" y="557.66" transform="matrix(1 0.0005 0 1 0 -0.4253)" text-anchor="middle" class="n">3</text>
<text x="1147.08" y="524.72" transform="matrix(1 0.0005 0 1 0 -0.5735)" text-anchor="middle" class="n">16</text>
<text x="1163.56" y="524.72" transform="matrix(1 0.0005 0 1 0 -0.5818)" text-anchor="middle" class="n">23</text>
<text x="1147.08" y="531.3" transform="matrix(1 0.0005 0 1 0 -0.5735)" text-anchor="middle" class="n">88</text>
<text x="1163.56" y="531.3" transform="matrix(1 0.0005 0 1 0 -0.5818)" text-anchor="middle" class="n">738</text>
<text x="1147.08" y="537.89" transform="matrix(1 0.0005 0 1 0 -0.5735)" text-anchor="middle" class="wd">104</text>
<text x="1163.56" y="537.89" transform="matrix(1 0.0005 0 1 0 -0.5818)" text-anchor="middle" class="wd">761</text>
<text x="1147.08" y="557.66" transform="matrix(1 0.0005 0 1 0 -0.5735)" text-anchor="middle" class="wd">399</text>
<text x="1163.56" y="557.66" transform="matrix(1 0.0005 0 1 0 -0.5818)" text-anchor="middle" class="n">388</text>
<text x="1180.03" y="557.66" transform="matrix(1 0.0005 0 1 0 -0.5900)" text-anchor="middle" class="n">11</text>
<text x="1147.08" y="570.83" transform="matrix(1 0.0005 0 1 0 -0.5735)" text-anchor="middle" class="wd">155</text>
<text x="1163.56" y="570.83" transform="matrix(1 0.0005 0 1 0 -0.5818)" text-anchor="middle" class="n">151</text>
<text x="1180.03" y="570.83" transform="matrix(1 0.0005 0 1 0 -0.5900)" text-anchor="middle" class="n">4</text>
<text x="1097.65" y="570.83" transform="matrix(1 0.0005 0 1 0 -0.5488)" text-anchor="middle" class="wd">418</text>
<text x="1114.13" y="570.83" transform="matrix(1 0.0005 0 1 0 -0.5571)" text-anchor="middle" class="wd">614</text>
<text x="1097.65" y="577.42" transform="matrix(1 0.0005 0 1 0 -0.5488)" text-anchor="middle" class="n">405</text>
<text x="1114.13" y="577.42" transform="matrix(1 0.0005 0 1 0 -0.5571)" text-anchor="middle" class="n">603</text>
<text x="1097.65" y="584.01" transform="matrix(1 0.0005 0 1 0 -0.5488)" text-anchor="middle" class="n">13</text>
<text x="1114.13" y="584.01" transform="matrix(1 0.0005 0 1 0 -0.5571)" text-anchor="middle" class="n">11</text>
<text x="1253.28" y="550.47" transform="matrix(1 0.0005 0 1 0 -0.6266)" text-anchor="end" class="b">Mona St</text>
<text x="1081.18" y="616.94" transform="matrix(1 0.0005 0 1 0 -0.5406)" text-anchor="middle" class="n">24</text>
<text x="1097.65" y="616.94" transform="matrix(1 0.0005 0 1 0 -0.5488)" text-anchor="middle" class="n">1,008</text>
<text x="1114.13" y="616.94" transform="matrix(1 0.0005 0 1 0 -0.5571)" text-anchor="middle" class="wd">1,032</text>
<text x="1130.61" y="616.94" transform="matrix(1 0.0005 0 1 0 -0.5653)" text-anchor="middle" class="wd">259</text>
<text x="1147.08" y="616.94" transform="matrix(1 0.0005 0 1 0 -0.5735)" text-anchor="middle" class="n">239</text>
<text x="1163.56" y="616.94" transform="matrix(1 0.0005 0 1 0 -0.5818)" text-anchor="middle" class="n">20</text>
<text x="1081.18" y="623.53" transform="matrix(1 0.0005 0 1 0 -0.5406)" text-anchor="middle" class="n">-4</text>
<text x="1097.65" y="623.53" transform="matrix(1 0.0005 0 1 0 -0.5488)" text-anchor="middle" class="n">7</text>
<text x="1114.13" y="623.53" transform="matrix(1 0.0005 0 1 0 -0.5571)" text-anchor="middle" class="n">3</text>
<text x="1130.61" y="623.53" transform="matrix(1 0.0005 0 1 0 -0.5653)" text-anchor="middle" class="n">7</text>
<text x="1147.08" y="623.53" transform="matrix(1 0.0005 0 1 0 -0.5735)" text-anchor="middle" class="n">7</text>
<text x="1163.56" y="623.53" transform="matrix(1 0.0005 0 1 0 -0.5818)" text-anchor="middle" class="n">-</text>
<text x="1081.18" y="630.12" transform="matrix(1 0.0005 0 1 0 -0.5406)" text-anchor="middle" class="n">28</text>
<text x="1097.65" y="630.12" transform="matrix(1 0.0005 0 1 0 -0.5488)" text-anchor="middle" class="n">1,001</text>
<text x="1114.13" y="630.12" transform="matrix(1 0.0005 0 1 0 -0.5571)" text-anchor="middle" class="wd">1,029</text>
<text x="1130.61" y="630.12" transform="matrix(1 0.0005 0 1 0 -0.5653)" text-anchor="middle" class="wd">252</text>
<text x="1147.08" y="630.12" transform="matrix(1 0.0005 0 1 0 -0.5735)" text-anchor="middle" class="n">232</text>
<text x="1163.56" y="630.12" transform="matrix(1 0.0005 0 1 0 -0.5818)" text-anchor="middle" class="n">20</text>
<text x="306.81" y="696" transform="matrix(1 0.0005 0 1 0 -0.1534)" text-anchor="middle" class="n">3</text>
<text x="323.28" y="696" transform="matrix(1 0.0005 0 1 0 -0.1616)" text-anchor="middle" class="n">-</text>
<text x="306.81" y="702.58" transform="matrix(1 0.0005 0 1 0 -0.1534)" text-anchor="middle" class="n">1</text>
<text x="323.28" y="702.58" transform="matrix(1 0.0005 0 1 0 -0.1616)" text-anchor="middle" class="n">-</text>
<text x="306.81" y="709.17" transform="matrix(1 0.0005 0 1 0 -0.1534)" text-anchor="middle" class="n">-</text>
<text x="323.28" y="709.17" transform="matrix(1 0.0005 0 1 0 -0.1616)" text-anchor="middle" class="n">-</text>
<text x="306.81" y="715.76" transform="matrix(1 0.0005 0 1 0 -0.1534)" text-anchor="middle" class="n">-</text>
<text x="323.28" y="715.76" transform="matrix(1 0.0005 0 1 0 -0.1616)" text-anchor="middle" class="n">-</text>
<text x="292.07" y="688.81" transform="matrix(1 0.0005 0 1 0 -0.1460)" text-anchor="middle" class="i">U-turns</text>
<text x="298.07" y="696" transform="matrix(1 0.0005 0 1 0 -0.1490)" text-anchor="end" class="n ul">Blaxcell St (S)</text>
<text x="298.07" y="702.58" transform="matrix(1 0.0005 0 1 0 -0.1490)" text-anchor="end" class="n ul">Hudson St (E)</text>
<text x="298.07" y="709.17" transform="matrix(1 0.0005 0 1 0 -0.1490)" text-anchor="end" class="n ul">Blaxcell St (N)</text>
<text x="298.07" y="715.76" transform="matrix(1 0.0005 0 1 0 -0.1490)" text-anchor="end" class="n ul">Lisgar St (W)</text>
<text x="356.23" y="676.23" transform="matrix(1 0.0005 0 1 0 -0.1781)" text-anchor="middle" class="n">1</text>
<text x="356.23" y="682.82" transform="matrix(1 0.0005 0 1 0 -0.1781)" text-anchor="middle" class="n">144</text>
<text x="356.23" y="688.81" transform="matrix(1 0.0005 0 1 0 -0.1781)" text-anchor="middle" class="wd">145</text>
<text x="356.23" y="696" transform="matrix(1 0.0005 0 1 0 -0.1781)" text-anchor="middle" class="wd">120</text>
<text x="356.23" y="702.58" transform="matrix(1 0.0005 0 1 0 -0.1781)" text-anchor="middle" class="n">119</text>
<text x="356.23" y="709.17" transform="matrix(1 0.0005 0 1 0 -0.1781)" text-anchor="middle" class="n">1</text>
<text x="365.87" y="688.81" transform="matrix(1 0.0005 0 1 0 -0.1829)" class="b">Lisgar St</text>
<text x="438.61" y="676.23" transform="matrix(1 0.0005 0 1 0 -0.2193)" text-anchor="middle" class="n">1</text>
<text x="455.09" y="676.23" transform="matrix(1 0.0005 0 1 0 -0.2275)" text-anchor="middle" class="n">79</text>
<text x="471.57" y="676.23" transform="matrix(1 0.0005 0 1 0 -0.2358)" text-anchor="middle" class="wd">80</text>
<text x="438.61" y="682.82" transform="matrix(1 0.0005 0 1 0 -0.2193)" text-anchor="middle" class="n">-</text>
<text x="455.09" y="682.82" transform="matrix(1 0.0005 0 1 0 -0.2275)" text-anchor="middle" class="n">43</text>
<text x="471.57" y="682.82" transform="matrix(1 0.0005 0 1 0 -0.2358)" text-anchor="middle" class="wd">43</text>
<text x="438.61" y="688.81" transform="matrix(1 0.0005 0 1 0 -0.2193)" text-anchor="middle" class="n">-</text>
<text x="455.09" y="688.81" transform="matrix(1 0.0005 0 1 0 -0.2275)" text-anchor="middle" class="n">22</text>
<text x="471.57" y="688.81" transform="matrix(1 0.0005 0 1 0 -0.2358)" text-anchor="middle" class="wd">22</text>
<text x="504.52" y="663.06" transform="matrix(1 0.0005 0 1 0 -0.2523)" text-anchor="middle" class="n">1</text>
<text x="520.99" y="663.06" transform="matrix(1 0.0005 0 1 0 -0.2605)" text-anchor="middle" class="n">14</text>
<text x="537.47" y="663.06" transform="matrix(1 0.0005 0 1 0 -0.2687)" text-anchor="middle" class="n">-</text>
<text x="504.52" y="669.65" transform="matrix(1 0.0005 0 1 0 -0.2523)" text-anchor="middle" class="n">77</text>
<text x="520.99" y="669.65" transform="matrix(1 0.0005 0 1 0 -0.2605)" text-anchor="middle" class="n">358</text>
<text x="537.47" y="669.65" transform="matrix(1 0.0005 0 1 0 -0.2687)" text-anchor="middle" class="n">101</text>
<text x="504.52" y="676.23" transform="matrix(1 0.0005 0 1 0 -0.2523)" text-anchor="middle" class="wd">78</text>
<text x="520.99" y="676.23" transform="matrix(1 0.0005 0 1 0 -0.2605)" text-anchor="middle" class="wd">372</text>
<text x="537.47" y="676.23" transform="matrix(1 0.0005 0 1 0 -0.2687)" text-anchor="middle" class="wd">101</text>
<text x="520.99" y="696" transform="matrix(1 0.0005 0 1 0 -0.2605)" text-anchor="middle" class="wd">4</text>
<text x="537.47" y="696" transform="matrix(1 0.0005 0 1 0 -0.2687)" text-anchor="middle" class="n">4</text>
<text x="553.95" y="696" transform="matrix(1 0.0005 0 1 0 -0.2770)" text-anchor="middle" class="n">-</text>
<text x="520.99" y="702.58" transform="matrix(1 0.0005 0 1 0 -0.2605)" text-anchor="middle" class="wd">10</text>
<text x="537.47" y="702.58" transform="matrix(1 0.0005 0 1 0 -0.2687)" text-anchor="middle" class="n">10</text>
<text x="553.95" y="702.58" transform="matrix(1 0.0005 0 1 0 -0.2770)" text-anchor="middle" class="n">-</text>
<text x="520.99" y="709.17" transform="matrix(1 0.0005 0 1 0 -0.2605)" text-anchor="middle" class="wd">14</text>
<text x="537.47" y="709.17" transform="matrix(1 0.0005 0 1 0 -0.2687)" text-anchor="middle" class="n">14</text>
<text x="553.95" y="709.17" transform="matrix(1 0.0005 0 1 0 -0.2770)" text-anchor="middle" class="n">-</text>
<text x="455.09" y="709.17" transform="matrix(1 0.0005 0 1 0 -0.2275)" text-anchor="middle" class="wd">32</text>
<text x="471.57" y="709.17" transform="matrix(1 0.0005 0 1 0 -0.2358)" text-anchor="middle" class="wd">423</text>
<text x="488.04" y="709.17" transform="matrix(1 0.0005 0 1 0 -0.2440)" text-anchor="middle" class="wd">16</text>
<text x="455.09" y="715.76" transform="matrix(1 0.0005 0 1 0 -0.2275)" text-anchor="middle" class="n">32</text>
<text x="471.57" y="715.76" transform="matrix(1 0.0005 0 1 0 -0.2358)" text-anchor="middle" class="n">405</text>
<text x="488.04" y="715.76" transform="matrix(1 0.0005 0 1 0 -0.2440)" text-anchor="middle" class="n">16</text>
<text x="455.09" y="722.35" transform="matrix(1 0.0005 0 1 0 -0.2275)" text-anchor="middle" class="n">-</text>
<text x="471.57" y="722.35" transform="matrix(1 0.0005 0 1 0 -0.2358)" text-anchor="middle" class="n">18</text>
<text x="488.04" y="722.35" transform="matrix(1 0.0005 0 1 0 -0.2440)" text-anchor="middle" class="n">-</text>
<text x="636.33" y="676.23" transform="matrix(1 0.0005 0 1 0 -0.3182)" text-anchor="middle" class="n">-</text>
<text x="652.8" y="676.23" transform="matrix(1 0.0005 0 1 0 -0.3264)" text-anchor="middle" class="n">-</text>
<text x="669.28" y="676.23" transform="matrix(1 0.0005 0 1 0 -0.3346)" text-anchor="middle" class="n">-</text>
<text x="636.33" y="682.82" transform="matrix(1 0.0005 0 1 0 -0.3182)" text-anchor="middle" class="n">160</text>
<text x="652.8" y="682.82" transform="matrix(1 0.0005 0 1 0 -0.3264)" text-anchor="middle" class="n">10</text>
<text x="669.28" y="682.82" transform="matrix(1 0.0005 0 1 0 -0.3346)" text-anchor="middle" class="n">150</text>
<text x="636.33" y="688.81" transform="matrix(1 0.0005 0 1 0 -0.3182)" text-anchor="middle" class="wd">160</text>
<text x="652.8" y="688.81" transform="matrix(1 0.0005 0 1 0 -0.3264)" text-anchor="middle" class="n">10</text>
<text x="669.28" y="688.81" transform="matrix(1 0.0005 0 1 0 -0.3346)" text-anchor="middle" class="wd">150</text>
<text x="636.33" y="696" transform="matrix(1 0.0005 0 1 0 -0.3182)" text-anchor="middle" class="wd">28</text>
<text x="652.8" y="696" transform="matrix(1 0.0005 0 1 0 -0.3264)" text-anchor="middle" class="n">-4</text>
<text x="669.28" y="696" transform="matrix(1 0.0005 0 1 0 -0.3346)" text-anchor="middle" class="wd">32</text>
<text x="636.33" y="702.58" transform="matrix(1 0.0005 0 1 0 -0.3182)" text-anchor="middle" class="n">28</text>
<text x="652.8" y="702.58" transform="matrix(1 0.0005 0 1 0 -0.3264)" text-anchor="middle" class="n">7</text>
<text x="669.28" y="702.58" transform="matrix(1 0.0005 0 1 0 -0.3346)" text-anchor="middle" class="n">21</text>
<text x="636.33" y="709.17" transform="matrix(1 0.0005 0 1 0 -0.3182)" text-anchor="middle" class="n">-</text>
<text x="652.8" y="709.17" transform="matrix(1 0.0005 0 1 0 -0.3264)" text-anchor="middle" class="n">-11</text>
<text x="669.28" y="709.17" transform="matrix(1 0.0005 0 1 0 -0.3346)" text-anchor="middle" class="n">11</text>
<text x="627.19" y="688.81" transform="matrix(1 0.0005 0 1 0 -0.3136)" text-anchor="end" class="b">Hudson St</text>
<text x="678.92" y="688.81" transform="matrix(1 0.0005 0 1 0 -0.3395)" class="b">Hudson St</text>
<text x="751.66" y="676.23" transform="matrix(1 0.0005 0 1 0 -0.3758)" text-anchor="middle" class="n">-</text>
<text x="768.13" y="676.23" transform="matrix(1 0.0005 0 1 0 -0.3841)" text-anchor="middle" class="n">5</text>
<text x="784.61" y="676.23" transform="matrix(1 0.0005 0 1 0 -0.3923)" text-anchor="middle" class="wd">5</text>
<text x="751.66" y="682.82" transform="matrix(1 0.0005 0 1 0 -0.3758)" text-anchor="middle" class="n">-</text>
<text x="768.13" y="682.82" transform="matrix(1 0.0005 0 1 0 -0.3841)" text-anchor="middle" class="n">113</text>
<text x="784.61" y="682.82" transform="matrix(1 0.0005 0 1 0 -0.3923)" text-anchor="middle" class="wd">113</text>
<text x="751.66" y="688.81" transform="matrix(1 0.0005 0 1 0 -0.3758)" text-anchor="middle" class="n">-</text>
<text x="768.13" y="688.81" transform="matrix(1 0.0005 0 1 0 -0.3841)" text-anchor="middle" class="n">32</text>
<text x="784.61" y="688.81" transform="matrix(1 0.0005 0 1 0 -0.3923)" text-anchor="middle" class="wd">32</text>
<text x="817.56" y="663.06" transform="matrix(1 0.0005 0 1 0 -0.4088)" text-anchor="middle" class="n">-</text>
<text x="834.04" y="663.06" transform="matrix(1 0.0005 0 1 0 -0.4170)" text-anchor="middle" class="n">2</text>
<text x="850.51" y="663.06" transform="matrix(1 0.0005 0 1 0 -0.4253)" text-anchor="middle" class="n">1</text>
<text x="817.56" y="669.65" transform="matrix(1 0.0005 0 1 0 -0.4088)" text-anchor="middle" class="n">5</text>
<text x="834.04" y="669.65" transform="matrix(1 0.0005 0 1 0 -0.4170)" text-anchor="middle" class="n">58</text>
<text x="850.51" y="669.65" transform="matrix(1 0.0005 0 1 0 -0.4253)" text-anchor="middle" class="n">54</text>
<text x="817.56" y="676.23" transform="matrix(1 0.0005 0 1 0 -0.4088)" text-anchor="middle" class="wd">5</text>
<text x="834.04" y="676.23" transform="matrix(1 0.0005 0 1 0 -0.4170)" text-anchor="middle" class="wd">60</text>
<text x="850.51" y="676.23" transform="matrix(1 0.0005 0 1 0 -0.4253)" text-anchor="middle" class="wd">55</text>
<text x="834.04" y="696" transform="matrix(1 0.0005 0 1 0 -0.4170)" text-anchor="middle" class="wd">6</text>
<text x="850.51" y="696" transform="matrix(1 0.0005 0 1 0 -0.4253)" text-anchor="middle" class="n">6</text>
<text x="866.99" y="696" transform="matrix(1 0.0005 0 1 0 -0.4335)" text-anchor="middle" class="n">-</text>
<text x="834.04" y="702.58" transform="matrix(1 0.0005 0 1 0 -0.4170)" text-anchor="middle" class="wd">2</text>
<text x="850.51" y="702.58" transform="matrix(1 0.0005 0 1 0 -0.4253)" text-anchor="middle" class="n">2</text>
<text x="866.99" y="702.58" transform="matrix(1 0.0005 0 1 0 -0.4335)" text-anchor="middle" class="n">-</text>
<text x="834.04" y="709.17" transform="matrix(1 0.0005 0 1 0 -0.4170)" text-anchor="middle" class="wd">9</text>
<text x="850.51" y="709.17" transform="matrix(1 0.0005 0 1 0 -0.4253)" text-anchor="middle" class="n">9</text>
<text x="866.99" y="709.17" transform="matrix(1 0.0005 0 1 0 -0.4335)" text-anchor="middle" class="n">-</text>
<text x="768.13" y="709.17" transform="matrix(1 0.0005 0 1 0 -0.3841)" text-anchor="middle" class="wd">25</text>
<text x="784.61" y="709.17" transform="matrix(1 0.0005 0 1 0 -0.3923)" text-anchor="middle" class="wd">72</text>
<text x="801.09" y="709.17" transform="matrix(1 0.0005 0 1 0 -0.4005)" text-anchor="middle" class="wd">18</text>
<text x="768.13" y="715.76" transform="matrix(1 0.0005 0 1 0 -0.3841)" text-anchor="middle" class="n">14</text>
<text x="784.61" y="715.76" transform="matrix(1 0.0005 0 1 0 -0.3923)" text-anchor="middle" class="n">71</text>
<text x="801.09" y="715.76" transform="matrix(1 0.0005 0 1 0 -0.4005)" text-anchor="middle" class="n">18</text>
<text x="768.13" y="722.35" transform="matrix(1 0.0005 0 1 0 -0.3841)" text-anchor="middle" class="n">11</text>
<text x="784.61" y="722.35" transform="matrix(1 0.0005 0 1 0 -0.3923)" text-anchor="middle" class="n">1</text>
<text x="801.09" y="722.35" transform="matrix(1 0.0005 0 1 0 -0.4005)" text-anchor="middle" class="n">-</text>
<text x="949.37" y="676.23" transform="matrix(1 0.0005 0 1 0 -0.4747)" text-anchor="middle" class="n">1</text>
<text x="965.85" y="676.23" transform="matrix(1 0.0005 0 1 0 -0.4829)" text-anchor="middle" class="n">-</text>
<text x="982.32" y="676.23" transform="matrix(1 0.0005 0 1 0 -0.4912)" text-anchor="middle" class="n">1</text>
<text x="949.37" y="682.82" transform="matrix(1 0.0005 0 1 0 -0.4747)" text-anchor="middle" class="n">185</text>
<text x="965.85" y="682.82" transform="matrix(1 0.0005 0 1 0 -0.4829)" text-anchor="middle" class="n">28</text>
<text x="982.32" y="682.82" transform="matrix(1 0.0005 0 1 0 -0.4912)" text-anchor="middle" class="n">157</text>
<text x="949.37" y="688.81" transform="matrix(1 0.0005 0 1 0 -0.4747)" text-anchor="middle" class="wd">186</text>
<text x="965.85" y="688.81" transform="matrix(1 0.0005 0 1 0 -0.4829)" text-anchor="middle" class="n">28</text>
<text x="982.32" y="688.81" transform="matrix(1 0.0005 0 1 0 -0.4912)" text-anchor="middle" class="wd">158</text>
<text x="949.37" y="696" transform="matrix(1 0.0005 0 1 0 -0.4747)" text-anchor="middle" class="wd">17</text>
<text x="965.85" y="696" transform="matrix(1 0.0005 0 1 0 -0.4829)" text-anchor="middle" class="n">2</text>
<text x="982.32" y="696" transform="matrix(1 0.0005 0 1 0 -0.4912)" text-anchor="middle" class="wd">15</text>
<text x="949.37" y="702.58" transform="matrix(1 0.0005 0 1 0 -0.4747)" text-anchor="middle" class="n">17</text>
<text x="965.85" y="702.58" transform="matrix(1 0.0005 0 1 0 -0.4829)" text-anchor="middle" class="n">2</text>
<text x="982.32" y="702.58" transform="matrix(1 0.0005 0 1 0 -0.4912)" text-anchor="middle" class="n">15</text>
<text x="949.37" y="709.17" transform="matrix(1 0.0005 0 1 0 -0.4747)" text-anchor="middle" class="n">-</text>
<text x="965.85" y="709.17" transform="matrix(1 0.0005 0 1 0 -0.4829)" text-anchor="middle" class="n">-</text>
<text x="982.32" y="709.17" transform="matrix(1 0.0005 0 1 0 -0.4912)" text-anchor="middle" class="n">-</text>
<text x="940.23" y="688.81" transform="matrix(1 0.0005 0 1 0 -0.4701)" text-anchor="end" class="b">Hudson St</text>
<text x="991.96" y="688.81" transform="matrix(1 0.0005 0 1 0 -0.4960)" class="b">Hudson St</text>
<text x="1064.7" y="676.23" transform="matrix(1 0.0005 0 1 0 -0.5324)" text-anchor="middle" class="n">1</text>
<text x="1081.18" y="676.23" transform="matrix(1 0.0005 0 1 0 -0.5406)" text-anchor="middle" class="n">157</text>
<text x="1097.65" y="676.23" transform="matrix(1 0.0005 0 1 0 -0.5488)" text-anchor="middle" class="wd">158</text>
<text x="1147.08" y="663.06" transform="matrix(1 0.0005 0 1 0 -0.5735)" text-anchor="middle" class="n">20</text>
<text x="1147.08" y="669.65" transform="matrix(1 0.0005 0 1 0 -0.5735)" text-anchor="middle" class="n">232</text>
<text x="1147.08" y="676.23" transform="matrix(1 0.0005 0 1 0 -0.5735)" text-anchor="middle" class="wd">252</text>
<text x="1081.18" y="709.17" transform="matrix(1 0.0005 0 1 0 -0.5406)" text-anchor="middle" class="wd">15</text>
<text x="1097.65" y="709.17" transform="matrix(1 0.0005 0 1 0 -0.5488)" text-anchor="middle" class="wd">871</text>
<text x="1081.18" y="715.76" transform="matrix(1 0.0005 0 1 0 -0.5406)" text-anchor="middle" class="n">15</text>
<text x="1097.65" y="715.76" transform="matrix(1 0.0005 0 1 0 -0.5488)" text-anchor="middle" class="n">844</text>
<text x="1081.18" y="722.35" transform="matrix(1 0.0005 0 1 0 -0.5406)" text-anchor="middle" class="n">-</text>
<text x="1097.65" y="722.35" transform="matrix(1 0.0005 0 1 0 -0.5488)" text-anchor="middle" class="n">27</text>
<text x="455.09" y="755.29" transform="matrix(1 0.0005 0 1 0 -0.2275)" text-anchor="middle" class="n">18</text>
<text x="471.57" y="755.29" transform="matrix(1 0.0005 0 1 0 -0.2358)" text-anchor="middle" class="n">453</text>
<text x="488.04" y="755.29" transform="matrix(1 0.0005 0 1 0 -0.2440)" text-anchor="middle" class="wd">471</text>
<text x="504.52" y="755.29" transform="matrix(1 0.0005 0 1 0 -0.2523)" text-anchor="middle" class="wd">408</text>
<text x="520.99" y="755.29" transform="matrix(1 0.0005 0 1 0 -0.2605)" text-anchor="middle" class="n">394</text>
<text x="537.47" y="755.29" transform="matrix(1 0.0005 0 1 0 -0.2687)" text-anchor="middle" class="n">14</text>
<text x="455.09" y="761.87" transform="matrix(1 0.0005 0 1 0 -0.2275)" text-anchor="middle" class="n">2</text>
<text x="471.57" y="761.87" transform="matrix(1 0.0005 0 1 0 -0.2358)" text-anchor="middle" class="n">-160</text>
<text x="488.04" y="761.87" transform="matrix(1 0.0005 0 1 0 -0.2440)" text-anchor="middle" class="n">-158</text>
<text x="504.52" y="761.87" transform="matrix(1 0.0005 0 1 0 -0.2523)" text-anchor="middle" class="n">-29</text>
<text x="520.99" y="761.87" transform="matrix(1 0.0005 0 1 0 -0.2605)" text-anchor="middle" class="n">-29</text>
<text x="537.47" y="761.87" transform="matrix(1 0.0005 0 1 0 -0.2687)" text-anchor="middle" class="n">-</text>
<text x="455.09" y="768.46" transform="matrix(1 0.0005 0 1 0 -0.2275)" text-anchor="middle" class="n">16</text>
<text x="471.57" y="768.46" transform="matrix(1 0.0005 0 1 0 -0.2358)" text-anchor="middle" class="n">613</text>
<text x="488.04" y="768.46" transform="matrix(1 0.0005 0 1 0 -0.2440)" text-anchor="middle" class="wd">629</text>
<text x="504.52" y="768.46" transform="matrix(1 0.0005 0 1 0 -0.2523)" text-anchor="middle" class="wd">437</text>
<text x="520.99" y="768.46" transform="matrix(1 0.0005 0 1 0 -0.2605)" text-anchor="middle" class="n">423</text>
<text x="537.47" y="768.46" transform="matrix(1 0.0005 0 1 0 -0.2687)" text-anchor="middle" class="n">14</text>
<text x="547.01" y="761.87" transform="matrix(1 0.0005 0 1 0 -0.2735)" class="r">2 intersections in between</text>
<text x="52.83" y="827.15" transform="matrix(1 0.0005 0 1 0 -0.0264)" class="b">Lavinia St</text>
<text x="125.57" y="814.58" transform="matrix(1 0.0005 0 1 0 -0.0628)" text-anchor="middle" class="n">-</text>
<text x="142.05" y="814.58" transform="matrix(1 0.0005 0 1 0 -0.0710)" text-anchor="middle" class="n">5</text>
<text x="158.52" y="814.58" transform="matrix(1 0.0005 0 1 0 -0.0793)" text-anchor="middle" class="wd">5</text>
<text x="125.57" y="821.16" transform="matrix(1 0.0005 0 1 0 -0.0628)" text-anchor="middle" class="n">-</text>
<text x="142.05" y="821.16" transform="matrix(1 0.0005 0 1 0 -0.0710)" text-anchor="middle" class="n">238</text>
<text x="158.52" y="821.16" transform="matrix(1 0.0005 0 1 0 -0.0793)" text-anchor="middle" class="wd">238</text>
<text x="125.57" y="827.15" transform="matrix(1 0.0005 0 1 0 -0.0628)" text-anchor="middle" class="n">-</text>
<text x="142.05" y="827.15" transform="matrix(1 0.0005 0 1 0 -0.0710)" text-anchor="middle" class="n">3</text>
<text x="158.52" y="827.15" transform="matrix(1 0.0005 0 1 0 -0.0793)" text-anchor="middle" class="wd">3</text>
<text x="191.47" y="801.4" transform="matrix(1 0.0005 0 1 0 -0.0957)" text-anchor="middle" class="n">-</text>
<text x="207.95" y="801.4" transform="matrix(1 0.0005 0 1 0 -0.1040)" text-anchor="middle" class="n">1</text>
<text x="224.43" y="801.4" transform="matrix(1 0.0005 0 1 0 -0.1122)" text-anchor="middle" class="n">-</text>
<text x="191.47" y="807.99" transform="matrix(1 0.0005 0 1 0 -0.0957)" text-anchor="middle" class="n">4</text>
<text x="207.95" y="807.99" transform="matrix(1 0.0005 0 1 0 -0.1040)" text-anchor="middle" class="n">3</text>
<text x="224.43" y="807.99" transform="matrix(1 0.0005 0 1 0 -0.1122)" text-anchor="middle" class="n">18</text>
<text x="191.47" y="814.58" transform="matrix(1 0.0005 0 1 0 -0.0957)" text-anchor="middle" class="wd">4</text>
<text x="207.95" y="814.58" transform="matrix(1 0.0005 0 1 0 -0.1040)" text-anchor="middle" class="wd">4</text>
<text x="224.43" y="814.58" transform="matrix(1 0.0005 0 1 0 -0.1122)" text-anchor="middle" class="wd">18</text>
<text x="207.95" y="834.34" transform="matrix(1 0.0005 0 1 0 -0.1040)" text-anchor="middle" class="wd">16</text>
<text x="224.43" y="834.34" transform="matrix(1 0.0005 0 1 0 -0.1122)" text-anchor="middle" class="n">16</text>
<text x="240.9" y="834.34" transform="matrix(1 0.0005 0 1 0 -0.1205)" text-anchor="middle" class="n">-</text>
<text x="207.95" y="840.93" transform="matrix(1 0.0005 0 1 0 -0.1040)" text-anchor="middle" class="wd">71</text>
<text x="224.43" y="840.93" transform="matrix(1 0.0005 0 1 0 -0.1122)" text-anchor="middle" class="n">71</text>
<text x="240.9" y="840.93" transform="matrix(1 0.0005 0 1 0 -0.1205)" text-anchor="middle" class="n">-</text>
<text x="207.95" y="847.51" transform="matrix(1 0.0005 0 1 0 -0.1040)" text-anchor="middle" class="wd">4</text>
<text x="224.43" y="847.51" transform="matrix(1 0.0005 0 1 0 -0.1122)" text-anchor="middle" class="n">4</text>
<text x="240.9" y="847.51" transform="matrix(1 0.0005 0 1 0 -0.1205)" text-anchor="middle" class="n">-</text>
<text x="142.05" y="847.51" transform="matrix(1 0.0005 0 1 0 -0.0710)" text-anchor="middle" class="wd">2</text>
<text x="158.52" y="847.51" transform="matrix(1 0.0005 0 1 0 -0.0793)" text-anchor="middle" class="wd">8</text>
<text x="175" y="847.51" transform="matrix(1 0.0005 0 1 0 -0.0875)" text-anchor="middle" class="wd">7</text>
<text x="142.05" y="854.1" transform="matrix(1 0.0005 0 1 0 -0.0710)" text-anchor="middle" class="n">2</text>
<text x="158.52" y="854.1" transform="matrix(1 0.0005 0 1 0 -0.0793)" text-anchor="middle" class="n">8</text>
<text x="175" y="854.1" transform="matrix(1 0.0005 0 1 0 -0.0875)" text-anchor="middle" class="n">7</text>
<text x="142.05" y="860.69" transform="matrix(1 0.0005 0 1 0 -0.0710)" text-anchor="middle" class="n">-</text>
<text x="158.52" y="860.69" transform="matrix(1 0.0005 0 1 0 -0.0793)" text-anchor="middle" class="n">-</text>
<text x="175" y="860.69" transform="matrix(1 0.0005 0 1 0 -0.0875)" text-anchor="middle" class="n">-</text>
<text x="191.47" y="900.22" transform="matrix(1 0.0005 0 1 0 -0.0957)" text-anchor="middle" class="n">-</text>
<text x="207.95" y="900.22" transform="matrix(1 0.0005 0 1 0 -0.1040)" text-anchor="middle" class="n">-</text>
<text x="191.47" y="906.8" transform="matrix(1 0.0005 0 1 0 -0.0957)" text-anchor="middle" class="n">-</text>
<text x="207.95" y="906.8" transform="matrix(1 0.0005 0 1 0 -0.1040)" text-anchor="middle" class="n">-</text>
<text x="191.47" y="913.39" transform="matrix(1 0.0005 0 1 0 -0.0957)" text-anchor="middle" class="n">-</text>
<text x="207.95" y="913.39" transform="matrix(1 0.0005 0 1 0 -0.1040)" text-anchor="middle" class="n">-</text>
<text x="191.47" y="919.98" transform="matrix(1 0.0005 0 1 0 -0.0957)" text-anchor="middle" class="n">-</text>
<text x="207.95" y="919.98" transform="matrix(1 0.0005 0 1 0 -0.1040)" text-anchor="middle" class="n">-</text>
<text x="176.74" y="893.63" transform="matrix(1 0.0005 0 1 0 -0.0884)" text-anchor="middle" class="i">U-turns</text>
<text x="182.74" y="900.22" transform="matrix(1 0.0005 0 1 0 -0.0914)" text-anchor="end" class="n ul">Robertson St (S)</text>
<text x="182.74" y="906.8" transform="matrix(1 0.0005 0 1 0 -0.0914)" text-anchor="end" class="n ul">Lavinia St (E)</text>
<text x="182.74" y="913.39" transform="matrix(1 0.0005 0 1 0 -0.0914)" text-anchor="end" class="n ul">Robertson St (N)</text>
<text x="182.74" y="919.98" transform="matrix(1 0.0005 0 1 0 -0.0914)" text-anchor="end" class="n ul">Lavinia St (W)</text>
<text x="323.28" y="814.58" transform="matrix(1 0.0005 0 1 0 -0.1616)" text-anchor="middle" class="n">-</text>
<text x="339.76" y="814.58" transform="matrix(1 0.0005 0 1 0 -0.1699)" text-anchor="middle" class="n">-</text>
<text x="356.23" y="814.58" transform="matrix(1 0.0005 0 1 0 -0.1781)" text-anchor="middle" class="n">-</text>
<text x="323.28" y="821.16" transform="matrix(1 0.0005 0 1 0 -0.1616)" text-anchor="middle" class="n">263</text>
<text x="339.76" y="821.16" transform="matrix(1 0.0005 0 1 0 -0.1699)" text-anchor="middle" class="n">-7</text>
<text x="356.23" y="821.16" transform="matrix(1 0.0005 0 1 0 -0.1781)" text-anchor="middle" class="n">270</text>
<text x="323.28" y="827.15" transform="matrix(1 0.0005 0 1 0 -0.1616)" text-anchor="middle" class="wd">263</text>
<text x="339.76" y="827.15" transform="matrix(1 0.0005 0 1 0 -0.1699)" text-anchor="middle" class="n">-7</text>
<text x="356.23" y="827.15" transform="matrix(1 0.0005 0 1 0 -0.1781)" text-anchor="middle" class="wd">270</text>
<text x="323.28" y="834.34" transform="matrix(1 0.0005 0 1 0 -0.1616)" text-anchor="middle" class="wd">91</text>
<text x="339.76" y="834.34" transform="matrix(1 0.0005 0 1 0 -0.1699)" text-anchor="middle" class="n">2</text>
<text x="356.23" y="834.34" transform="matrix(1 0.0005 0 1 0 -0.1781)" text-anchor="middle" class="wd">89</text>
<text x="323.28" y="840.93" transform="matrix(1 0.0005 0 1 0 -0.1616)" text-anchor="middle" class="n">91</text>
<text x="339.76" y="840.93" transform="matrix(1 0.0005 0 1 0 -0.1699)" text-anchor="middle" class="n">2</text>
<text x="356.23" y="840.93" transform="matrix(1 0.0005 0 1 0 -0.1781)" text-anchor="middle" class="n">89</text>
<text x="323.28" y="847.51" transform="matrix(1 0.0005 0 1 0 -0.1616)" text-anchor="middle" class="n">-</text>
<text x="339.76" y="847.51" transform="matrix(1 0.0005 0 1 0 -0.1699)" text-anchor="middle" class="n">-</text>
<text x="356.23" y="847.51" transform="matrix(1 0.0005 0 1 0 -0.1781)" text-anchor="middle" class="n">-</text>
<text x="333.02" y="807.99" transform="matrix(1 0.0005 0 1 0 -0.1665)" class="r">1 intersection in between</text>
<text x="314.14" y="827.15" transform="matrix(1 0.0005 0 1 0 -0.1571)" text-anchor="end" class="b">Lavinia St</text>
<text x="365.87" y="827.15" transform="matrix(1 0.0005 0 1 0 -0.1829)" class="b">Lavinia St</text>
<text x="438.61" y="814.58" transform="matrix(1 0.0005 0 1 0 -0.2193)" text-anchor="middle" class="n">-</text>
<text x="455.09" y="814.58" transform="matrix(1 0.0005 0 1 0 -0.2275)" text-anchor="middle" class="n">216</text>
<text x="471.57" y="814.58" transform="matrix(1 0.0005 0 1 0 -0.2358)" text-anchor="middle" class="wd">216</text>
<text x="438.61" y="827.15" transform="matrix(1 0.0005 0 1 0 -0.2193)" text-anchor="middle" class="n">-</text>
<text x="455.09" y="827.15" transform="matrix(1 0.0005 0 1 0 -0.2275)" text-anchor="middle" class="n">54</text>
<text x="471.57" y="827.15" transform="matrix(1 0.0005 0 1 0 -0.2358)" text-anchor="middle" class="wd">54</text>
<text x="504.52" y="801.4" transform="matrix(1 0.0005 0 1 0 -0.2523)" text-anchor="middle" class="n">-</text>
<text x="520.99" y="801.4" transform="matrix(1 0.0005 0 1 0 -0.2605)" text-anchor="middle" class="n">14</text>
<text x="504.52" y="807.99" transform="matrix(1 0.0005 0 1 0 -0.2523)" text-anchor="middle" class="n">66</text>
<text x="520.99" y="807.99" transform="matrix(1 0.0005 0 1 0 -0.2605)" text-anchor="middle" class="n">357</text>
<text x="504.52" y="814.58" transform="matrix(1 0.0005 0 1 0 -0.2523)" text-anchor="middle" class="wd">66</text>
<text x="520.99" y="814.58" transform="matrix(1 0.0005 0 1 0 -0.2605)" text-anchor="middle" class="wd">371</text>
<text x="455.09" y="847.51" transform="matrix(1 0.0005 0 1 0 -0.2275)" text-anchor="middle" class="wd">23</text>
<text x="471.57" y="847.51" transform="matrix(1 0.0005 0 1 0 -0.2358)" text-anchor="middle" class="wd">413</text>
<text x="455.09" y="854.1" transform="matrix(1 0.0005 0 1 0 -0.2275)" text-anchor="middle" class="n">23</text>
<text x="471.57" y="854.1" transform="matrix(1 0.0005 0 1 0 -0.2358)" text-anchor="middle" class="n">397</text>
<text x="455.09" y="860.69" transform="matrix(1 0.0005 0 1 0 -0.2275)" text-anchor="middle" class="n">-</text>
<text x="471.57" y="860.69" transform="matrix(1 0.0005 0 1 0 -0.2358)" text-anchor="middle" class="n">16</text>
<text x="504.52" y="900.22" transform="matrix(1 0.0005 0 1 0 -0.2523)" text-anchor="middle" class="n">-</text>
<text x="520.99" y="900.22" transform="matrix(1 0.0005 0 1 0 -0.2605)" text-anchor="middle" class="n">-</text>
<text x="504.52" y="913.39" transform="matrix(1 0.0005 0 1 0 -0.2523)" text-anchor="middle" class="n">-</text>
<text x="520.99" y="913.39" transform="matrix(1 0.0005 0 1 0 -0.2605)" text-anchor="middle" class="n">-</text>
<text x="504.52" y="919.98" transform="matrix(1 0.0005 0 1 0 -0.2523)" text-anchor="middle" class="n">-</text>
<text x="520.99" y="919.98" transform="matrix(1 0.0005 0 1 0 -0.2605)" text-anchor="middle" class="n">-</text>
<text x="489.78" y="893.63" transform="matrix(1 0.0005 0 1 0 -0.2449)" text-anchor="middle" class="i">U-turns</text>
<text x="495.78" y="900.22" transform="matrix(1 0.0005 0 1 0 -0.2479)" text-anchor="end" class="n ul">Blaxcell St (S)</text>
<text x="495.78" y="913.39" transform="matrix(1 0.0005 0 1 0 -0.2479)" text-anchor="end" class="n ul">Blaxcell St (N)</text>
<text x="495.78" y="919.98" transform="matrix(1 0.0005 0 1 0 -0.2479)" text-anchor="end" class="n ul">Lavinia St (W)</text>
</g>
</svg>
</body></html>
